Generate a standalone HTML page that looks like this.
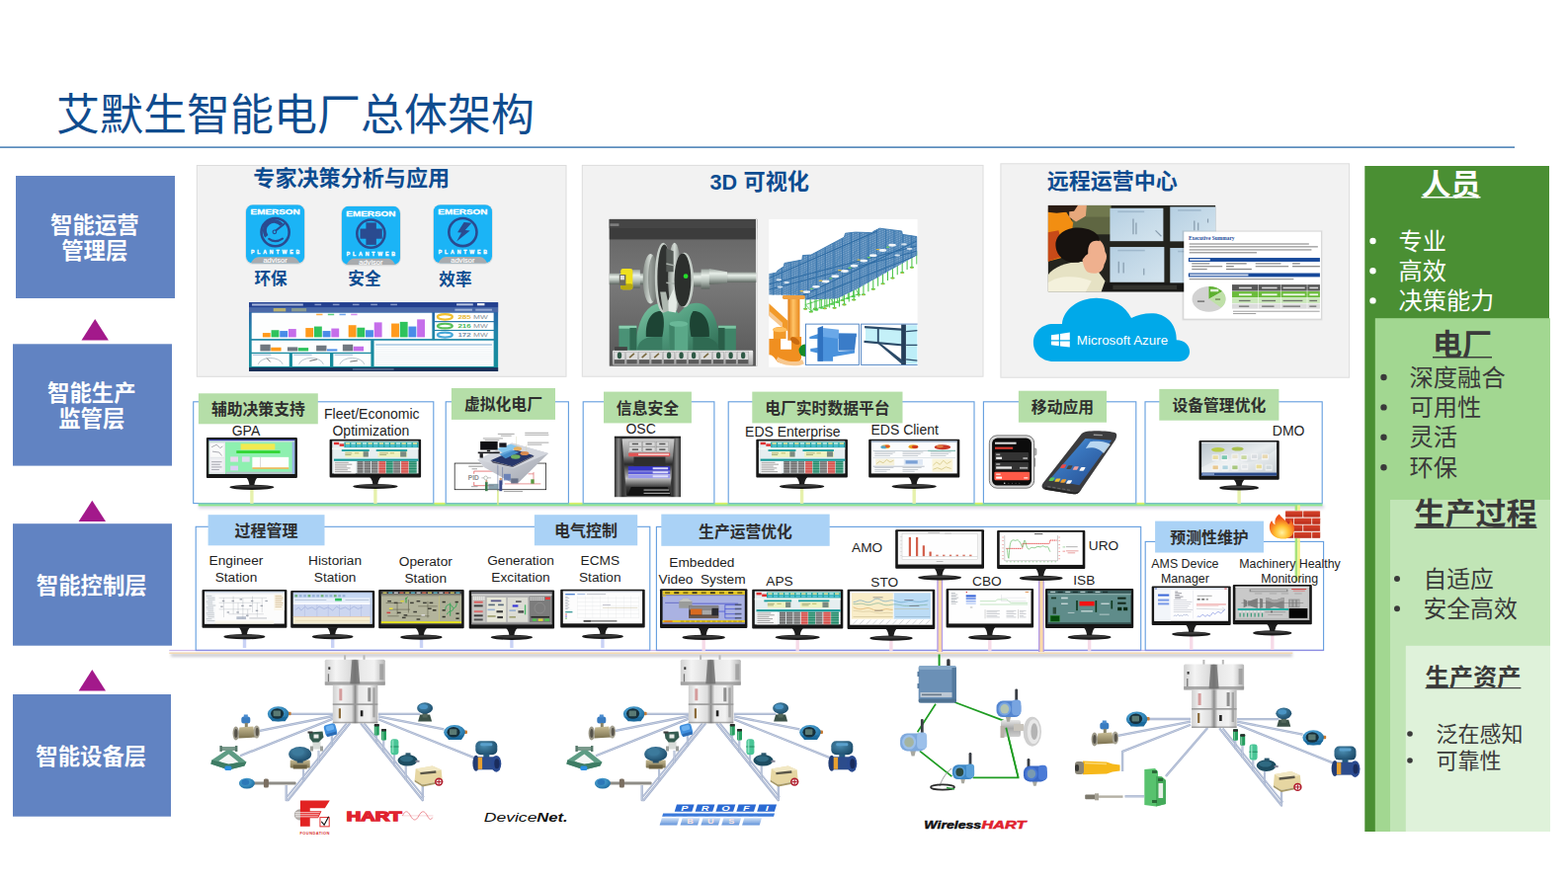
<!DOCTYPE html>
<html lang="zh"><head><meta charset="utf-8"><title>艾默生智能电厂总体架构</title>
<style>
html,body{margin:0;padding:0;background:#fff;}
body{width:1587px;height:892px;overflow:hidden;font-family:"Liberation Sans",sans-serif;}
#s{position:relative;width:1587px;height:892px;overflow:hidden;background:#fff;}
#s>svg{position:absolute;left:0;top:0;}
.t{position:absolute;transform:translate(-50%,-50%);white-space:nowrap;line-height:1;font-family:"Liberation Sans",sans-serif;text-align:center;}
.cj{font-family:"Liberation Sans","Noto Sans CJK SC",sans-serif;}
.cb{font-family:"Liberation Sans","Noto Sans CJK SC",sans-serif;font-weight:bold;}
</style></head><body>
<div id="s">
<svg width="1587" height="892" viewBox="0 0 1587 892" role="img" aria-label="艾默生智能电厂总体架构">
<filter id="blur2" x="-5%" y="-300%" width="110%" height="700%"><feGaussianBlur stdDeviation="1.6"/></filter>
<filter id="blur1" x="-20%" y="-20%" width="140%" height="140%"><feGaussianBlur stdDeviation="0.6"/></filter>
<linearGradient id="hubg" x1="0" y1="0" x2="1" y2="0"><stop offset="0" stop-color="#d0d0d0"/><stop offset=".18" stop-color="#f4f4f4"/><stop offset=".42" stop-color="#dcdcdc"/><stop offset=".5" stop-color="#8c8c8c"/><stop offset=".58" stop-color="#e8e8e8"/><stop offset=".82" stop-color="#f2f2f2"/><stop offset="1" stop-color="#b4b4b4"/></linearGradient>
<radialGradient id="bluR" cx=".4" cy=".35" r=".7"><stop offset="0" stop-color="#5ab4e6"/><stop offset="1" stop-color="#1c6a9c"/></radialGradient>
<radialGradient id="tealR" cx=".4" cy=".35" r=".7"><stop offset="0" stop-color="#4a8cb0"/><stop offset="1" stop-color="#1c4a68"/></radialGradient>
<linearGradient id="brs" x1="0" y1="0" x2="0" y2="1"><stop offset="0" stop-color="#c8bc94"/><stop offset="1" stop-color="#7c7250"/></linearGradient>
<linearGradient id="slv" x1="0" y1="0" x2="0" y2="1"><stop offset="0" stop-color="#e8e8e8"/><stop offset=".5" stop-color="#a8a8a8"/><stop offset="1" stop-color="#d0d0d0"/></linearGradient>
<text class="cj" x="57" y="132.2" font-size="44" fill="#0f4c8e">艾默生智能电厂总体架构</text>
<rect x="0.00" y="148.30" width="1533.00" height="1.70" fill="#5a8cbc" />
<rect x="16.00" y="178.00" width="161.00" height="124.00" fill="#6183c2" />
<text class="cb" x="51" y="235.86" font-size="22.4" fill="#fff">智能运营</text>
<text class="cb" x="62.2" y="262.26" font-size="22.4" fill="#fff">管理层</text>
<rect x="13.00" y="348.30" width="161.00" height="123.30" fill="#6183c2" />
<text class="cb" x="48" y="405.81" font-size="22.4" fill="#fff">智能生产</text>
<text class="cb" x="59.2" y="432.21" font-size="22.4" fill="#fff">监管层</text>
<rect x="13.00" y="530.20" width="161.00" height="123.50" fill="#6183c2" />
<text class="cb" x="36.8" y="601.01" font-size="22.4" fill="#fff">智能控制层</text>
<rect x="13.00" y="703.00" width="160.00" height="123.70" fill="#6183c2" />
<text class="cb" x="36.3" y="773.91" font-size="22.4" fill="#fff">智能设备层</text>
<path d="M96.2 323.0L109.9 344.5L82.5 344.5z" fill="#a3198b"/>
<path d="M93.3 506.8L107.0 528.0L79.6 528.0z" fill="#a3198b"/>
<path d="M93.3 677.9L107.0 699.6L79.6 699.6z" fill="#a3198b"/>
<rect x="1381.30" y="168.00" width="186.70" height="674.00" fill="#4a8f33" />
<rect x="1391.80" y="322.20" width="177.20" height="519.80" fill="#a2d791" />
<rect x="1407.00" y="506.00" width="162.00" height="336.00" fill="#c1e5b6" />
<rect x="1422.80" y="653.80" width="146.20" height="188.20" fill="#dff2da" />
<text class="cb" x="1438.5" y="196.8" font-size="30" fill="#fff">人员</text><rect x="1438.50" y="199.05" width="60.00" height="1.44" fill="#fff"/>
<circle cx="1389.5" cy="244.0" r="3.2" fill="#fff"/>
<text class="cj" x="1415.5" y="252.6" font-size="24.2" fill="#fff">专业</text>
<circle cx="1389.5" cy="274.2" r="3.2" fill="#fff"/>
<text class="cj" x="1415.5" y="282.8" font-size="24.2" fill="#fff">高效</text>
<circle cx="1389.5" cy="304.4" r="3.2" fill="#fff"/>
<text class="cj" x="1415.5" y="313" font-size="24.2" fill="#fff">决策能力</text>
<text class="cb" x="1450" y="358.8" font-size="30" fill="#3a3a3a">电厂</text><rect x="1450.00" y="361.05" width="60.00" height="1.44" fill="#3a3a3a"/>
<circle cx="1400.5" cy="382.0" r="3.2" fill="#3a3a3a"/>
<text class="cj" x="1426.5" y="390.6" font-size="24.3" fill="#3a3a3a">深度融合</text>
<circle cx="1400.5" cy="412.4" r="3.2" fill="#3a3a3a"/>
<text class="cj" x="1426.5" y="421" font-size="24.3" fill="#3a3a3a">可用性</text>
<circle cx="1400.5" cy="442.8" r="3.2" fill="#3a3a3a"/>
<text class="cj" x="1426.5" y="451.4" font-size="24.3" fill="#3a3a3a">灵活</text>
<circle cx="1400.5" cy="473.2" r="3.2" fill="#3a3a3a"/>
<text class="cj" x="1426.5" y="481.8" font-size="24.3" fill="#3a3a3a">环保</text>
<text class="cb" x="1431.5" y="531.16" font-size="31" fill="#3a3a3a">生产过程</text><rect x="1431.50" y="533.49" width="124.00" height="1.49" fill="#3a3a3a"/>
<circle cx="1414" cy="586.0" r="3.0" fill="#3a3a3a"/>
<text class="cj" x="1440.5" y="594.6" font-size="23.8" fill="#3a3a3a">自适应</text>
<circle cx="1414" cy="616.3" r="3.0" fill="#3a3a3a"/>
<text class="cj" x="1440.5" y="624.9" font-size="23.8" fill="#3a3a3a">安全高效</text>
<text class="cb" x="1442.6" y="694.21" font-size="24.2" fill="#3a3a3a">生产资产</text><rect x="1442.60" y="696.03" width="96.80" height="1.16" fill="#3a3a3a"/>
<circle cx="1427" cy="743.0" r="2.8" fill="#3a3a3a"/>
<text class="cj" x="1453.5" y="751" font-size="22" fill="#3a3a3a">泛在感知</text>
<circle cx="1427" cy="770.0" r="2.8" fill="#3a3a3a"/>
<text class="cj" x="1453.5" y="778" font-size="22" fill="#3a3a3a">可靠性</text>
<rect x="199.30" y="167.50" width="373.70" height="213.80" fill="#f2f2f2" stroke="#dcdcdc" stroke-width="1" />
<rect x="589.30" y="167.40" width="405.70" height="213.80" fill="#f2f2f2" stroke="#dcdcdc" stroke-width="1" />
<rect x="1012.90" y="165.80" width="352.70" height="216.40" fill="#f2f2f2" stroke="#dcdcdc" stroke-width="1" />
<text class="cb" x="256.3" y="188.2" font-size="22.1" fill="#0c4c90">专家决策分析与应用</text>
<text x="718.6" y="192.4" font-family="Liberation Sans, sans-serif" font-weight="bold" font-size="21.6" fill="#0c4c90">3D</text>
<text class="cb" x="752.5" y="192.3" font-size="22.2" fill="#0c4c90">可视化</text>
<text class="cb" x="1059.8" y="190.8" font-size="22" fill="#0c4c90">远程运营中心</text>
<g transform="translate(249.00 207.30) scale(0.11840)"><rect x="-6" y="-2" width="512" height="512" rx="64" fill="#000" opacity="0.10"/><clipPath id="pwca"><rect x="0" y="0" width="500" height="500" rx="60"/></clipPath><g clip-path="url(#pwca)"><rect x="0" y="0" width="500" height="500" fill="#1bb4f6"/><path d="M35 505 C60 470 75 447 105 447 L395 447 C425 447 440 470 465 505z" fill="#a9abae"/></g><text x="250" y="82" font-family="Liberation Sans, sans-serif" font-weight="bold" font-size="66" fill="#fff" stroke="#fff" stroke-width="2.5" text-anchor="middle" transform="translate(250 0) scale(1.27 1) translate(-250 0)">EMERSON</text><text x="262" y="424" font-family="Liberation Sans, sans-serif" font-weight="bold" font-size="44" fill="#fff" stroke="#fff" stroke-width="2.5" text-anchor="middle" letter-spacing="24">PLANTWEB</text><text x="250" y="497" font-family="Liberation Sans, sans-serif" font-size="64" fill="#fff" stroke="#fff" stroke-width="1" text-anchor="middle">advisor</text><circle cx="250" cy="235" r="119" fill="none" stroke="#2a4b90" stroke-width="22"/><path d="M176 270 A80 80 0 0 1 304 172" fill="none" stroke="#2a4b90" stroke-width="32"/><path d="M196 292 Q250 332 312 290" fill="none" stroke="#2a4b90" stroke-width="18" stroke-linecap="round"/><path d="M246 228 L324 166" stroke="#2a4b90" stroke-width="17" stroke-linecap="round"/><circle cx="244" cy="232" r="15" fill="#1bb4f6" stroke="#2a4b90" stroke-width="10"/></g>
<g transform="translate(345.80 208.80) scale(0.11840)"><rect x="-6" y="-2" width="512" height="512" rx="64" fill="#000" opacity="0.10"/><clipPath id="pwcb"><rect x="0" y="0" width="500" height="500" rx="60"/></clipPath><g clip-path="url(#pwcb)"><rect x="0" y="0" width="500" height="500" fill="#1bb4f6"/><path d="M35 505 C60 470 75 447 105 447 L395 447 C425 447 440 470 465 505z" fill="#a9abae"/></g><text x="250" y="82" font-family="Liberation Sans, sans-serif" font-weight="bold" font-size="66" fill="#fff" stroke="#fff" stroke-width="2.5" text-anchor="middle" transform="translate(250 0) scale(1.27 1) translate(-250 0)">EMERSON</text><text x="262" y="424" font-family="Liberation Sans, sans-serif" font-weight="bold" font-size="44" fill="#fff" stroke="#fff" stroke-width="2.5" text-anchor="middle" letter-spacing="24">PLANTWEB</text><text x="250" y="497" font-family="Liberation Sans, sans-serif" font-size="64" fill="#fff" stroke="#fff" stroke-width="1" text-anchor="middle">advisor</text><circle cx="250" cy="235" r="119" fill="none" stroke="#2a4b90" stroke-width="22"/><rect x="208" y="140" width="88" height="190" fill="#2a4b90"/><rect x="158" y="192" width="188" height="86" fill="#2a4b90"/></g>
<g transform="translate(438.80 207.20) scale(0.11840)"><rect x="-6" y="-2" width="512" height="512" rx="64" fill="#000" opacity="0.10"/><clipPath id="pwcc"><rect x="0" y="0" width="500" height="500" rx="60"/></clipPath><g clip-path="url(#pwcc)"><rect x="0" y="0" width="500" height="500" fill="#1bb4f6"/><path d="M35 505 C60 470 75 447 105 447 L395 447 C425 447 440 470 465 505z" fill="#a9abae"/></g><text x="250" y="82" font-family="Liberation Sans, sans-serif" font-weight="bold" font-size="66" fill="#fff" stroke="#fff" stroke-width="2.5" text-anchor="middle" transform="translate(250 0) scale(1.27 1) translate(-250 0)">EMERSON</text><text x="262" y="424" font-family="Liberation Sans, sans-serif" font-weight="bold" font-size="44" fill="#fff" stroke="#fff" stroke-width="2.5" text-anchor="middle" letter-spacing="24">PLANTWEB</text><text x="250" y="497" font-family="Liberation Sans, sans-serif" font-size="64" fill="#fff" stroke="#fff" stroke-width="1" text-anchor="middle">advisor</text><circle cx="250" cy="235" r="119" fill="none" stroke="#2a4b90" stroke-width="22"/><path d="M260 150L325 157L270 217L312 222L197 315L238 240L205 237z" fill="#2a4b90"/></g>
<text class="cb" x="257.4" y="288.3" font-size="16.6" fill="#0c4c90">环保</text>
<text class="cb" x="352.3" y="288.3" font-size="16.6" fill="#0c4c90">安全</text>
<text class="cb" x="444.3" y="289.3" font-size="16.6" fill="#0c4c90">效率</text>
<g transform="translate(245 300) scale(0.16697)"><defs><linearGradient id="dbg" x1="0" y1="0" x2="0" y2="1"><stop offset="0" stop-color="#2c56a8"/><stop offset="0.45" stop-color="#1f86a8"/><stop offset="1" stop-color="#15909a"/></linearGradient></defs><rect x="42" y="37" width="1510" height="418" fill="url(#dbg)"/><rect x="42" y="37" width="1510" height="30" fill="#24408f"/><rect x="42" y="67" width="1510" height="30" fill="#4a68a8"/><rect x="190" y="72" width="75" height="20" fill="#b8b070"/><rect x="300" y="72" width="90" height="20" fill="#8a9a90"/><rect x="60" y="45" width="310" height="12" fill="#c8d4ee" opacity=".8"/><rect x="440" y="46" width="40" height="9" fill="#aebce0" opacity=".7"/><rect x="550" y="46" width="40" height="9" fill="#aebce0" opacity=".7"/><rect x="670" y="46" width="40" height="9" fill="#aebce0" opacity=".7"/><rect x="780" y="46" width="40" height="9" fill="#aebce0" opacity=".7"/><rect x="900" y="46" width="40" height="9" fill="#aebce0" opacity=".7"/><rect x="1300" y="44" width="100" height="12" fill="#dfe6f5" opacity=".8"/><rect x="1425" y="42" width="45" height="14" fill="#fff" opacity=".9"/><rect x="1290" y="76" width="105" height="12" fill="#c8d4ee" opacity=".7"/><rect x="1415" y="76" width="100" height="12" fill="#c8d4ee" opacity=".6"/><rect x="42" y="432" width="1510" height="23" fill="#1c3058"/><rect x="670" y="440" width="250" height="6" fill="#9fb0d0" opacity=".7"/><rect x="58" y="100" width="1094" height="158" fill="#fdfefe"/><rect x="125" y="222" width="47" height="26" fill="#ff9a1c"/><rect x="177" y="205" width="47" height="43" fill="#2fc35c"/><rect x="229" y="210" width="47" height="38" fill="#4a8ce8"/><rect x="281" y="198" width="47" height="50" fill="#c56eea"/><rect x="385" y="192" width="47" height="56" fill="#ff9a1c"/><rect x="437" y="183" width="47" height="65" fill="#2fc35c"/><rect x="489" y="210" width="47" height="38" fill="#4a8ce8"/><rect x="541" y="195" width="47" height="53" fill="#c56eea"/><rect x="645" y="175" width="47" height="73" fill="#ff9a1c"/><rect x="697" y="190" width="47" height="58" fill="#2fc35c"/><rect x="749" y="205" width="47" height="43" fill="#4a8ce8"/><rect x="801" y="158" width="47" height="90" fill="#c56eea"/><rect x="905" y="165" width="47" height="83" fill="#ff9a1c"/><rect x="957" y="155" width="47" height="93" fill="#2fc35c"/><rect x="1009" y="183" width="47" height="65" fill="#4a8ce8"/><rect x="1061" y="140" width="47" height="108" fill="#c56eea"/><rect x="450" y="106" width="38" height="9" fill="#ff9a1c" opacity=".8"/><rect x="520" y="106" width="38" height="9" fill="#2fc35c" opacity=".8"/><rect x="590" y="106" width="38" height="9" fill="#4a8ce8" opacity=".8"/><rect x="660" y="106" width="38" height="9" fill="#c56eea" opacity=".8"/><rect x="1168" y="100" width="357" height="50" fill="#fff"/><ellipse cx="1230" cy="125" rx="45" ry="16" fill="none" stroke="#f0c030" stroke-width="13"/><text x="1308" y="139" font-family="Liberation Sans, sans-serif" font-weight="bold" font-size="36" fill="#e8b830" textLength="80" lengthAdjust="spacingAndGlyphs">285</text><text x="1402" y="139" font-family="Liberation Sans, sans-serif" font-size="27" fill="#8a949e" textLength="88" lengthAdjust="spacingAndGlyphs">MW</text><rect x="1168" y="157" width="357" height="46" fill="#fff"/><ellipse cx="1230" cy="180" rx="45" ry="14" fill="none" stroke="#58c058" stroke-width="13"/><text x="1308" y="194" font-family="Liberation Sans, sans-serif" font-weight="bold" font-size="36" fill="#48b858" textLength="80" lengthAdjust="spacingAndGlyphs">216</text><text x="1402" y="194" font-family="Liberation Sans, sans-serif" font-size="27" fill="#8a949e" textLength="88" lengthAdjust="spacingAndGlyphs">MW</text><rect x="1168" y="210" width="357" height="48" fill="#fff"/><ellipse cx="1230" cy="234" rx="45" ry="15" fill="none" stroke="#48a8d8" stroke-width="13"/><text x="1308" y="248" font-family="Liberation Sans, sans-serif" font-weight="bold" font-size="36" fill="#7890a8" textLength="80" lengthAdjust="spacingAndGlyphs">172</text><text x="1402" y="248" font-family="Liberation Sans, sans-serif" font-size="27" fill="#8a949e" textLength="88" lengthAdjust="spacingAndGlyphs">MW</text><rect x="58" y="268" width="722" height="72" fill="#fdfefe"/><rect x="110" y="292" width="62" height="40" fill="#707880"/><rect x="175" y="310" width="62" height="22" fill="#ff9a1c"/><rect x="275" y="308" width="62" height="24" fill="#707880"/><rect x="340" y="312" width="62" height="20" fill="#2fc35c"/><rect x="450" y="298" width="62" height="34" fill="#707880"/><rect x="515" y="320" width="62" height="12" fill="#4a8ce8"/><rect x="610" y="292" width="62" height="40" fill="#707880"/><rect x="675" y="304" width="62" height="28" fill="#c56eea"/><rect x="800" y="268" width="725" height="157" fill="#fdfefe"/><rect x="810" y="290" width="705" height="7" fill="#8ab4d8"/><rect x="810" y="308" width="705" height="3" fill="#dfe8ee"/><rect x="810" y="321" width="705" height="3" fill="#dfe8ee"/><rect x="810" y="334" width="705" height="3" fill="#dfe8ee"/><rect x="810" y="347" width="705" height="3" fill="#dfe8ee"/><rect x="810" y="360" width="705" height="3" fill="#dfe8ee"/><rect x="810" y="373" width="705" height="3" fill="#dfe8ee"/><rect x="810" y="386" width="705" height="3" fill="#dfe8ee"/><rect x="810" y="399" width="705" height="3" fill="#dfe8ee"/><rect x="810" y="412" width="705" height="3" fill="#dfe8ee"/><rect x="58" y="348" width="228" height="77" fill="#fdfefe"/><path d="M98 412 A75 45 0 0 1 246 412" fill="none" stroke="#a8b8c0" stroke-width="5"/><rect x="66" y="352" width="110" height="6" fill="#7aa0c8" opacity=".7"/><rect x="305" y="348" width="228" height="77" fill="#fdfefe"/><path d="M345 412 A75 45 0 0 1 493 412" fill="none" stroke="#a8b8c0" stroke-width="5"/><rect x="313" y="352" width="110" height="6" fill="#7aa0c8" opacity=".7"/><rect x="553" y="348" width="228" height="77" fill="#fdfefe"/><path d="M593 412 A75 45 0 0 1 741 412" fill="none" stroke="#a8b8c0" stroke-width="5"/><rect x="561" y="352" width="110" height="6" fill="#7aa0c8" opacity=".7"/><path d="M150 375L172 398" stroke="#555" stroke-width="5"/><path d="M410 392L455 382" stroke="#555" stroke-width="5"/><path d="M655 396L700 390" stroke="#555" stroke-width="5"/></g>
<g transform="translate(610 215) scale(0.18273)"><defs><linearGradient id="tbg" x1="0" y1="0" x2="0" y2="1"><stop offset="0" stop-color="#626262"/><stop offset="0.45" stop-color="#787878"/><stop offset="1" stop-color="#585858"/></linearGradient><linearGradient id="shf" x1="0" y1="0" x2="0" y2="1"><stop offset="0" stop-color="#9aa39d"/><stop offset="0.3" stop-color="#e8efe9"/><stop offset="0.6" stop-color="#b8c2bb"/><stop offset="1" stop-color="#5c645f"/></linearGradient><linearGradient id="dsk" x1="0" y1="0" x2="1" y2="0"><stop offset="0" stop-color="#8a928c"/><stop offset="0.5" stop-color="#d5dcd7"/><stop offset="1" stop-color="#6a726c"/></linearGradient><linearGradient id="grn" x1="0" y1="0" x2="1" y2="1"><stop offset="0" stop-color="#7cc4a2"/><stop offset="0.5" stop-color="#4f9a7c"/><stop offset="1" stop-color="#2f6a52"/></linearGradient><linearGradient id="tlb" x1="0" y1="0" x2="0" y2="1"><stop offset="0" stop-color="#f0f0f0"/><stop offset="1" stop-color="#a8a8a8"/></linearGradient></defs><rect x="37" y="38" width="818" height="814" fill="url(#tbg)"/><rect x="37" y="38" width="818" height="112" fill="#3c3c3c"/><rect x="37" y="38" width="818" height="50" fill="#454545"/><rect x="40" y="62" width="50" height="14" fill="#999" opacity=".7"/><rect x="848" y="38" width="9" height="814" fill="#e6e6e6"/><rect x="37" y="338" width="200" height="62" fill="url(#shf)"/><rect x="165" y="318" width="42" height="102" fill="url(#shf)"/><rect x="100" y="312" width="66" height="116" rx="12" fill="#efe01e"/><rect x="100" y="395" width="66" height="33" rx="10" fill="#b8aa10"/><rect x="92" y="345" width="36" height="60" fill="#6a6a60"/><rect x="98" y="350" width="22" height="24" fill="#ddd"/><rect x="490" y="332" width="60" height="80" fill="url(#shf)"/><rect x="545" y="315" width="48" height="110" fill="url(#shf)"/><path d="M590 312L690 330L690 392L590 400z" fill="url(#shf)"/><rect x="690" y="332" width="160" height="56" fill="url(#shf)"/><path d="M180 765C185 640 215 560 270 520C300 500 340 498 380 520L420 560L460 520C500 495 545 498 575 520C625 560 645 640 652 765z" fill="url(#grn)"/><rect x="90" y="628" width="98" height="137" fill="#4a9276"/><rect x="90" y="628" width="98" height="16" fill="#8ad0b0"/><rect x="150" y="640" width="38" height="125" fill="#2f6a52"/><rect x="640" y="628" width="98" height="137" fill="#3f8468"/><rect x="640" y="628" width="98" height="16" fill="#7cc4a2"/><rect x="640" y="640" width="36" height="125" fill="#2a5e48"/><path d="M240 690C235 600 270 545 325 548C345 580 340 640 330 690z" fill="#1d4434"/><path d="M590 690C595 600 560 545 500 548C475 580 480 640 490 690z" fill="#1d4434"/><path d="M190 765C195 715 230 690 290 690L330 690L330 765z" fill="#3a7c62"/><path d="M645 765C640 715 600 690 545 690L500 690L500 765z" fill="#2f6a52"/><rect x="368" y="615" width="104" height="150" fill="#5aa888"/><rect x="368" y="615" width="30" height="150" fill="#3f8468"/><ellipse cx="420" cy="618" rx="52" ry="16" fill="#6ab898"/><ellipse cx="265" cy="368" rx="42" ry="138" fill="url(#dsk)"/><ellipse cx="282" cy="368" rx="30" ry="128" fill="#6a726c" opacity=".6"/><ellipse cx="335" cy="362" rx="46" ry="194" fill="#c8d0ca"/><ellipse cx="341" cy="362" rx="38" ry="184" fill="#303331"/><ellipse cx="398" cy="360" rx="36" ry="192" fill="url(#dsk)"/><path d="M352 200L392 215L392 330L352 330z" fill="#555b57"/><path d="M352 285L398 295" stroke="#aab2ac" stroke-width="8"/><path d="M352 390L398 395" stroke="#aab2ac" stroke-width="8"/><ellipse cx="452" cy="375" rx="52" ry="152" fill="#c5cdc7"/><ellipse cx="443" cy="375" rx="46" ry="148" fill="#2c2f2d"/><path d="M318 440L350 440L372 545L335 555z" fill="#aeb8b0"/><path d="M362 490L392 425L410 500L405 555L365 548z" fill="#e4eae5"/><circle cx="460" cy="354" r="13" fill="#25dd2a"/><rect x="55" y="765" width="778" height="82" rx="6" fill="url(#tlb)"/><rect x="66" y="745" width="70" height="20" fill="#444"/><rect x="62.0" y="772" width="62" height="70" fill="#dcdcdc" stroke="#888" stroke-width="2"/><rect x="64.0" y="816" width="58" height="24" fill="#5a5a5a"/><ellipse cx="93.0" cy="793" rx="12" ry="18" fill="#2f5a46"/><rect x="130.5" y="772" width="62" height="70" fill="#dcdcdc" stroke="#888" stroke-width="2"/><rect x="132.5" y="816" width="58" height="24" fill="#5a5a5a"/><path d="M148.5 805L174.5 782" stroke="#7a6a40" stroke-width="9"/><rect x="199.0" y="772" width="62" height="70" fill="#dcdcdc" stroke="#888" stroke-width="2"/><rect x="201.0" y="816" width="58" height="24" fill="#5a5a5a"/><path d="M217.0 805L243.0 782" stroke="#7a6a40" stroke-width="9"/><rect x="267.5" y="772" width="62" height="70" fill="#dcdcdc" stroke="#888" stroke-width="2"/><rect x="269.5" y="816" width="58" height="24" fill="#5a5a5a"/><path d="M285.5 805L311.5 782" stroke="#7a6a40" stroke-width="9"/><rect x="336.0" y="772" width="62" height="70" fill="#dcdcdc" stroke="#888" stroke-width="2"/><rect x="338.0" y="816" width="58" height="24" fill="#5a5a5a"/><ellipse cx="367.0" cy="793" rx="12" ry="18" fill="#2f5a46"/><rect x="404.5" y="772" width="62" height="70" fill="#dcdcdc" stroke="#888" stroke-width="2"/><rect x="406.5" y="816" width="58" height="24" fill="#5a5a5a"/><ellipse cx="435.5" cy="793" rx="12" ry="18" fill="#2f5a46"/><rect x="473.0" y="772" width="62" height="70" fill="#dcdcdc" stroke="#888" stroke-width="2"/><rect x="475.0" y="816" width="58" height="24" fill="#5a5a5a"/><ellipse cx="504.0" cy="793" rx="12" ry="18" fill="#2f5a46"/><rect x="541.5" y="772" width="62" height="70" fill="#dcdcdc" stroke="#888" stroke-width="2"/><rect x="543.5" y="816" width="58" height="24" fill="#5a5a5a"/><path d="M559.5 805L585.5 782" stroke="#7a6a40" stroke-width="9"/><rect x="610.0" y="772" width="62" height="70" fill="#dcdcdc" stroke="#888" stroke-width="2"/><rect x="612.0" y="816" width="58" height="24" fill="#5a5a5a"/><ellipse cx="641.0" cy="793" rx="12" ry="18" fill="#2f5a46"/><rect x="678.5" y="772" width="62" height="70" fill="#dcdcdc" stroke="#888" stroke-width="2"/><rect x="680.5" y="816" width="58" height="24" fill="#5a5a5a"/><ellipse cx="709.5" cy="793" rx="12" ry="18" fill="#2f5a46"/><rect x="747.0" y="772" width="62" height="70" fill="#dcdcdc" stroke="#888" stroke-width="2"/><rect x="749.0" y="816" width="58" height="24" fill="#5a5a5a"/><ellipse cx="778.0" cy="793" rx="12" ry="18" fill="#2f5a46"/></g>
<g transform="translate(770 215) scale(0.18273)"><rect x="45" y="38" width="823" height="820" fill="#fff"/><clipPath id="stc"><rect x="45" y="38" width="823" height="820"/></clipPath><g clip-path="url(#stc)"><g transform="translate(32.84 54.73) scale(0.6133)"><defs><pattern id="lat" width="22" height="20" patternUnits="userSpaceOnUse" patternTransform="skewY(-24)"><rect width="22" height="20" fill="#4b82b4"/><rect x="5" y="5" width="13" height="10" fill="#8fb3d6"/></pattern></defs><path d="M350 660V780" stroke="#42c242" stroke-width="9"/><ellipse cx="350" cy="784" rx="20" ry="9" fill="#4fd04a"/><ellipse cx="350" cy="786" rx="9" ry="5" fill="#e8a030"/><path d="M394 658V778" stroke="#42c242" stroke-width="9"/><path d="M437 657V777" stroke="#42c242" stroke-width="9"/><ellipse cx="437" cy="781" rx="20" ry="9" fill="#4fd04a"/><ellipse cx="437" cy="783" rx="9" ry="5" fill="#e8a030"/><path d="M481 655V775" stroke="#42c242" stroke-width="9"/><path d="M525 654V774" stroke="#42c242" stroke-width="9"/><ellipse cx="525" cy="778" rx="20" ry="9" fill="#4fd04a"/><ellipse cx="525" cy="780" rx="9" ry="5" fill="#e8a030"/><path d="M568 652V772" stroke="#42c242" stroke-width="9"/><path d="M612 651V771" stroke="#42c242" stroke-width="9"/><ellipse cx="612" cy="775" rx="20" ry="9" fill="#4fd04a"/><ellipse cx="612" cy="777" rx="9" ry="5" fill="#e8a030"/><path d="M656 642V762" stroke="#42c242" stroke-width="9"/><path d="M700 620V740" stroke="#42c242" stroke-width="9"/><ellipse cx="700" cy="744" rx="20" ry="9" fill="#4fd04a"/><ellipse cx="700" cy="746" rx="9" ry="5" fill="#e8a030"/><path d="M743 598V718" stroke="#42c242" stroke-width="9"/><path d="M787 577V697" stroke="#42c242" stroke-width="9"/><ellipse cx="787" cy="701" rx="20" ry="9" fill="#4fd04a"/><ellipse cx="787" cy="703" rx="9" ry="5" fill="#e8a030"/><path d="M831 554V674" stroke="#42c242" stroke-width="9"/><path d="M874 530V650" stroke="#42c242" stroke-width="9"/><ellipse cx="874" cy="654" rx="20" ry="9" fill="#4fd04a"/><ellipse cx="874" cy="656" rx="9" ry="5" fill="#e8a030"/><path d="M918 506V626" stroke="#42c242" stroke-width="9"/><path d="M962 481V601" stroke="#42c242" stroke-width="9"/><ellipse cx="962" cy="605" rx="20" ry="9" fill="#4fd04a"/><ellipse cx="962" cy="607" rx="9" ry="5" fill="#e8a030"/><path d="M1005 457V577" stroke="#42c242" stroke-width="9"/><path d="M1049 432V552" stroke="#42c242" stroke-width="9"/><ellipse cx="1049" cy="556" rx="20" ry="9" fill="#4fd04a"/><ellipse cx="1049" cy="558" rx="9" ry="5" fill="#e8a030"/><path d="M1093 407V527" stroke="#42c242" stroke-width="9"/><path d="M1137 381V501" stroke="#42c242" stroke-width="9"/><ellipse cx="1137" cy="505" rx="20" ry="9" fill="#4fd04a"/><ellipse cx="1137" cy="507" rx="9" ry="5" fill="#e8a030"/><path d="M1180 356V476" stroke="#42c242" stroke-width="9"/><path d="M1224 332V452" stroke="#42c242" stroke-width="9"/><ellipse cx="1224" cy="456" rx="20" ry="9" fill="#4fd04a"/><ellipse cx="1224" cy="458" rx="9" ry="5" fill="#e8a030"/><path d="M1268 308V428" stroke="#42c242" stroke-width="9"/><path d="M1311 284V404" stroke="#42c242" stroke-width="9"/><ellipse cx="1311" cy="408" rx="20" ry="9" fill="#4fd04a"/><ellipse cx="1311" cy="410" rx="9" ry="5" fill="#e8a030"/><path d="M1355 260V380" stroke="#42c242" stroke-width="9"/><path d="M400 715V805" stroke="#42c242" stroke-width="8"/><ellipse cx="400" cy="809" rx="20" ry="8" fill="#4fd04a"/><ellipse cx="400" cy="811" rx="8" ry="4" fill="#e8a030"/><path d="M448 698V788" stroke="#42c242" stroke-width="8"/><ellipse cx="448" cy="792" rx="20" ry="8" fill="#4fd04a"/><path d="M496 681V771" stroke="#42c242" stroke-width="8"/><ellipse cx="496" cy="775" rx="20" ry="8" fill="#4fd04a"/><path d="M543 663V753" stroke="#42c242" stroke-width="8"/><ellipse cx="543" cy="757" rx="20" ry="8" fill="#4fd04a"/><ellipse cx="543" cy="759" rx="8" ry="4" fill="#e8a030"/><path d="M591 646V736" stroke="#42c242" stroke-width="8"/><ellipse cx="591" cy="740" rx="20" ry="8" fill="#4fd04a"/><path d="M639 629V719" stroke="#42c242" stroke-width="8"/><ellipse cx="639" cy="723" rx="20" ry="8" fill="#4fd04a"/><path d="M687 612V702" stroke="#42c242" stroke-width="8"/><ellipse cx="687" cy="706" rx="20" ry="8" fill="#4fd04a"/><ellipse cx="687" cy="708" rx="8" ry="4" fill="#e8a030"/><path d="M734 594V684" stroke="#42c242" stroke-width="8"/><ellipse cx="734" cy="688" rx="20" ry="8" fill="#4fd04a"/><path d="M782 577V667" stroke="#42c242" stroke-width="8"/><ellipse cx="782" cy="671" rx="20" ry="8" fill="#4fd04a"/><path d="M830 560V650" stroke="#42c242" stroke-width="8"/><ellipse cx="830" cy="654" rx="20" ry="8" fill="#4fd04a"/><ellipse cx="830" cy="656" rx="8" ry="4" fill="#e8a030"/><path d="M350 745L800 600M400 800L830 648M350 745L400 800M560 675L610 730M800 600L830 648" stroke="#42c242" stroke-width="7" fill="none"/><path d="M20 470L90 455L95 440L155 400L160 370L320 340L325 300L400 295L410 290L700 135L710 100L800 90L950 95L960 85L1020 55L1220 80L1225 110L1355 130L1355 300L1200 385L1000 500L820 600L640 690L350 700L330 660L20 655z" fill="url(#lat)"/><clipPath id="stb"><path d="M20 470L90 455L95 440L155 400L160 370L320 340L325 300L400 295L410 290L700 135L710 100L800 90L950 95L960 85L1020 55L1220 80L1225 110L1355 130L1355 300L1200 385L1000 500L820 600L640 690L350 700L330 660L20 655z"/></clipPath><g clip-path="url(#stb)"><path d="M20 560L1355 215" stroke="#2c6aa2" stroke-width="9"/><path d="M20 610L1355 262" stroke="#2c6aa2" stroke-width="9"/><path d="M330 660L1355 170" stroke="#2c6aa2" stroke-width="9"/><path d="M20 505L1000 80" stroke="#2c6aa2" stroke-width="9"/><path d="M350 700L1355 300" stroke="#2c6aa2" stroke-width="9"/><path d="M60 40V720" stroke="#3573ac" stroke-width="9" opacity=".9"/><path d="M138 40V720" stroke="#3573ac" stroke-width="9" opacity=".9"/><path d="M216 40V720" stroke="#3573ac" stroke-width="9" opacity=".9"/><path d="M294 40V720" stroke="#3573ac" stroke-width="9" opacity=".9"/><path d="M372 40V720" stroke="#3573ac" stroke-width="9" opacity=".9"/><path d="M450 40V720" stroke="#3573ac" stroke-width="9" opacity=".9"/><path d="M528 40V720" stroke="#3573ac" stroke-width="9" opacity=".9"/><path d="M606 40V720" stroke="#3573ac" stroke-width="9" opacity=".9"/><path d="M684 40V720" stroke="#3573ac" stroke-width="9" opacity=".9"/><path d="M762 40V720" stroke="#3573ac" stroke-width="9" opacity=".9"/><path d="M840 40V720" stroke="#3573ac" stroke-width="9" opacity=".9"/><path d="M918 40V720" stroke="#3573ac" stroke-width="9" opacity=".9"/><path d="M996 40V720" stroke="#3573ac" stroke-width="9" opacity=".9"/><path d="M1074 40V720" stroke="#3573ac" stroke-width="9" opacity=".9"/><path d="M1152 40V720" stroke="#3573ac" stroke-width="9" opacity=".9"/><path d="M1230 40V720" stroke="#3573ac" stroke-width="9" opacity=".9"/><path d="M1308 40V720" stroke="#3573ac" stroke-width="9" opacity=".9"/><path d="M1386 40V720" stroke="#3573ac" stroke-width="9" opacity=".9"/><path d="M250 640L360 430" stroke="#3f7fb8" stroke-width="6" opacity=".8"/><path d="M400 580L510 370" stroke="#3f7fb8" stroke-width="6" opacity=".8"/><path d="M550 520L660 310" stroke="#3f7fb8" stroke-width="6" opacity=".8"/><path d="M700 460L810 250" stroke="#3f7fb8" stroke-width="6" opacity=".8"/><path d="M850 400L960 190" stroke="#3f7fb8" stroke-width="6" opacity=".8"/><path d="M1000 340L1110 130" stroke="#3f7fb8" stroke-width="6" opacity=".8"/><path d="M1150 280L1260 70" stroke="#3f7fb8" stroke-width="6" opacity=".8"/><path d="M1300 220L1410 10" stroke="#3f7fb8" stroke-width="6" opacity=".8"/><ellipse cx="360" cy="630" rx="34" ry="13" fill="#fff" opacity=".92"/><ellipse cx="315" cy="622" rx="18" ry="6" fill="#e8c040"/><ellipse cx="446" cy="583" rx="34" ry="13" fill="#fff" opacity=".92"/><ellipse cx="406" cy="601" rx="16" ry="6" fill="#6cd060"/><ellipse cx="532" cy="536" rx="34" ry="13" fill="#fff" opacity=".92"/><ellipse cx="487" cy="528" rx="18" ry="6" fill="#e8c040"/><ellipse cx="618" cy="489" rx="34" ry="13" fill="#fff" opacity=".92"/><ellipse cx="578" cy="507" rx="16" ry="6" fill="#6cd060"/><ellipse cx="704" cy="442" rx="34" ry="13" fill="#fff" opacity=".92"/><ellipse cx="659" cy="434" rx="18" ry="6" fill="#e8c040"/><ellipse cx="790" cy="395" rx="34" ry="13" fill="#fff" opacity=".92"/><ellipse cx="750" cy="413" rx="16" ry="6" fill="#6cd060"/><ellipse cx="876" cy="348" rx="34" ry="13" fill="#fff" opacity=".92"/><ellipse cx="831" cy="340" rx="18" ry="6" fill="#e8c040"/><ellipse cx="962" cy="301" rx="34" ry="13" fill="#fff" opacity=".92"/><ellipse cx="922" cy="319" rx="16" ry="6" fill="#6cd060"/><ellipse cx="1048" cy="254" rx="34" ry="13" fill="#fff" opacity=".92"/><ellipse cx="1003" cy="246" rx="18" ry="6" fill="#e8c040"/><ellipse cx="1134" cy="207" rx="34" ry="13" fill="#fff" opacity=".92"/><ellipse cx="1094" cy="225" rx="16" ry="6" fill="#6cd060"/><ellipse cx="110" cy="520" rx="26" ry="10" fill="#fff" opacity=".75"/><ellipse cx="180" cy="545" rx="26" ry="10" fill="#fff" opacity=".75"/><ellipse cx="120" cy="585" rx="26" ry="10" fill="#fff" opacity=".75"/><ellipse cx="1240" cy="200" rx="26" ry="10" fill="#fff" opacity=".75"/><ellipse cx="1290" cy="240" rx="26" ry="10" fill="#fff" opacity=".75"/><ellipse cx="1180" cy="300" rx="26" ry="10" fill="#fff" opacity=".75"/></g><path d="M20 470L90 455L95 440L155 400L160 370L320 340L325 300L400 295L410 290L700 135L710 100L800 90L950 95L960 85L1020 55L1220 80L1225 110L1355 130L1355 300" fill="none" stroke="#3a78b0" stroke-width="8"/></g><defs><linearGradient id="org" x1="0" y1="0" x2="1" y2="0"><stop offset="0" stop-color="#e07a10"/><stop offset="0.45" stop-color="#ffc468"/><stop offset="1" stop-color="#e8861a"/></linearGradient></defs><path d="M45 505L150 600L150 660L45 570z" fill="#f29a2a"/><path d="M45 545L120 612L120 640L45 575z" fill="#f7c890"/><rect x="150" y="460" width="66" height="250" fill="url(#org)"/><rect x="120" y="460" width="125" height="22" rx="8" fill="#f0a040"/><path d="M70 650C70 630 140 630 140 650L140 700L70 700z" fill="#f29a2a"/><ellipse cx="105" cy="650" rx="40" ry="14" fill="#ffc060"/><path d="M45 700L110 700L110 760L170 760L170 690L225 690L225 800C225 830 200 835 170 835L110 835C80 835 80 790 45 790z" fill="#f08f20"/><path d="M95 800C120 820 190 840 230 815L240 838C200 860 110 850 85 820z" fill="#f7c890"/><ellipse cx="190" cy="712" rx="30" ry="16" fill="#c86a10" transform="rotate(35 190 712)"/><circle cx="245" cy="765" r="34" fill="#158a28"/><rect x="249" y="619" width="295" height="226" fill="#fff" stroke="#4a80c2" stroke-width="5"/><path d="M270 690L335 668L530 672L530 690L430 700L430 770L520 765L520 780L400 800L400 825L315 825L315 780L275 770L275 755L315 750L315 700L270 700z" fill="#4a92dc"/><path d="M315 640L345 630L345 825L315 825z" fill="#2f72c0"/><path d="M345 640L432 650L432 700L345 690z" fill="#6aa8e8"/><path d="M432 672L530 672L520 765L432 765z" fill="#3a7cc8"/><rect x="556" y="619" width="320" height="226" fill="#fff" stroke="#4a80c2" stroke-width="5"/><path d="M580 640L780 652L780 735L580 715z" fill="#c4f0f8"/><path d="M805 625L868 625L868 840L805 840z" fill="#bdeef8"/><path d="M575 630L800 645L800 657L575 642z" fill="#2b4a68"/><path d="M572 710L790 730L790 742L572 722z" fill="#2b4a68"/><rect x="778" y="622" width="26" height="222" fill="#243e5a"/><path d="M640 720L655 720L800 830L780 840z" fill="#2b4a68"/><path d="M645 642L655 642L655 722L645 722z" fill="#2b4a68"/><path d="M805 660L868 655M805 735L868 735M805 815L868 822" stroke="#2b4a68" stroke-width="7"/></g></g>
<g transform="translate(1040 200) scale(0.19627)"><clipPath id="phc"><rect x="105" y="40" width="865" height="447"/></clipPath><g clip-path="url(#phc)"><rect x="105" y="40" width="865" height="447" fill="#24241e"/><rect x="230" y="40" width="200" height="150" fill="#5f6642"/><rect x="300" y="40" width="130" height="60" fill="#70784e"/><defs><linearGradient id="scr" x1="0" y1="0" x2="1" y2="1"><stop offset="0" stop-color="#b5cfe2"/><stop offset="1" stop-color="#d4e4ee"/></linearGradient></defs><rect x="425" y="55" width="275" height="170" fill="url(#scr)"/><rect x="465" y="69" width="137" height="8" fill="#9fb8cc"/><rect x="735" y="48" width="240" height="178" fill="url(#scr)"/><rect x="775" y="62" width="120" height="8" fill="#9fb8cc"/><rect x="425" y="255" width="280" height="182" fill="url(#scr)"/><rect x="465" y="269" width="140" height="8" fill="#9fb8cc"/><rect x="735" y="260" width="240" height="186" fill="url(#scr)"/><rect x="775" y="274" width="120" height="8" fill="#9fb8cc"/><path d="M545 110V190M560 130V190M660 170L690 200M470 330V390M495 335V390M600 365V400M860 120V170M880 130V170M930 110V130" stroke="#6a7f92" stroke-width="6" opacity=".7"/><rect x="380" y="440" width="590" height="47" fill="#1a1a18"/><rect x="440" y="452" width="330" height="22" fill="#33332e"/><path d="M105 60L200 75L235 130L215 300L105 330z" fill="#f28e12"/><path d="M105 180L160 170L190 300L105 330z" fill="#c84a18"/><path d="M215 40L305 40L300 95L250 125L215 100z" fill="#e8a87c"/><path d="M105 40L260 40L240 70L150 80L105 75z" fill="#2a1c14"/><path d="M105 400C140 350 230 320 330 335L400 430L380 487L105 487z" fill="#e6e2c4"/><path d="M105 440C160 400 250 400 330 430L300 487L105 487z" fill="#f4f1dc"/><path d="M290 215C340 190 395 215 400 280C415 300 405 330 395 345C390 390 350 400 310 385C280 360 270 270 290 215z" fill="#efb08e"/><path d="M145 250C140 180 220 140 300 160C350 170 375 200 370 225C330 215 310 240 312 290C290 300 285 330 262 335C200 340 150 310 145 250z" fill="#17120f"/></g></g>
<g transform="translate(1040 200) scale(0.19627)"><path d="M135 846C70 846 30 800 30 748C30 690 80 648 140 652L178 652C185 575 265 518 355 518C440 518 505 560 535 622C570 603 610 596 650 598C730 604 770 670 768 735C810 735 836 762 836 795C836 825 812 846 778 846z" fill="#00a9e9"/><path d="M122 710L162 704L162 735L122 735zM168 703L218 696L218 735L168 735zM122 741L162 741L162 766L122 760zM168 741L218 741L218 772L168 767z" fill="#fff"/></g>
<g transform="translate(1000 160) scale(0.25780)"><rect x="762" y="284" width="551" height="354" fill="#000" opacity=".07"/><rect x="766" y="287" width="543" height="347" fill="#000" opacity=".07"/><rect x="769" y="289" width="538" height="342" fill="#fff"/><text x="787" y="323" font-family="Liberation Serif, serif" font-weight="bold" font-size="21" fill="#1f4e9c">Executive Summary</text><rect x="790" y="335" width="470" height="5" fill="#777" opacity=".75"/><rect x="790" y="346" width="505" height="5" fill="#777" opacity=".75"/><rect x="790" y="358" width="480" height="5" fill="#777" opacity=".75"/><rect x="790" y="369" width="265" height="5" fill="#777" opacity=".75"/><rect x="787" y="392" width="516" height="15" fill="#16489a"/><rect x="792" y="396" width="80" height="7" fill="#fff" opacity=".85"/><rect x="800" y="412" width="70" height="5" fill="#666" opacity=".7"/><rect x="935" y="412" width="80" height="5" fill="#555" opacity=".7"/><rect x="800" y="423" width="120" height="5" fill="#666" opacity=".7"/><rect x="935" y="423" width="30" height="5" fill="#555" opacity=".7"/><rect x="800" y="434" width="60" height="5" fill="#666" opacity=".7"/><rect x="935" y="434" width="100" height="5" fill="#555" opacity=".7"/><rect x="1050" y="412" width="100" height="5" fill="#666" opacity=".7"/><rect x="1195" y="412" width="30" height="5" fill="#555" opacity=".7"/><rect x="1050" y="423" width="130" height="5" fill="#666" opacity=".7"/><rect x="1195" y="423" width="108" height="5" fill="#555" opacity=".7"/><rect x="787" y="452" width="516" height="15" fill="#16489a"/><rect x="792" y="456" width="230" height="7" fill="#fff" opacity=".85"/><rect x="790" y="473" width="410" height="5" fill="#777" opacity=".75"/><ellipse cx="867" cy="554" rx="66" ry="50" fill="#d2d2d2"/><path d="M867 554L867 504A66 50 0 0 1 920 524z" fill="#5db12f"/><path d="M867 554L920 524A66 50 0 0 1 915 588z" fill="#bfe0a8"/><rect x="873" y="515" width="32" height="10" fill="#fff" opacity=".8"/><rect x="822" y="560" width="28" height="6" fill="#777"/><rect x="892" y="552" width="20" height="6" fill="#789060"/><rect x="958" y="497" width="345" height="25" fill="#585858"/><rect x="958" y="524" width="345" height="24" fill="#6bbb3b"/><rect x="958" y="550" width="345" height="20" fill="#cbe8bb"/><rect x="958" y="572" width="345" height="20" fill="#dcdcdc"/><rect x="1060" y="497" width="2" height="95" fill="#fff"/><rect x="1148" y="497" width="2" height="95" fill="#fff"/><rect x="1252" y="497" width="2" height="95" fill="#fff"/><rect x="985" y="507" width="50" height="6" fill="#eee" opacity=".9"/><rect x="985" y="533" width="50" height="7" fill="#fff" opacity=".9"/><rect x="985" y="558" width="45" height="5" fill="#555" opacity=".8"/><rect x="985" y="580" width="40" height="5" fill="#555" opacity=".8"/><rect x="1075" y="507" width="60" height="6" fill="#eee" opacity=".9"/><rect x="1075" y="533" width="60" height="7" fill="#fff" opacity=".9"/><rect x="1075" y="558" width="54" height="5" fill="#555" opacity=".8"/><rect x="1075" y="580" width="48" height="5" fill="#555" opacity=".8"/><rect x="1158" y="507" width="86" height="6" fill="#eee" opacity=".9"/><rect x="1158" y="533" width="86" height="7" fill="#fff" opacity=".9"/><rect x="1158" y="558" width="77" height="5" fill="#555" opacity=".8"/><rect x="1158" y="580" width="68" height="5" fill="#555" opacity=".8"/><rect x="1262" y="507" width="34" height="6" fill="#eee" opacity=".9"/><rect x="1262" y="533" width="34" height="7" fill="#fff" opacity=".9"/><rect x="1262" y="558" width="30" height="5" fill="#555" opacity=".8"/><rect x="1262" y="580" width="27" height="5" fill="#555" opacity=".8"/><rect x="962" y="600" width="340" height="4" fill="#777" opacity=".7"/><rect x="962" y="609" width="90" height="4" fill="#777" opacity=".7"/></g>
<rect x="201" y="511.2" width="1139" height="3.6" fill="#8a7ab0" opacity=".32" filter="url(#blur2)"/>
<rect x="195.70" y="406.80" width="243.10" height="102.80" fill="#fff" stroke="#629ddf" stroke-width="1.1" />
<rect x="451.20" y="406.80" width="124.20" height="102.80" fill="#fff" stroke="#629ddf" stroke-width="1.1" />
<rect x="590.20" y="406.80" width="132.70" height="102.80" fill="#fff" stroke="#629ddf" stroke-width="1.1" />
<rect x="737.20" y="406.80" width="248.80" height="102.80" fill="#fff" stroke="#629ddf" stroke-width="1.1" />
<rect x="995.40" y="406.80" width="154.40" height="102.80" fill="#fff" stroke="#629ddf" stroke-width="1.1" />
<rect x="1159.00" y="406.80" width="179.20" height="102.80" fill="#fff" stroke="#629ddf" stroke-width="1.1" />
<rect x="200.70" y="509.30" width="1137.80" height="1.60" fill="#7fd0b6" />
<rect x="200.70" y="510.80" width="1137.80" height="1.60" fill="#8fe68c" />
<rect x="439.60" y="508.90" width="10.80" height="1.80" fill="#d8f066" />
<rect x="576.20" y="508.90" width="13.20" height="1.80" fill="#d8f066" />
<rect x="723.70" y="508.90" width="12.70" height="1.80" fill="#d8f066" />
<rect x="986.80" y="508.90" width="7.80" height="1.80" fill="#d8f066" />
<rect x="1150.60" y="508.90" width="7.60" height="1.80" fill="#d8f066" />
<rect x="200.90" y="398.30" width="120.90" height="31.00" fill="#b5dea8" />
<text class="cb" x="213.95" y="420.09" font-size="15.8" fill="#2e2e2e">辅助决策支持</text>
<rect x="456.90" y="393.00" width="105.10" height="31.90" fill="#b5dea8" />
<text class="cb" x="469.95" y="415.24" font-size="15.8" fill="#2e2e2e">虚拟化电厂</text>
<rect x="611.00" y="396.60" width="88.90" height="31.80" fill="#b5dea8" />
<text class="cb" x="623.85" y="418.79" font-size="15.8" fill="#2e2e2e">信息安全</text>
<rect x="761.30" y="396.60" width="152.20" height="31.80" fill="#b5dea8" />
<text class="cb" x="774.2" y="418.79" font-size="15.8" fill="#2e2e2e">电厂实时数据平台</text>
<rect x="1030.90" y="395.70" width="89.10" height="32.00" fill="#b5dea8" />
<text class="cb" x="1043.85" y="417.99" font-size="15.8" fill="#2e2e2e">移动应用</text>
<rect x="1173.30" y="393.90" width="121.10" height="31.80" fill="#b5dea8" />
<text class="cb" x="1186.45" y="416.09" font-size="15.8" fill="#2e2e2e">设备管理优化</text>
<rect x="253.2" y="493.9" width="3.4" height="16.1" fill="#e4f0a4" opacity=".9" filter="url(#blur1)"/><path d="M249.3 483.6L260.5 483.6Q257.5 486.6 257.3 492.9L252.5 492.9Q252.3 486.6 249.3 483.6z" fill="#1c1c1c"/><ellipse cx="254.9" cy="493.3" rx="22.5" ry="2.6" fill="#1a1a1a"/><ellipse cx="254.9" cy="492.5" rx="18.0" ry="1.2" fill="#555" opacity=".6"/><rect x="208.9" y="443.1" width="92.0" height="41.0" rx="1" fill="#161616"/><g transform="translate(211.50 444.90) scale(0.8680 0.8750)"><rect x="0.0" y="0.0" width="100.0" height="40.0" fill="#8ef0b0"/><rect x="0.0" y="0.0" width="100.0" height="1.6" fill="#3434a8"/><rect x="0.0" y="1.6" width="100.0" height="1.4" fill="#d8d8e8"/><rect x="0.0" y="3.0" width="19.0" height="37.0" fill="#e4e6ea"/><rect x="1.5" y="4.5" width="16.0" height="16.0" fill="#fafafa"/><rect x="1.5" y="22.0" width="16.0" height="16.0" fill="#f0f0f4"/><path d="M3 9l6-3 4 4 3-2M4 14l8 1 3 4M3 26h12M3 29h10M3 32h12M3 35h9" stroke="#8a8a94" stroke-width=".8" fill="none"/><rect x="37.0" y="5.0" width="40.0" height="7.0" fill="#f2ea50"/><rect x="32.0" y="13.0" width="51.0" height="3.0" fill="#2fd42f"/><rect x="25.0" y="20.0" width="9.0" height="6.0" fill="#e8d8ee"/><rect x="38.5" y="20.0" width="9.0" height="6.0" fill="#e2dcf0"/><rect x="25.0" y="30.5" width="9.0" height="5.5" fill="#dcd0f4"/><rect x="50.5" y="20.5" width="42.5" height="13.5" fill="#fefefe"/><rect x="50.5" y="32.6" width="42.5" height="1.4" fill="#e8a020"/><rect x="59.5" y="20.5" width="0.6" height="12.0" fill="#bbb"/><rect x="97.0" y="3.0" width="3.0" height="37.0" fill="#9ab4e8"/><rect x="20.0" y="37.5" width="77.0" height="2.5" fill="#b8c4cc"/></g>
<rect x="378.2" y="493.1" width="3.4" height="16.9" fill="#e4f0a4" opacity=".9" filter="url(#blur1)"/><path d="M374.2 483.1L385.5 483.1Q382.5 486.1 382.2 492.1L377.5 492.1Q377.2 486.1 374.2 483.1z" fill="#1c1c1c"/><ellipse cx="379.9" cy="492.5" rx="22.7" ry="2.6" fill="#1a1a1a"/><ellipse cx="379.9" cy="491.7" rx="18.1" ry="1.2" fill="#555" opacity=".6"/><rect x="333.6" y="444.7" width="92.5" height="38.9" rx="1" fill="#161616"/><g transform="translate(336.20 446.50) scale(0.8730 0.8225)"><rect x="0.0" y="0.0" width="100.0" height="40.0" fill="#e6eef0"/><rect x="2.0" y="1.5" width="6.0" height="3.0" fill="#e03030"/><rect x="8.5" y="3.5" width="5.5" height="3.0" fill="#e03030"/><rect x="14.0" y="1.2" width="86.0" height="7.0" fill="#22a6a6"/><rect x="15.5" y="2.0" width="5.0" height="2.2" fill="#f0e8a0" opacity="0.9"/><rect x="15.5" y="5.0" width="5.0" height="2.2" fill="#60c8e0" opacity="0.9"/><rect x="22.0" y="2.0" width="5.0" height="2.2" fill="#c8f0e8" opacity="0.9"/><rect x="22.0" y="5.0" width="5.0" height="2.2" fill="#60c8e0" opacity="0.9"/><rect x="28.5" y="2.0" width="5.0" height="2.2" fill="#f0e8a0" opacity="0.9"/><rect x="28.5" y="5.0" width="5.0" height="2.2" fill="#60c8e0" opacity="0.9"/><rect x="35.0" y="2.0" width="5.0" height="2.2" fill="#c8f0e8" opacity="0.9"/><rect x="35.0" y="5.0" width="5.0" height="2.2" fill="#60c8e0" opacity="0.9"/><rect x="41.5" y="2.0" width="5.0" height="2.2" fill="#f0e8a0" opacity="0.9"/><rect x="41.5" y="5.0" width="5.0" height="2.2" fill="#60c8e0" opacity="0.9"/><rect x="48.0" y="2.0" width="5.0" height="2.2" fill="#c8f0e8" opacity="0.9"/><rect x="48.0" y="5.0" width="5.0" height="2.2" fill="#60c8e0" opacity="0.9"/><rect x="54.5" y="2.0" width="5.0" height="2.2" fill="#f0e8a0" opacity="0.9"/><rect x="54.5" y="5.0" width="5.0" height="2.2" fill="#60c8e0" opacity="0.9"/><rect x="61.0" y="2.0" width="5.0" height="2.2" fill="#c8f0e8" opacity="0.9"/><rect x="61.0" y="5.0" width="5.0" height="2.2" fill="#60c8e0" opacity="0.9"/><rect x="67.5" y="2.0" width="5.0" height="2.2" fill="#f0e8a0" opacity="0.9"/><rect x="67.5" y="5.0" width="5.0" height="2.2" fill="#60c8e0" opacity="0.9"/><rect x="74.0" y="2.0" width="5.0" height="2.2" fill="#c8f0e8" opacity="0.9"/><rect x="74.0" y="5.0" width="5.0" height="2.2" fill="#60c8e0" opacity="0.9"/><rect x="80.5" y="2.0" width="5.0" height="2.2" fill="#f0e8a0" opacity="0.9"/><rect x="80.5" y="5.0" width="5.0" height="2.2" fill="#60c8e0" opacity="0.9"/><rect x="87.0" y="2.0" width="5.0" height="2.2" fill="#c8f0e8" opacity="0.9"/><rect x="87.0" y="5.0" width="5.0" height="2.2" fill="#60c8e0" opacity="0.9"/><rect x="93.5" y="2.0" width="5.0" height="2.2" fill="#f0e8a0" opacity="0.9"/><rect x="93.5" y="5.0" width="5.0" height="2.2" fill="#60c8e0" opacity="0.9"/><rect x="0.0" y="8.5" width="100.0" height="2.0" fill="#f4f8f4"/><rect x="11.0" y="10.5" width="32.0" height="2.2" fill="#169a9a"/><rect x="51.0" y="10.5" width="36.0" height="2.2" fill="#169a9a"/><rect x="15.0" y="13.0" width="26.0" height="7.0" fill="#eef2c0"/><rect x="36.0" y="13.0" width="6.0" height="6.5" fill="#7a8a80"/><rect x="53.0" y="13.0" width="34.0" height="7.0" fill="#eef2c0"/><rect x="79.0" y="13.0" width="7.0" height="6.5" fill="#7a8a80"/><rect x="15.0" y="14.5" width="8.0" height="1.0" fill="#9aa070"/><rect x="15.0" y="16.5" width="7.0" height="1.0" fill="#9aa070"/><rect x="55.0" y="14.5" width="10.0" height="1.0" fill="#9aa070"/><rect x="55.0" y="16.5" width="8.0" height="1.0" fill="#9aa070"/><rect x="26.0" y="14.5" width="5.0" height="1.0" fill="#b0b060"/><rect x="67.0" y="14.5" width="5.0" height="1.0" fill="#b0b060"/><rect x="2.0" y="22.0" width="98.0" height="2.6" fill="#149898"/><rect x="2.0" y="25.0" width="25.0" height="15.0" fill="#fafafa"/><rect x="3.0" y="26.0" width="16.0" height="0.9" fill="#888"/><rect x="3.0" y="28.3" width="20.0" height="0.9" fill="#888"/><rect x="3.0" y="30.6" width="14.0" height="0.9" fill="#888"/><rect x="3.0" y="32.9" width="18.0" height="0.9" fill="#888"/><rect x="3.0" y="35.2" width="15.0" height="0.9" fill="#888"/><rect x="3.0" y="37.5" width="19.0" height="0.9" fill="#888"/><rect x="29.0" y="25.0" width="7.0" height="15.0" fill="#686868"/><rect x="37.0" y="25.0" width="7.5" height="15.0" fill="#6c6c6c"/><rect x="45.5" y="25.0" width="7.5" height="15.0" fill="#707070"/><rect x="54.0" y="25.0" width="8.0" height="15.0" fill="#d84a44"/><rect x="62.5" y="25.0" width="8.0" height="15.0" fill="#1f8a68"/><rect x="71.0" y="25.0" width="8.0" height="15.0" fill="#707070"/><rect x="80.0" y="25.0" width="8.5" height="15.0" fill="#d84a44"/><rect x="89.0" y="25.0" width="9.0" height="15.0" fill="#1f8a68"/><rect x="28.0" y="26.8" width="72.0" height="0.5" fill="#e8eef0" opacity="0.7"/><rect x="28.0" y="28.8" width="72.0" height="0.5" fill="#e8eef0" opacity="0.7"/><rect x="28.0" y="30.8" width="72.0" height="0.5" fill="#e8eef0" opacity="0.7"/><rect x="28.0" y="32.8" width="72.0" height="0.5" fill="#e8eef0" opacity="0.7"/><rect x="28.0" y="34.8" width="72.0" height="0.5" fill="#e8eef0" opacity="0.7"/><rect x="28.0" y="36.8" width="72.0" height="0.5" fill="#e8eef0" opacity="0.7"/><rect x="28.0" y="38.8" width="72.0" height="0.5" fill="#e8eef0" opacity="0.7"/></g>
<rect x="809.9" y="493.1" width="3.4" height="16.9" fill="#e4f0a4" opacity=".9" filter="url(#blur1)"/><path d="M806.0 483.1L817.2 483.1Q814.2 486.1 814.0 492.1L809.2 492.1Q809.0 486.1 806.0 483.1z" fill="#1c1c1c"/><ellipse cx="811.6" cy="492.5" rx="22.7" ry="2.6" fill="#1a1a1a"/><ellipse cx="811.6" cy="491.7" rx="18.1" ry="1.2" fill="#555" opacity=".6"/><rect x="765.3" y="444.7" width="92.6" height="38.9" rx="1" fill="#161616"/><g transform="translate(767.90 446.50) scale(0.8740 0.8225)"><rect x="0.0" y="0.0" width="100.0" height="40.0" fill="#e6eef0"/><rect x="2.0" y="1.5" width="6.0" height="3.0" fill="#e03030"/><rect x="8.5" y="3.5" width="5.5" height="3.0" fill="#e03030"/><rect x="14.0" y="1.2" width="86.0" height="7.0" fill="#22a6a6"/><rect x="15.5" y="2.0" width="5.0" height="2.2" fill="#f0e8a0" opacity="0.9"/><rect x="15.5" y="5.0" width="5.0" height="2.2" fill="#60c8e0" opacity="0.9"/><rect x="22.0" y="2.0" width="5.0" height="2.2" fill="#c8f0e8" opacity="0.9"/><rect x="22.0" y="5.0" width="5.0" height="2.2" fill="#60c8e0" opacity="0.9"/><rect x="28.5" y="2.0" width="5.0" height="2.2" fill="#f0e8a0" opacity="0.9"/><rect x="28.5" y="5.0" width="5.0" height="2.2" fill="#60c8e0" opacity="0.9"/><rect x="35.0" y="2.0" width="5.0" height="2.2" fill="#c8f0e8" opacity="0.9"/><rect x="35.0" y="5.0" width="5.0" height="2.2" fill="#60c8e0" opacity="0.9"/><rect x="41.5" y="2.0" width="5.0" height="2.2" fill="#f0e8a0" opacity="0.9"/><rect x="41.5" y="5.0" width="5.0" height="2.2" fill="#60c8e0" opacity="0.9"/><rect x="48.0" y="2.0" width="5.0" height="2.2" fill="#c8f0e8" opacity="0.9"/><rect x="48.0" y="5.0" width="5.0" height="2.2" fill="#60c8e0" opacity="0.9"/><rect x="54.5" y="2.0" width="5.0" height="2.2" fill="#f0e8a0" opacity="0.9"/><rect x="54.5" y="5.0" width="5.0" height="2.2" fill="#60c8e0" opacity="0.9"/><rect x="61.0" y="2.0" width="5.0" height="2.2" fill="#c8f0e8" opacity="0.9"/><rect x="61.0" y="5.0" width="5.0" height="2.2" fill="#60c8e0" opacity="0.9"/><rect x="67.5" y="2.0" width="5.0" height="2.2" fill="#f0e8a0" opacity="0.9"/><rect x="67.5" y="5.0" width="5.0" height="2.2" fill="#60c8e0" opacity="0.9"/><rect x="74.0" y="2.0" width="5.0" height="2.2" fill="#c8f0e8" opacity="0.9"/><rect x="74.0" y="5.0" width="5.0" height="2.2" fill="#60c8e0" opacity="0.9"/><rect x="80.5" y="2.0" width="5.0" height="2.2" fill="#f0e8a0" opacity="0.9"/><rect x="80.5" y="5.0" width="5.0" height="2.2" fill="#60c8e0" opacity="0.9"/><rect x="87.0" y="2.0" width="5.0" height="2.2" fill="#c8f0e8" opacity="0.9"/><rect x="87.0" y="5.0" width="5.0" height="2.2" fill="#60c8e0" opacity="0.9"/><rect x="93.5" y="2.0" width="5.0" height="2.2" fill="#f0e8a0" opacity="0.9"/><rect x="93.5" y="5.0" width="5.0" height="2.2" fill="#60c8e0" opacity="0.9"/><rect x="0.0" y="8.5" width="100.0" height="2.0" fill="#f4f8f4"/><rect x="11.0" y="10.5" width="32.0" height="2.2" fill="#169a9a"/><rect x="51.0" y="10.5" width="36.0" height="2.2" fill="#169a9a"/><rect x="15.0" y="13.0" width="26.0" height="7.0" fill="#eef2c0"/><rect x="36.0" y="13.0" width="6.0" height="6.5" fill="#7a8a80"/><rect x="53.0" y="13.0" width="34.0" height="7.0" fill="#eef2c0"/><rect x="79.0" y="13.0" width="7.0" height="6.5" fill="#7a8a80"/><rect x="15.0" y="14.5" width="8.0" height="1.0" fill="#9aa070"/><rect x="15.0" y="16.5" width="7.0" height="1.0" fill="#9aa070"/><rect x="55.0" y="14.5" width="10.0" height="1.0" fill="#9aa070"/><rect x="55.0" y="16.5" width="8.0" height="1.0" fill="#9aa070"/><rect x="26.0" y="14.5" width="5.0" height="1.0" fill="#b0b060"/><rect x="67.0" y="14.5" width="5.0" height="1.0" fill="#b0b060"/><rect x="2.0" y="22.0" width="98.0" height="2.6" fill="#149898"/><rect x="2.0" y="25.0" width="25.0" height="15.0" fill="#fafafa"/><rect x="3.0" y="26.0" width="16.0" height="0.9" fill="#888"/><rect x="3.0" y="28.3" width="20.0" height="0.9" fill="#888"/><rect x="3.0" y="30.6" width="14.0" height="0.9" fill="#888"/><rect x="3.0" y="32.9" width="18.0" height="0.9" fill="#888"/><rect x="3.0" y="35.2" width="15.0" height="0.9" fill="#888"/><rect x="3.0" y="37.5" width="19.0" height="0.9" fill="#888"/><rect x="29.0" y="25.0" width="7.0" height="15.0" fill="#686868"/><rect x="37.0" y="25.0" width="7.5" height="15.0" fill="#6c6c6c"/><rect x="45.5" y="25.0" width="7.5" height="15.0" fill="#707070"/><rect x="54.0" y="25.0" width="8.0" height="15.0" fill="#d84a44"/><rect x="62.5" y="25.0" width="8.0" height="15.0" fill="#1f8a68"/><rect x="71.0" y="25.0" width="8.0" height="15.0" fill="#707070"/><rect x="80.0" y="25.0" width="8.5" height="15.0" fill="#d84a44"/><rect x="89.0" y="25.0" width="9.0" height="15.0" fill="#1f8a68"/><rect x="28.0" y="26.8" width="72.0" height="0.5" fill="#e8eef0" opacity="0.7"/><rect x="28.0" y="28.8" width="72.0" height="0.5" fill="#e8eef0" opacity="0.7"/><rect x="28.0" y="30.8" width="72.0" height="0.5" fill="#e8eef0" opacity="0.7"/><rect x="28.0" y="32.8" width="72.0" height="0.5" fill="#e8eef0" opacity="0.7"/><rect x="28.0" y="34.8" width="72.0" height="0.5" fill="#e8eef0" opacity="0.7"/><rect x="28.0" y="36.8" width="72.0" height="0.5" fill="#e8eef0" opacity="0.7"/><rect x="28.0" y="38.8" width="72.0" height="0.5" fill="#e8eef0" opacity="0.7"/></g>
<rect x="923.5" y="493.1" width="3.4" height="16.9" fill="#e4f0a4" opacity=".9" filter="url(#blur1)"/><path d="M919.6 483.1L930.9 483.1Q927.9 486.1 927.6 492.1L922.9 492.1Q922.6 486.1 919.6 483.1z" fill="#1c1c1c"/><ellipse cx="925.2" cy="492.5" rx="22.6" ry="2.6" fill="#1a1a1a"/><ellipse cx="925.2" cy="491.7" rx="18.1" ry="1.2" fill="#555" opacity=".6"/><rect x="879.2" y="444.7" width="92.1" height="38.9" rx="1" fill="#161616"/><g transform="translate(881.80 446.50) scale(0.8690 0.8225)"><rect x="0.0" y="0.0" width="100.0" height="40.0" fill="#fbfcfd"/><rect x="0.0" y="0.0" width="100.0" height="1.5" fill="#9ab0c8"/><ellipse cx="17" cy="7" rx="5" ry="2.3" fill="#e8b030"/><ellipse cx="14.5" cy="7.5" rx="3.5" ry="1.8" fill="#58a8c8"/><ellipse cx="19" cy="6.5" rx="2.8" ry="1.6" fill="#e05828"/><ellipse cx="49" cy="7" rx="5.5" ry="2.5" fill="#e8a020"/><ellipse cx="51" cy="7.4" rx="3.6" ry="1.8" fill="#d03a20"/><ellipse cx="83" cy="7.5" rx="9.5" ry="3" fill="#c83828"/><ellipse cx="80" cy="6.5" rx="4" ry="2" fill="#e07a40"/><rect x="2.0" y="11.5" width="96.0" height="1.0" fill="#b8c4cc"/><rect x="66.0" y="11.3" width="32.0" height="1.6" fill="#8ac0b8"/><rect x="4.0" y="13.5" width="24.0" height="0.8" fill="#9aa4ac" opacity="0.8"/><rect x="4.0" y="15.7" width="21.0" height="0.8" fill="#9aa4ac" opacity="0.8"/><rect x="4.0" y="17.9" width="18.0" height="0.8" fill="#9aa4ac" opacity="0.8"/><rect x="36.5" y="13.5" width="24.0" height="0.8" fill="#9aa4ac" opacity="0.8"/><rect x="36.5" y="15.7" width="21.0" height="0.8" fill="#9aa4ac" opacity="0.8"/><rect x="36.5" y="17.9" width="18.0" height="0.8" fill="#9aa4ac" opacity="0.8"/><rect x="69.0" y="13.5" width="24.0" height="0.8" fill="#9aa4ac" opacity="0.8"/><rect x="69.0" y="15.7" width="21.0" height="0.8" fill="#9aa4ac" opacity="0.8"/><rect x="69.0" y="17.9" width="18.0" height="0.8" fill="#9aa4ac" opacity="0.8"/><rect x="2.0" y="20.5" width="96.0" height="0.7" fill="#c8d0d8"/><rect x="5.0" y="22.0" width="22.0" height="8.0" fill="#f6f2dc"/><rect x="38.0" y="22.5" width="22.0" height="7.0" fill="#dfe8f4"/><rect x="40.0" y="24.0" width="14.0" height="4.0" fill="#6a94d0" opacity="0.85"/><rect x="71.0" y="22.0" width="24.0" height="16.0" fill="#faf4d8"/><path d="M6 28l4-3 4 2 4-4 4 3 4-2M72 30l4-4 4 3 4-5 4 4 5-3M72 35l5-2 5 2 5-3 6 2" stroke="#c8b868" stroke-width=".7" fill="none"/><rect x="2.0" y="30.8" width="60.0" height="0.7" fill="#8a98a8"/><rect x="4.0" y="32.5" width="22.0" height="0.8" fill="#9aa4ac" opacity="0.8"/><rect x="36.5" y="32.5" width="22.0" height="0.8" fill="#9aa4ac" opacity="0.8"/><rect x="4.0" y="34.7" width="18.0" height="0.8" fill="#9aa4ac" opacity="0.8"/><rect x="36.5" y="34.7" width="18.0" height="0.8" fill="#9aa4ac" opacity="0.8"/><rect x="4.0" y="36.9" width="14.0" height="0.8" fill="#9aa4ac" opacity="0.8"/><rect x="36.5" y="36.9" width="14.0" height="0.8" fill="#9aa4ac" opacity="0.8"/></g>
<rect x="1252.4" y="494.5" width="3.4" height="15.5" fill="#e4f0a4" opacity=".9" filter="url(#blur1)"/><path d="M1248.5 485.3L1259.7 485.3Q1256.7 488.3 1256.5 493.5L1251.7 493.5Q1251.5 488.3 1248.5 485.3z" fill="#1c1c1c"/><ellipse cx="1254.1" cy="493.9" rx="19.9" ry="2.6" fill="#1a1a1a"/><ellipse cx="1254.1" cy="493.1" rx="15.9" ry="1.2" fill="#555" opacity=".6"/><rect x="1213.5" y="445.9" width="81.2" height="39.9" rx="1" fill="#161616"/><g transform="translate(1216.10 447.70) scale(0.7600 0.8475)"><defs><linearGradient id="dmog" x1="0" y1="0" x2="1" y2="1"><stop offset="0" stop-color="#b8c4cc"/><stop offset=".5" stop-color="#e8ecee"/><stop offset="1" stop-color="#a8b4bc"/></linearGradient></defs><rect x="0.0" y="0.0" width="100.0" height="40.0" fill="url(#dmog)"/><rect x="0.0" y="0.0" width="100.0" height="1.5" fill="#e4e8ec"/><path d="M0 30Q30 15 50 22T100 8V40H0z" fill="#fff" opacity=".35"/><ellipse cx="22" cy="9" rx="9" ry="2.6" fill="#b8cc48"/><ellipse cx="48" cy="8" rx="8" ry="2.4" fill="#a8c050"/><rect x="14.0" y="15.0" width="9.0" height="7.0" fill="#f8f8f8" opacity="0.9"/><rect x="15.0" y="16.0" width="7.0" height="4.4" fill="#e8dca0"/><rect x="26.0" y="15.0" width="9.0" height="7.0" fill="#f8f8f8" opacity="0.9"/><rect x="27.0" y="16.0" width="7.0" height="4.4" fill="#7ac8b0"/><rect x="40.0" y="14.0" width="9.0" height="7.0" fill="#f8f8f8" opacity="0.9"/><rect x="41.0" y="15.0" width="7.0" height="4.4" fill="#e8e4d0"/><rect x="52.0" y="15.0" width="9.0" height="7.0" fill="#f8f8f8" opacity="0.9"/><rect x="53.0" y="16.0" width="7.0" height="4.4" fill="#c8d8a0"/><rect x="66.0" y="14.0" width="9.0" height="7.0" fill="#f8f8f8" opacity="0.9"/><rect x="67.0" y="15.0" width="7.0" height="4.4" fill="#d8dce0"/><rect x="80.0" y="14.0" width="9.0" height="7.0" fill="#f8f8f8" opacity="0.9"/><rect x="81.0" y="15.0" width="7.0" height="4.4" fill="#e8d8b0"/><rect x="14.0" y="27.0" width="9.0" height="7.0" fill="#f8f8f8" opacity="0.9"/><rect x="15.0" y="28.0" width="7.0" height="4.4" fill="#e8c890"/><rect x="27.0" y="27.0" width="9.0" height="7.0" fill="#f8f8f8" opacity="0.9"/><rect x="28.0" y="28.0" width="7.0" height="4.4" fill="#b0d4e0"/><rect x="40.0" y="27.0" width="9.0" height="7.0" fill="#f8f8f8" opacity="0.9"/><rect x="41.0" y="28.0" width="7.0" height="4.4" fill="#a8c880"/><rect x="53.0" y="26.0" width="9.0" height="7.0" fill="#f8f8f8" opacity="0.9"/><rect x="54.0" y="27.0" width="7.0" height="4.4" fill="#e0e4e8"/><rect x="72.0" y="26.0" width="9.0" height="7.0" fill="#f8f8f8" opacity="0.9"/><rect x="73.0" y="27.0" width="7.0" height="4.4" fill="#e8dc98"/><rect x="85.0" y="27.0" width="9.0" height="7.0" fill="#f8f8f8" opacity="0.9"/><rect x="86.0" y="28.0" width="7.0" height="4.4" fill="#d0d8dc"/><rect x="0.0" y="36.4" width="100.0" height="3.6" fill="#2a4a8a"/><rect x="1.0" y="37.2" width="16.0" height="2.0" fill="#9ab4e0" opacity="0.8"/></g>
<g transform="translate(445 425) scale(0.18275)"><rect x="318" y="250" width="9" height="222" fill="#d8ea8a" opacity=".9"/><rect x="83" y="241" width="506" height="146" fill="#fff" stroke="#151515" stroke-width="4"/><text x="158" y="336" font-family="Liberation Sans, sans-serif" font-size="36" font-weight="bold" fill="#8c8c8c">PID</text><path d="M190 285H300M190 365H300M190 285V300M190 345V365" stroke="#e05050" stroke-width="4" fill="none"/><circle cx="255" cy="322" r="10" fill="none" stroke="#8a9a8a" stroke-width="3"/><path d="M232 322H245M265 322H285" stroke="#888" stroke-width="3"/><path d="M360 355H560M520 290V355M490 300H520" stroke="#e07070" stroke-width="4" fill="none"/><rect x="505" y="330" width="18" height="24" fill="#5a9a40"/><rect x="160" y="255" width="80" height="6" fill="#999"/><rect x="178" y="270" width="30" height="5" fill="#999"/><rect x="175" y="368" width="36" height="5" fill="#999"/><rect x="355" y="394" width="105" height="6" fill="#aaa"/><defs><linearGradient id="slb" x1="0" y1="0" x2="1" y2="1"><stop offset="0" stop-color="#e2e4ea"/><stop offset="1" stop-color="#9ea2ac"/></linearGradient></defs><path d="M210 222L400 128L602 186L440 345L405 352L245 262z" fill="url(#slb)"/><path d="M210 222L400 128L602 186L410 268z" fill="#d4d7de"/><path d="M282 226L420 165L522 198L402 258z" fill="#27366a"/><path d="M295 240L405 262L520 205L522 198L402 258L282 226z" fill="#556"/><path d="M318 160L395 135L440 150L350 185z" fill="#7cc4f0" opacity=".9"/><path d="M330 190L400 165L440 180L365 215z" fill="#4a9ad8" opacity=".85"/><ellipse cx="432" cy="160" rx="22" ry="11" fill="#e8b060"/><ellipse cx="470" cy="186" rx="24" ry="11" fill="#d88a50"/><ellipse cx="420" cy="205" rx="26" ry="12" fill="#70b060"/><rect x="225" y="120" width="96" height="47" fill="#101014"/><rect x="262" y="167" width="18" height="10" fill="#222"/><rect x="212" y="178" width="120" height="9" fill="#1a1a1e"/><rect x="222" y="187" width="18" height="24" fill="#1a1a1e"/><rect x="330" y="128" width="40" height="24" fill="#181820"/><rect x="322" y="76" width="92" height="5" fill="#8a8a8a" opacity=".8"/><rect x="338" y="86" width="60" height="5" fill="#8a8a8a" opacity=".8"/><rect x="240" y="101" width="110" height="5" fill="#8a8a8a" opacity=".8"/><rect x="250" y="111" width="80" height="5" fill="#8a8a8a" opacity=".8"/><rect x="472" y="70" width="130" height="5" fill="#8a8a8a" opacity=".8"/><rect x="472" y="81" width="132" height="5" fill="#8a8a8a" opacity=".8"/><rect x="486" y="124" width="118" height="5" fill="#8a8a8a" opacity=".8"/><rect x="486" y="135" width="80" height="5" fill="#8a8a8a" opacity=".8"/><path d="M425 92V150M480 140V175" stroke="#c8c8a0" stroke-width="2"/><path d="M322 250V395M348 262V360" stroke="#5a6a9a" stroke-width="3"/><rect x="252" y="345" width="14" height="50" fill="#3a7a4a"/><circle cx="259" cy="340" r="6" fill="#c89a7a"/><rect x="330" y="335" width="16" height="60" fill="#3a4a8a"/><circle cx="338" cy="328" r="7" fill="#d8a070"/><rect x="270" y="355" width="55" height="30" fill="#6a8a9a" opacity=".8"/><rect x="355" y="300" width="38" height="36" fill="#4a6ab0" opacity=".7"/><rect x="395" y="325" width="40" height="28" fill="#55607a" opacity=".8"/></g>
<g transform="translate(445 425) scale(0.18275)"><defs><linearGradient id="rkf" x1="0" y1="0" x2="1" y2="0"><stop offset="0" stop-color="#2a2a2a"/><stop offset=".06" stop-color="#8a8a8a"/><stop offset=".12" stop-color="#303030"/><stop offset=".2" stop-color="#5a5a5a"/><stop offset=".8" stop-color="#5a5a5a"/><stop offset=".88" stop-color="#303030"/><stop offset=".94" stop-color="#8a8a8a"/><stop offset="1" stop-color="#2a2a2a"/></linearGradient><linearGradient id="rki" x1="0" y1="0" x2="0" y2="1"><stop offset="0" stop-color="#d0d0d0"/><stop offset=".3" stop-color="#8a8a8a"/><stop offset=".45" stop-color="#2a2a2a"/><stop offset=".7" stop-color="#c0c0c0"/><stop offset=".85" stop-color="#3a3a3a"/><stop offset="1" stop-color="#1a1a1a"/></linearGradient></defs><rect x="968" y="92" width="367" height="336" fill="url(#rkf)"/><rect x="968" y="92" width="367" height="10" fill="#222"/><path d="M1010 105H1300L1275 420H1035z" fill="url(#rki)"/><rect x="1046" y="118" width="226" height="64" fill="#c4c4c4"/><rect x="1050" y="121" width="68" height="27" fill="#d8d8d8" stroke="#888" stroke-width="2"/><rect x="1066" y="130" width="34" height="8" fill="#555"/><rect x="1050" y="152" width="68" height="27" fill="#d8d8d8" stroke="#888" stroke-width="2"/><rect x="1066" y="161" width="34" height="8" fill="#555"/><rect x="1125" y="121" width="68" height="27" fill="#d8d8d8" stroke="#888" stroke-width="2"/><rect x="1141" y="130" width="34" height="8" fill="#555"/><rect x="1125" y="152" width="68" height="27" fill="#d8d8d8" stroke="#888" stroke-width="2"/><rect x="1141" y="161" width="34" height="8" fill="#555"/><rect x="1200" y="121" width="68" height="27" fill="#d8d8d8" stroke="#888" stroke-width="2"/><rect x="1216" y="130" width="34" height="8" fill="#555"/><rect x="1200" y="152" width="68" height="27" fill="#d8d8d8" stroke="#888" stroke-width="2"/><rect x="1216" y="161" width="34" height="8" fill="#555"/><rect x="1046" y="183" width="230" height="21" rx="4" fill="#e25454"/><rect x="1100" y="188" width="170" height="9" fill="#f8d0d0"/><rect x="1075" y="206" width="175" height="50" fill="#2e2e2e"/><rect x="1044" y="258" width="232" height="26" fill="#3434c4"/><rect x="1044" y="284" width="232" height="20" fill="#5a5ad8"/><rect x="1044" y="304" width="232" height="20" fill="#9a9aec"/><rect x="1180" y="264" width="85" height="11" fill="#e8e8ff" opacity=".9"/><rect x="1180" y="286" width="85" height="11" fill="#e8e8ff" opacity=".9"/><rect x="1180" y="308" width="85" height="11" fill="#e8e8ff" opacity=".9"/><rect x="1044" y="283" width="232" height="3" fill="#dde"/><rect x="1044" y="303" width="232" height="3" fill="#dde"/><path d="M1060 372H1262L1282 420H1040z" fill="#141414"/><rect x="1130" y="386" width="140" height="6" fill="#bbb"/><rect x="1130" y="404" width="145" height="6" fill="#aaa"/></g>
<g transform="translate(990 425) scale(0.22686)"><rect x="246" y="128" width="14" height="30" rx="5" fill="#b8b8b8" stroke="#666" stroke-width="2"/><rect x="248" y="170" width="8" height="40" rx="4" fill="#999"/><rect x="50" y="70" width="200" height="235" rx="34" fill="#d8d8d8" stroke="#6a6a6a" stroke-width="4"/><rect x="62" y="82" width="176" height="211" rx="24" fill="#0c0c0c"/><rect x="75" y="100" width="95" height="9" fill="#ddd"/><rect x="75" y="122" width="80" height="9" fill="#e03a30"/><rect x="74" y="146" width="152" height="36" rx="4" fill="#333"/><rect x="80" y="152" width="18" height="7" fill="#aaa"/><rect x="80" y="166" width="26" height="10" fill="#eee"/><rect x="200" y="168" width="20" height="8" fill="#aaa"/><rect x="74" y="190" width="152" height="36" rx="4" fill="#333"/><rect x="80" y="195" width="18" height="7" fill="#aaa"/><rect x="80" y="209" width="70" height="10" fill="#eee"/><rect x="185" y="211" width="36" height="8" fill="#aaa"/><rect x="72" y="232" width="158" height="38" rx="5" fill="#ff5a48"/><rect x="80" y="240" width="20" height="7" fill="#ffd0c8"/><rect x="80" y="254" width="26" height="9" fill="#fff"/><rect x="204" y="256" width="18" height="7" fill="#ffd0c8"/><circle cx="118" cy="283" r="3" fill="#fff"/><circle cx="136" cy="283" r="2.4" fill="#666"/><circle cx="152" cy="283" r="2.4" fill="#666"/><circle cx="168" cy="283" r="2.4" fill="#666"/><circle cx="184" cy="283" r="2.4" fill="#666"/><defs><linearGradient id="phs" x1="0" y1="0" x2="1" y2="1"><stop offset="0" stop-color="#7ab8e8"/><stop offset=".35" stop-color="#3a78c0"/><stop offset="1" stop-color="#24488a"/></linearGradient></defs><path d="M486 52C520 46 590 50 612 58C622 64 618 78 612 90L455 318C445 332 430 334 410 330L300 312C284 308 280 296 290 282L455 70C465 58 472 54 486 52z" fill="#3c3c3e"/><path d="M300 312L410 330C430 334 445 332 455 318L462 308L452 320C442 326 428 326 412 322L296 300z" fill="#222"/><path d="M478 84L596 92L452 292L318 268z" fill="url(#phs)"/><path d="M500 98C540 92 575 100 590 110L560 150C540 125 505 120 480 128z" fill="#d8f0ff" opacity=".8"/><rect x="372" y="200" width="20" height="16" rx="3" fill="#e84848" transform="skewX(-30) translate(118 0)"/><rect x="402" y="204" width="20" height="16" rx="3" fill="#444" transform="skewX(-30) translate(118 0)"/><rect x="432" y="208" width="20" height="16" rx="3" fill="#f0a0a0" transform="skewX(-30) translate(118 0)"/><rect x="464" y="212" width="20" height="16" rx="3" fill="#f8f8f8" transform="skewX(-30) translate(118 0)"/><rect x="322" y="258" width="20" height="15" rx="3" fill="#58c858" transform="skewX(-30) translate(150 0)"/><rect x="350" y="262" width="20" height="15" rx="3" fill="#f0c030" transform="skewX(-30) translate(150 0)"/><rect x="378" y="266" width="20" height="15" rx="3" fill="#f0a030" transform="skewX(-30) translate(150 0)"/><rect x="406" y="270" width="20" height="15" rx="3" fill="#f8f8f8" transform="skewX(-30) translate(150 0)"/><rect x="515" y="64" width="40" height="6" fill="#999" transform="rotate(3 515 64)"/><path d="M310 298L420 316" stroke="#666" stroke-width="5" stroke-dasharray="14 8"/></g>
<rect x="173" y="661.5" width="1135" height="3.4" fill="#7a7a8a" opacity=".42" filter="url(#blur2)"/>
<rect x="171.30" y="657.90" width="1137.00" height="1.30" fill="#cbb6ec" />
<rect x="171.30" y="659.20" width="1137.00" height="1.30" fill="#fbf7ff" />
<rect x="171.30" y="660.50" width="1137.00" height="1.50" fill="#f3dab2" />
<rect x="198.20" y="533.30" width="459.60" height="125.10" fill="#fff" stroke="#629ddf" stroke-width="1.1" />
<rect x="664.40" y="533.40" width="490.30" height="125.00" fill="#fff" stroke="#629ddf" stroke-width="1.1" />
<rect x="1159.20" y="548.40" width="180.40" height="110.00" fill="#fff" stroke="#629ddf" stroke-width="1.1" />
<rect x="198.20" y="657.80" width="459.60" height="1.30" fill="#8c8ce2" />
<rect x="664.40" y="657.80" width="490.30" height="1.30" fill="#8c8ce2" />
<rect x="1159.20" y="657.80" width="180.40" height="1.30" fill="#8c8ce2" />
<rect x="948.30" y="585.00" width="5.80" height="75.00" fill="#b49ae6" />
<rect x="949.70" y="585.00" width="3.20" height="75.00" fill="#fbd9a6" />
<rect x="1051.00" y="585.00" width="5.80" height="75.00" fill="#b49ae6" />
<rect x="1052.40" y="585.00" width="3.20" height="75.00" fill="#fbd9a6" />
<rect x="1310.60" y="511.50" width="2.60" height="77.00" fill="#a6e27a" />
<rect x="1313.20" y="511.50" width="2.60" height="77.00" fill="#f2f28a" />
<rect x="210.60" y="521.20" width="117.90" height="31.10" fill="#aad2f6" />
<text class="cb" x="237.55" y="543.11" font-size="16" fill="#2e2e2e">过程管理</text>
<rect x="540.90" y="521.20" width="104.30" height="31.10" fill="#aad2f6" />
<text class="cb" x="561.05" y="543.11" font-size="16" fill="#2e2e2e">电气控制</text>
<rect x="669.30" y="520.60" width="170.40" height="32.20" fill="#aad2f6" />
<text class="cb" x="707.1" y="544.39" font-size="15.8" fill="#2e2e2e">生产运营优化</text>
<rect x="1169.10" y="527.60" width="109.90" height="31.90" fill="#aad2f6" />
<text class="cb" x="1184.3" y="549.87" font-size="15.9" fill="#2e2e2e">预测性维护</text>
<rect x="245.8" y="645.3" width="3.4" height="10.7" fill="#c4cef4" opacity=".9" filter="url(#blur1)"/><path d="M241.8 635.3L253.0 635.3Q250.0 638.3 249.8 644.3L245.0 644.3Q244.8 638.3 241.8 635.3z" fill="#1c1c1c"/><ellipse cx="247.4" cy="644.7" rx="21.0" ry="2.6" fill="#1a1a1a"/><ellipse cx="247.4" cy="643.9" rx="16.8" ry="1.2" fill="#555" opacity=".6"/><rect x="204.5" y="597.0" width="85.9" height="38.8" rx="1" fill="#161616"/><g transform="translate(207.10 598.80) scale(0.8070 0.8200)"><rect x="0.0" y="0.0" width="100.0" height="40.0" fill="#fcfcfc"/><rect x="0.0" y="0.0" width="100.0" height="1.8" fill="#c4d0e0"/><rect x="0.0" y="1.8" width="100.0" height="1.6" fill="#eef0f4"/><rect x="0.0" y="3.4" width="13.0" height="36.6" fill="#f4f6f8"/><rect x="2.0" y="5.0" width="7.0" height="0.7" fill="#a0a8b0"/><rect x="3.0" y="7.4" width="10.0" height="0.7" fill="#a0a8b0"/><rect x="4.0" y="9.8" width="9.0" height="0.7" fill="#a0a8b0"/><rect x="2.0" y="12.2" width="8.0" height="0.7" fill="#a0a8b0"/><rect x="3.0" y="14.6" width="7.0" height="0.7" fill="#a0a8b0"/><rect x="4.0" y="17.0" width="10.0" height="0.7" fill="#a0a8b0"/><rect x="2.0" y="19.4" width="9.0" height="0.7" fill="#a0a8b0"/><rect x="3.0" y="21.8" width="8.0" height="0.7" fill="#a0a8b0"/><rect x="4.0" y="24.2" width="7.0" height="0.7" fill="#a0a8b0"/><rect x="2.0" y="26.6" width="10.0" height="0.7" fill="#a0a8b0"/><rect x="3.0" y="29.0" width="9.0" height="0.7" fill="#a0a8b0"/><rect x="4.0" y="31.4" width="8.0" height="0.7" fill="#a0a8b0"/><rect x="2.0" y="33.8" width="7.0" height="0.7" fill="#a0a8b0"/><rect x="3.0" y="36.2" width="10.0" height="0.7" fill="#a0a8b0"/><rect x="87.0" y="3.4" width="13.0" height="20.0" fill="#fbf6ea"/><rect x="88.5" y="5.0" width="8.0" height="0.7" fill="#c8a878"/><rect x="88.5" y="7.3" width="10.0" height="0.7" fill="#c8a878"/><rect x="88.5" y="9.6" width="9.0" height="0.7" fill="#c8a878"/><rect x="88.5" y="11.9" width="8.0" height="0.7" fill="#c8a878"/><rect x="88.5" y="14.2" width="10.0" height="0.7" fill="#c8a878"/><rect x="88.5" y="16.5" width="9.0" height="0.7" fill="#c8a878"/><rect x="88.5" y="18.8" width="8.0" height="0.7" fill="#c8a878"/><path d="M18 8h60M18 14h52M24 8v24M36 6v22M48 8v26M60 6v20M72 8v18M18 22h40M30 28h44M42 14v14M66 14v18M54 22v10" stroke="#b0b4bc" stroke-width=".5" fill="none"/><rect x="22.0" y="11.0" width="3.0" height="1.6" fill="#8a909c" opacity="0.8"/><rect x="34.0" y="11.0" width="3.0" height="1.6" fill="#8a909c" opacity="0.8"/><rect x="46.0" y="17.0" width="3.0" height="1.6" fill="#8a909c" opacity="0.8"/><rect x="58.0" y="11.0" width="3.0" height="1.6" fill="#8a909c" opacity="0.8"/><rect x="70.0" y="17.0" width="3.0" height="1.6" fill="#8a909c" opacity="0.8"/><rect x="28.0" y="25.0" width="3.0" height="1.6" fill="#8a909c" opacity="0.8"/><rect x="40.0" y="25.0" width="3.0" height="1.6" fill="#8a909c" opacity="0.8"/><rect x="52.0" y="29.0" width="3.0" height="1.6" fill="#8a909c" opacity="0.8"/><rect x="64.0" y="23.0" width="3.0" height="1.6" fill="#8a909c" opacity="0.8"/><rect x="76.0" y="11.0" width="3.0" height="1.6" fill="#8a909c" opacity="0.8"/><rect x="20.0" y="18.0" width="3.0" height="1.6" fill="#8a909c" opacity="0.8"/><rect x="44.0" y="9.0" width="3.0" height="1.6" fill="#8a909c" opacity="0.8"/><rect x="56.0" y="17.0" width="3.0" height="1.6" fill="#8a909c" opacity="0.8"/><rect x="40.0" y="31.0" width="12.0" height="3.5" fill="#9aa4b8" opacity="0.7"/><rect x="56.0" y="32.5" width="22.0" height="1.2" fill="#b0b4bc" opacity="0.8"/><rect x="13.0" y="36.0" width="74.0" height="4.0" fill="#fbf8ee"/></g>
<rect x="335.0" y="645.3" width="3.4" height="10.7" fill="#c4cef4" opacity=".9" filter="url(#blur1)"/><path d="M331.1 635.3L342.3 635.3Q339.3 638.3 339.1 644.3L334.3 644.3Q334.1 638.3 331.1 635.3z" fill="#1c1c1c"/><ellipse cx="336.7" cy="644.7" rx="20.8" ry="2.6" fill="#1a1a1a"/><ellipse cx="336.7" cy="643.9" rx="16.7" ry="1.2" fill="#555" opacity=".6"/><rect x="294.2" y="598.0" width="85.0" height="37.8" rx="1" fill="#161616"/><g transform="translate(296.80 599.80) scale(0.7980 0.7950)"><rect x="0.0" y="0.0" width="100.0" height="40.0" fill="#d3e0f6"/><rect x="0.0" y="0.0" width="100.0" height="2.0" fill="#b6c8e8"/><rect x="0.0" y="2.0" width="100.0" height="5.0" fill="#c6d8f4"/><rect x="2.0" y="3.0" width="3.4" height="2.8" fill="#58a858" opacity="0.8"/><rect x="7.5" y="3.0" width="3.4" height="2.8" fill="#8aa8d0" opacity="0.8"/><rect x="13.0" y="3.0" width="3.4" height="2.8" fill="#8aa8d0" opacity="0.8"/><rect x="18.5" y="3.0" width="3.4" height="2.8" fill="#58a858" opacity="0.8"/><rect x="24.0" y="3.0" width="3.4" height="2.8" fill="#8aa8d0" opacity="0.8"/><rect x="29.5" y="3.0" width="3.4" height="2.8" fill="#8aa8d0" opacity="0.8"/><rect x="35.0" y="3.0" width="3.4" height="2.8" fill="#58a858" opacity="0.8"/><rect x="40.5" y="3.0" width="3.4" height="2.8" fill="#8aa8d0" opacity="0.8"/><rect x="46.0" y="3.0" width="3.4" height="2.8" fill="#8aa8d0" opacity="0.8"/><rect x="51.5" y="3.0" width="3.4" height="2.8" fill="#58a858" opacity="0.8"/><rect x="57.0" y="3.0" width="3.4" height="2.8" fill="#8aa8d0" opacity="0.8"/><rect x="62.5" y="3.0" width="3.4" height="2.8" fill="#8aa8d0" opacity="0.8"/><rect x="0.0" y="7.0" width="100.0" height="6.0" fill="#e6eefa"/><rect x="53.0" y="7.5" width="8.5" height="3.4" fill="#30c060"/><rect x="2.0" y="9.0" width="40.0" height="1.0" fill="#a8b8d0"/><rect x="66.0" y="9.0" width="30.0" height="1.0" fill="#a8b8d0"/><rect x="0.0" y="13.0" width="100.0" height="2.4" fill="#f8fafe"/><rect x="0.0" y="15.4" width="100.0" height="16.0" fill="#ccd6f0"/><path d="M3 22l4-3 3 4 5-5 3 3 6-2 4 3 5-4 6 3 5-2 6 4 5-5 5 3 6-2 5 3 6-4 5 3 6-2" stroke="#8a9cd0" stroke-width=".6" fill="none"/><rect x="14.0" y="15.4" width="0.5" height="16.0" fill="#a8b4dc"/><rect x="30.0" y="15.4" width="0.5" height="16.0" fill="#a8b4dc"/><rect x="44.0" y="15.4" width="0.5" height="16.0" fill="#a8b4dc"/><rect x="58.0" y="15.4" width="0.5" height="16.0" fill="#a8b4dc"/><rect x="72.0" y="15.4" width="0.5" height="16.0" fill="#a8b4dc"/><rect x="86.0" y="15.4" width="0.5" height="16.0" fill="#a8b4dc"/><rect x="0.0" y="31.4" width="100.0" height="8.6" fill="#f6eed2"/><rect x="0.0" y="30.6" width="100.0" height="1.0" fill="#e8c8a8"/><path d="M3 36h94" stroke="#d8c898" stroke-width=".5"/><rect x="97.5" y="7.0" width="2.5" height="33.0" fill="#b8c8e4"/></g>
<rect x="424.8" y="645.8" width="3.4" height="10.2" fill="#c4cef4" opacity=".9" filter="url(#blur1)"/><path d="M420.8 635.8L432.1 635.8Q429.1 638.8 428.8 644.8L424.1 644.8Q423.8 638.8 420.8 635.8z" fill="#1c1c1c"/><ellipse cx="426.4" cy="645.2" rx="21.2" ry="2.6" fill="#1a1a1a"/><ellipse cx="426.4" cy="644.4" rx="17.0" ry="1.2" fill="#555" opacity=".6"/><rect x="383.2" y="597.0" width="86.5" height="39.3" rx="1" fill="#161616"/><g transform="translate(385.80 598.80) scale(0.8130 0.8325)"><rect x="0.0" y="0.0" width="100.0" height="40.0" fill="#b3b49c"/><rect x="0.0" y="0.0" width="100.0" height="3.4" fill="#3c3c44"/><rect x="2.0" y="0.8" width="5.0" height="1.8" fill="#d8d060" opacity="0.9"/><rect x="9.0" y="0.8" width="5.0" height="1.8" fill="#60c0d0" opacity="0.9"/><rect x="16.0" y="0.8" width="5.0" height="1.8" fill="#d8d8d8" opacity="0.9"/><rect x="23.0" y="0.8" width="5.0" height="1.8" fill="#e07050" opacity="0.9"/><rect x="30.0" y="0.8" width="5.0" height="1.8" fill="#d8d060" opacity="0.9"/><rect x="37.0" y="0.8" width="5.0" height="1.8" fill="#60c0d0" opacity="0.9"/><rect x="44.0" y="0.8" width="5.0" height="1.8" fill="#d8d8d8" opacity="0.9"/><rect x="51.0" y="0.8" width="5.0" height="1.8" fill="#e07050" opacity="0.9"/><rect x="58.0" y="0.8" width="5.0" height="1.8" fill="#d8d060" opacity="0.9"/><rect x="65.0" y="0.8" width="5.0" height="1.8" fill="#60c0d0" opacity="0.9"/><rect x="72.0" y="0.8" width="5.0" height="1.8" fill="#d8d8d8" opacity="0.9"/><rect x="79.0" y="0.8" width="5.0" height="1.8" fill="#e07050" opacity="0.9"/><rect x="86.0" y="0.8" width="5.0" height="1.8" fill="#d8d060" opacity="0.9"/><rect x="93.0" y="0.8" width="5.0" height="1.8" fill="#60c0d0" opacity="0.9"/><rect x="0.0" y="3.4" width="100.0" height="2.2" fill="#8c8c7c"/><path d="M6 14h20M10 22h26M20 14v14M34 10v16M30 30h30M46 18h24M58 12v20M8 30h14" stroke="#5a5a48" stroke-width=".7" fill="none"/><rect x="8.0" y="11.0" width="4.5" height="1.8" fill="#404038"/><rect x="16.0" y="13.0" width="4.5" height="1.8" fill="#404038"/><rect x="24.0" y="11.0" width="4.5" height="1.8" fill="#d8d040"/><rect x="36.0" y="13.0" width="4.5" height="1.8" fill="#404038"/><rect x="44.0" y="11.0" width="4.5" height="1.8" fill="#404038"/><rect x="52.0" y="13.0" width="4.5" height="1.8" fill="#404038"/><rect x="60.0" y="13.0" width="4.5" height="1.8" fill="#404038"/><rect x="10.0" y="20.0" width="4.5" height="1.8" fill="#e8e040"/><rect x="7.0" y="25.0" width="4.5" height="1.8" fill="#d04040"/><rect x="20.0" y="25.0" width="4.5" height="1.8" fill="#404038"/><rect x="28.0" y="28.0" width="4.5" height="1.8" fill="#404038"/><rect x="40.0" y="24.0" width="4.5" height="1.8" fill="#404038"/><rect x="50.0" y="28.0" width="4.5" height="1.8" fill="#e0e0e0"/><rect x="58.0" y="20.0" width="4.5" height="1.8" fill="#404038"/><rect x="64.0" y="22.0" width="4.5" height="1.8" fill="#282820"/><rect x="26.0" y="31.0" width="4.5" height="1.8" fill="#404038"/><rect x="44.0" y="33.0" width="4.5" height="1.8" fill="#404038"/><path d="M30 9l3-2M31 14v-6" stroke="#30a040" stroke-width="1.2"/><rect x="72.0" y="5.6" width="0.6" height="31.0" fill="#d8d060"/><rect x="72.6" y="5.6" width="27.4" height="31.0" fill="#aeb098"/><path d="M80 22c0-6 6-8 8-4s6 2 6-4M82 28c2-6 8-2 8-8M86 14v16" stroke="#38a858" stroke-width="1.2" fill="none"/><rect x="76.0" y="12.0" width="4.0" height="1.8" fill="#303028"/><rect x="92.0" y="12.0" width="4.0" height="1.8" fill="#303028"/><rect x="76.0" y="22.0" width="4.0" height="1.8" fill="#303028"/><rect x="76.0" y="30.0" width="4.0" height="1.8" fill="#303028"/><rect x="93.0" y="26.0" width="4.0" height="1.8" fill="#303028"/><rect x="93.0" y="32.0" width="4.0" height="1.8" fill="#303028"/><rect x="0.0" y="36.4" width="100.0" height="2.6" fill="#e6e222"/><rect x="0.0" y="39.0" width="100.0" height="1.0" fill="#444"/></g>
<rect x="516.2" y="645.9" width="3.4" height="10.1" fill="#c4cef4" opacity=".9" filter="url(#blur1)"/><path d="M512.3 635.9L523.5 635.9Q520.5 638.9 520.3 644.9L515.5 644.9Q515.3 638.9 512.3 635.9z" fill="#1c1c1c"/><ellipse cx="517.9" cy="645.3" rx="21.2" ry="2.6" fill="#1a1a1a"/><ellipse cx="517.9" cy="644.5" rx="16.9" ry="1.2" fill="#555" opacity=".6"/><rect x="474.7" y="597.4" width="86.4" height="39.0" rx="1" fill="#161616"/><g transform="translate(477.30 599.20) scale(0.8120 0.8250)"><rect x="0.0" y="0.0" width="100.0" height="40.0" fill="#b4b4b4"/><rect x="0.0" y="0.0" width="100.0" height="2.6" fill="#6a6a72"/><rect x="0.0" y="2.6" width="100.0" height="2.0" fill="#d0d0d0"/><rect x="1.0" y="5.5" width="16.0" height="32.0" fill="#c4c4c0"/><rect x="2.0" y="6.0" width="1.8" height="1.5" fill="#f0f0f0"/><rect x="4.5" y="6.0" width="1.8" height="1.5" fill="#f0f0f0"/><rect x="7.0" y="6.0" width="1.8" height="1.5" fill="#f0f0f0"/><rect x="9.5" y="6.0" width="1.8" height="1.5" fill="#f0f0f0"/><rect x="12.0" y="6.0" width="1.8" height="1.5" fill="#f0f0f0"/><rect x="14.5" y="6.0" width="1.8" height="1.5" fill="#f0f0f0"/><rect x="2.0" y="8.2" width="1.8" height="1.5" fill="#f0f0f0"/><rect x="4.5" y="8.2" width="1.8" height="1.5" fill="#f0f0f0"/><rect x="7.0" y="8.2" width="1.8" height="1.5" fill="#f0f0f0"/><rect x="9.5" y="8.2" width="1.8" height="1.5" fill="#f0f0f0"/><rect x="12.0" y="8.2" width="1.8" height="1.5" fill="#f0f0f0"/><rect x="14.5" y="8.2" width="1.8" height="1.5" fill="#f0f0f0"/><rect x="3.0" y="11.5" width="11.0" height="2.4" fill="#d86060"/><rect x="3.0" y="16.0" width="11.0" height="2.4" fill="#404040"/><rect x="3.0" y="23.0" width="11.0" height="2.4" fill="#d87070"/><rect x="3.0" y="28.0" width="11.0" height="2.4" fill="#404040"/><rect x="3.0" y="33.0" width="11.0" height="2.4" fill="#505050"/><rect x="19.0" y="7.0" width="24.0" height="30.0" fill="#e6e6d8"/><rect x="24.0" y="10.0" width="13.0" height="2.2" fill="#5a5a8a"/><rect x="21.0" y="15.0" width="8.0" height="2.0" fill="#5a6a7a"/><rect x="33.0" y="15.0" width="7.0" height="2.0" fill="#5a6a7a"/><rect x="20.0" y="21.0" width="9.0" height="2.0" fill="#9ab0d0"/><rect x="31.0" y="23.0" width="8.0" height="2.6" fill="#3c3c3c"/><rect x="20.0" y="29.0" width="10.0" height="2.0" fill="#a0a070"/><rect x="32.0" y="30.0" width="7.0" height="2.6" fill="#3c3c3c"/><rect x="45.0" y="7.0" width="25.0" height="30.0" fill="#dcdcd4"/><rect x="55.0" y="11.0" width="7.0" height="2.0" fill="#5a5a5a"/><rect x="51.0" y="16.0" width="7.0" height="2.6" fill="#3838d8"/><rect x="47.0" y="22.0" width="8.0" height="2.0" fill="#9ab0d0"/><rect x="58.0" y="23.0" width="7.0" height="3.0" fill="#4a4a4a"/><rect x="66.0" y="16.0" width="1.6" height="12.0" fill="#48b868"/><rect x="47.0" y="30.0" width="8.0" height="2.0" fill="#a0a070"/><rect x="72.0" y="5.5" width="27.0" height="32.0" fill="#7c7c7c"/><rect x="73.0" y="6.5" width="1.9" height="1.6" fill="#e8e8e8"/><rect x="75.6" y="6.5" width="1.9" height="1.6" fill="#e8e8e8"/><rect x="78.2" y="6.5" width="1.9" height="1.6" fill="#e8e8e8"/><rect x="80.8" y="6.5" width="1.9" height="1.6" fill="#e8e8e8"/><rect x="83.4" y="6.5" width="1.9" height="1.6" fill="#e8e8e8"/><rect x="86.0" y="6.5" width="1.9" height="1.6" fill="#e8e8e8"/><rect x="88.6" y="6.5" width="1.9" height="1.6" fill="#e8e8e8"/><rect x="73.0" y="8.9" width="1.9" height="1.6" fill="#e8e8e8"/><rect x="75.6" y="8.9" width="1.9" height="1.6" fill="#e8e8e8"/><rect x="78.2" y="8.9" width="1.9" height="1.6" fill="#e8e8e8"/><rect x="80.8" y="8.9" width="1.9" height="1.6" fill="#e8e8e8"/><rect x="83.4" y="8.9" width="1.9" height="1.6" fill="#e8e8e8"/><rect x="86.0" y="8.9" width="1.9" height="1.6" fill="#e8e8e8"/><rect x="88.6" y="8.9" width="1.9" height="1.6" fill="#e8e8e8"/><rect x="92.0" y="6.5" width="6.0" height="3.0" fill="#e83838"/><circle cx="85" cy="20" r="6.5" fill="none" stroke="#9a9a9a" stroke-width=".6"/><rect x="74.0" y="30.0" width="23.0" height="2.0" fill="#2a2a2a"/><rect x="76.0" y="33.0" width="5.0" height="3.0" fill="#50c050"/><rect x="83.0" y="33.0" width="6.0" height="3.0" fill="#d8d040"/><rect x="91.0" y="33.0" width="6.0" height="3.0" fill="#50c050"/><rect x="0.0" y="38.0" width="100.0" height="2.0" fill="#8a8a8a"/></g>
<rect x="608.2" y="645.0" width="3.4" height="11.0" fill="#c4cef4" opacity=".9" filter="url(#blur1)"/><path d="M604.4 635.0L615.6 635.0Q612.6 638.0 612.4 644.0L607.6 644.0Q607.4 638.0 604.4 635.0z" fill="#1c1c1c"/><ellipse cx="610.0" cy="644.4" rx="20.9" ry="2.6" fill="#1a1a1a"/><ellipse cx="610.0" cy="643.6" rx="16.8" ry="1.2" fill="#555" opacity=".6"/><rect x="567.2" y="596.8" width="85.5" height="38.7" rx="1" fill="#161616"/><g transform="translate(569.80 598.60) scale(0.8030 0.8175)"><rect x="0.0" y="0.0" width="100.0" height="40.0" fill="#fdfdfd"/><rect x="0.0" y="0.0" width="100.0" height="1.6" fill="#e4e8f0"/><rect x="3.0" y="3.0" width="12.0" height="1.6" fill="#4a80d0"/><rect x="18.0" y="3.0" width="10.0" height="1.2" fill="#a0b8e0"/><rect x="30.0" y="3.0" width="24.0" height="1.2" fill="#c0c4cc"/><rect x="3.0" y="6.5" width="3.0" height="0.8" fill="#a0a8b4"/><rect x="3.0" y="8.4" width="5.0" height="0.8" fill="#a0a8b4"/><rect x="3.0" y="10.3" width="3.0" height="0.8" fill="#a0a8b4"/><rect x="3.0" y="12.2" width="5.0" height="0.8" fill="#a0a8b4"/><rect x="3.0" y="14.1" width="3.0" height="0.8" fill="#a0a8b4"/><rect x="3.0" y="16.0" width="5.0" height="0.8" fill="#a0a8b4"/><rect x="3.0" y="17.9" width="3.0" height="0.8" fill="#a0a8b4"/><rect x="3.0" y="19.8" width="5.0" height="0.8" fill="#a0a8b4"/><rect x="3.0" y="21.7" width="3.0" height="0.8" fill="#a0a8b4"/><rect x="3.0" y="25.0" width="9.0" height="1.6" fill="#3a9a9a"/><rect x="3.0" y="28.0" width="2.0" height="1.2" fill="#d05050"/><rect x="3.0" y="30.5" width="2.0" height="1.2" fill="#5050d0"/><rect x="3.0" y="33.0" width="2.0" height="1.2" fill="#50a050"/><rect x="18.0" y="8.0" width="78.0" height="0.3" fill="#d4d8dc"/><rect x="18.0" y="13.0" width="78.0" height="0.3" fill="#d4d8dc"/><rect x="18.0" y="18.0" width="78.0" height="0.3" fill="#d4d8dc"/><rect x="18.0" y="23.0" width="78.0" height="0.3" fill="#d4d8dc"/><rect x="18.0" y="28.0" width="78.0" height="0.3" fill="#d4d8dc"/><rect x="18.0" y="33.0" width="78.0" height="0.3" fill="#d4d8dc"/><rect x="18.0" y="6.0" width="0.3" height="27.0" fill="#dcdfe3"/><rect x="27.7" y="6.0" width="0.3" height="27.0" fill="#dcdfe3"/><rect x="37.4" y="6.0" width="0.3" height="27.0" fill="#dcdfe3"/><rect x="47.1" y="6.0" width="0.3" height="27.0" fill="#dcdfe3"/><rect x="56.8" y="6.0" width="0.3" height="27.0" fill="#dcdfe3"/><rect x="66.5" y="6.0" width="0.3" height="27.0" fill="#dcdfe3"/><rect x="76.2" y="6.0" width="0.3" height="27.0" fill="#dcdfe3"/><rect x="85.9" y="6.0" width="0.3" height="27.0" fill="#dcdfe3"/><rect x="95.6" y="6.0" width="0.3" height="27.0" fill="#dcdfe3"/><rect x="50.0" y="20.0" width="44.0" height="0.6" fill="#c8c0a0"/><rect x="50.0" y="16.5" width="10.0" height="0.8" fill="#aab"/><rect x="26.0" y="36.2" width="42.0" height="1.6" fill="#6a6a6a"/><rect x="26.0" y="36.2" width="9.0" height="1.6" fill="#333"/></g>
<rect x="710.5" y="646.0" width="3.4" height="13.0" fill="#f6d8e6" opacity=".9" filter="url(#blur1)"/><path d="M706.6 635.4L717.8 635.4Q714.8 638.4 714.6 645.0L709.8 645.0Q709.6 638.4 706.6 635.4z" fill="#1c1c1c"/><ellipse cx="712.2" cy="645.4" rx="21.7" ry="2.6" fill="#1a1a1a"/><ellipse cx="712.2" cy="644.6" rx="17.3" ry="1.2" fill="#555" opacity=".6"/><rect x="668.0" y="596.3" width="88.4" height="39.6" rx="1" fill="#161616"/><g transform="translate(670.60 598.10) scale(0.8320 0.8400)"><rect x="0.0" y="0.0" width="100.0" height="40.0" fill="#aab2e2"/><rect x="0.0" y="0.0" width="100.0" height="5.0" fill="#e6c824"/><rect x="0.0" y="5.0" width="100.0" height="1.0" fill="#6a70b0"/><rect x="3.0" y="1.4" width="6.0" height="2.2" fill="#7a6a18"/><rect x="14.0" y="1.4" width="6.0" height="2.2" fill="#3a3420"/><rect x="25.0" y="1.4" width="6.0" height="2.2" fill="#7a6a18"/><rect x="36.0" y="1.4" width="6.0" height="2.2" fill="#3a3420"/><rect x="47.0" y="1.4" width="6.0" height="2.2" fill="#7a6a18"/><rect x="58.0" y="1.4" width="6.0" height="2.2" fill="#3a3420"/><rect x="69.0" y="1.4" width="6.0" height="2.2" fill="#7a6a18"/><rect x="80.0" y="1.4" width="6.0" height="2.2" fill="#3a3420"/><rect x="91.0" y="1.4" width="6.0" height="2.2" fill="#7a6a18"/><rect x="0.0" y="5.5" width="4.0" height="1.4" fill="#e6c824"/><path d="M20 13l5-4h6l5 4v8h-16z" fill="#9a9c9a"/><path d="M20 13l5-4h6l5 4z" fill="#c4c6c4"/><rect x="3.0" y="14.0" width="17.0" height="1.0" fill="#5a62c0"/><rect x="36.0" y="15.0" width="56.0" height="1.0" fill="#4a52c8"/><rect x="32.0" y="18.0" width="36.0" height="15.0" fill="#4a3a30"/><rect x="32.0" y="18.0" width="36.0" height="5.0" fill="#8a8a90"/><rect x="34.0" y="22.0" width="14.0" height="7.0" fill="#d86a20"/><rect x="48.0" y="23.0" width="12.0" height="6.0" fill="#a8a8a8"/><rect x="60.0" y="21.0" width="8.0" height="10.0" fill="#2a2a30"/><rect x="32.0" y="30.0" width="36.0" height="3.0" fill="#6a5a50"/><path d="M68 25h8M76 17v16M76 17h14M76 22h14M76 28h14M76 33h14" stroke="#3a46d0" stroke-width=".8" fill="none"/><rect x="88.0" y="16.0" width="8.0" height="1.8" fill="#505878"/><rect x="88.0" y="21.0" width="8.0" height="1.8" fill="#505878"/><rect x="88.0" y="27.0" width="8.0" height="1.8" fill="#505878"/><rect x="88.0" y="32.0" width="8.0" height="1.8" fill="#505878"/><rect x="0.0" y="35.5" width="100.0" height="3.0" fill="#e6c824"/><rect x="0.0" y="38.5" width="100.0" height="1.5" fill="#6a70b0"/><rect x="22.0" y="36.2" width="4.2" height="1.5" fill="#a89018" opacity="0.8"/><rect x="28.4" y="36.2" width="4.2" height="1.5" fill="#a89018" opacity="0.8"/><rect x="34.8" y="36.2" width="4.2" height="1.5" fill="#a89018" opacity="0.8"/><rect x="41.2" y="36.2" width="4.2" height="1.5" fill="#a89018" opacity="0.8"/><rect x="47.6" y="36.2" width="4.2" height="1.5" fill="#a89018" opacity="0.8"/><rect x="54.0" y="36.2" width="4.2" height="1.5" fill="#a89018" opacity="0.8"/><rect x="60.4" y="36.2" width="4.2" height="1.5" fill="#a89018" opacity="0.8"/><rect x="66.8" y="36.2" width="4.2" height="1.5" fill="#a89018" opacity="0.8"/><rect x="73.2" y="36.2" width="4.2" height="1.5" fill="#a89018" opacity="0.8"/><rect x="79.6" y="36.2" width="4.2" height="1.5" fill="#a89018" opacity="0.8"/><rect x="86.0" y="36.2" width="4.2" height="1.5" fill="#a89018" opacity="0.8"/><rect x="92.4" y="36.2" width="4.2" height="1.5" fill="#a89018" opacity="0.8"/><rect x="2.0" y="36.2" width="10.0" height="1.5" fill="#d04020" opacity="0.7"/></g>
<rect x="805.5" y="645.9" width="3.4" height="13.1" fill="#f6d8e6" opacity=".9" filter="url(#blur1)"/><path d="M801.6 636.0L812.9 636.0Q809.9 639.0 809.6 644.9L804.9 644.9Q804.6 639.0 801.6 636.0z" fill="#1c1c1c"/><ellipse cx="807.2" cy="645.3" rx="22.6" ry="2.6" fill="#1a1a1a"/><ellipse cx="807.2" cy="644.5" rx="18.1" ry="1.2" fill="#555" opacity=".6"/><rect x="761.2" y="596.8" width="92.1" height="39.7" rx="1" fill="#161616"/><g transform="translate(763.80 598.60) scale(0.8690 0.8425)"><rect x="0.0" y="0.0" width="100.0" height="40.0" fill="#e6eef0"/><rect x="2.0" y="1.5" width="6.0" height="3.0" fill="#e03030"/><rect x="8.5" y="3.5" width="5.5" height="3.0" fill="#e03030"/><rect x="14.0" y="1.2" width="86.0" height="7.0" fill="#22a6a6"/><rect x="15.5" y="2.0" width="5.0" height="2.2" fill="#f0e8a0" opacity="0.9"/><rect x="15.5" y="5.0" width="5.0" height="2.2" fill="#60c8e0" opacity="0.9"/><rect x="22.0" y="2.0" width="5.0" height="2.2" fill="#c8f0e8" opacity="0.9"/><rect x="22.0" y="5.0" width="5.0" height="2.2" fill="#60c8e0" opacity="0.9"/><rect x="28.5" y="2.0" width="5.0" height="2.2" fill="#f0e8a0" opacity="0.9"/><rect x="28.5" y="5.0" width="5.0" height="2.2" fill="#60c8e0" opacity="0.9"/><rect x="35.0" y="2.0" width="5.0" height="2.2" fill="#c8f0e8" opacity="0.9"/><rect x="35.0" y="5.0" width="5.0" height="2.2" fill="#60c8e0" opacity="0.9"/><rect x="41.5" y="2.0" width="5.0" height="2.2" fill="#f0e8a0" opacity="0.9"/><rect x="41.5" y="5.0" width="5.0" height="2.2" fill="#60c8e0" opacity="0.9"/><rect x="48.0" y="2.0" width="5.0" height="2.2" fill="#c8f0e8" opacity="0.9"/><rect x="48.0" y="5.0" width="5.0" height="2.2" fill="#60c8e0" opacity="0.9"/><rect x="54.5" y="2.0" width="5.0" height="2.2" fill="#f0e8a0" opacity="0.9"/><rect x="54.5" y="5.0" width="5.0" height="2.2" fill="#60c8e0" opacity="0.9"/><rect x="61.0" y="2.0" width="5.0" height="2.2" fill="#c8f0e8" opacity="0.9"/><rect x="61.0" y="5.0" width="5.0" height="2.2" fill="#60c8e0" opacity="0.9"/><rect x="67.5" y="2.0" width="5.0" height="2.2" fill="#f0e8a0" opacity="0.9"/><rect x="67.5" y="5.0" width="5.0" height="2.2" fill="#60c8e0" opacity="0.9"/><rect x="74.0" y="2.0" width="5.0" height="2.2" fill="#c8f0e8" opacity="0.9"/><rect x="74.0" y="5.0" width="5.0" height="2.2" fill="#60c8e0" opacity="0.9"/><rect x="80.5" y="2.0" width="5.0" height="2.2" fill="#f0e8a0" opacity="0.9"/><rect x="80.5" y="5.0" width="5.0" height="2.2" fill="#60c8e0" opacity="0.9"/><rect x="87.0" y="2.0" width="5.0" height="2.2" fill="#c8f0e8" opacity="0.9"/><rect x="87.0" y="5.0" width="5.0" height="2.2" fill="#60c8e0" opacity="0.9"/><rect x="93.5" y="2.0" width="5.0" height="2.2" fill="#f0e8a0" opacity="0.9"/><rect x="93.5" y="5.0" width="5.0" height="2.2" fill="#60c8e0" opacity="0.9"/><rect x="0.0" y="8.5" width="100.0" height="2.0" fill="#f4f8f4"/><rect x="11.0" y="10.5" width="32.0" height="2.2" fill="#169a9a"/><rect x="51.0" y="10.5" width="36.0" height="2.2" fill="#169a9a"/><rect x="15.0" y="13.0" width="26.0" height="7.0" fill="#eef2c0"/><rect x="36.0" y="13.0" width="6.0" height="6.5" fill="#7a8a80"/><rect x="53.0" y="13.0" width="34.0" height="7.0" fill="#eef2c0"/><rect x="79.0" y="13.0" width="7.0" height="6.5" fill="#7a8a80"/><rect x="15.0" y="14.5" width="8.0" height="1.0" fill="#9aa070"/><rect x="15.0" y="16.5" width="7.0" height="1.0" fill="#9aa070"/><rect x="55.0" y="14.5" width="10.0" height="1.0" fill="#9aa070"/><rect x="55.0" y="16.5" width="8.0" height="1.0" fill="#9aa070"/><rect x="26.0" y="14.5" width="5.0" height="1.0" fill="#b0b060"/><rect x="67.0" y="14.5" width="5.0" height="1.0" fill="#b0b060"/><rect x="2.0" y="22.0" width="98.0" height="2.6" fill="#149898"/><rect x="2.0" y="25.0" width="25.0" height="15.0" fill="#fafafa"/><rect x="3.0" y="26.0" width="16.0" height="0.9" fill="#888"/><rect x="3.0" y="28.3" width="20.0" height="0.9" fill="#888"/><rect x="3.0" y="30.6" width="14.0" height="0.9" fill="#888"/><rect x="3.0" y="32.9" width="18.0" height="0.9" fill="#888"/><rect x="3.0" y="35.2" width="15.0" height="0.9" fill="#888"/><rect x="3.0" y="37.5" width="19.0" height="0.9" fill="#888"/><rect x="29.0" y="25.0" width="7.0" height="15.0" fill="#686868"/><rect x="37.0" y="25.0" width="7.5" height="15.0" fill="#6c6c6c"/><rect x="45.5" y="25.0" width="7.5" height="15.0" fill="#707070"/><rect x="54.0" y="25.0" width="8.0" height="15.0" fill="#d84a44"/><rect x="62.5" y="25.0" width="8.0" height="15.0" fill="#1f8a68"/><rect x="71.0" y="25.0" width="8.0" height="15.0" fill="#707070"/><rect x="80.0" y="25.0" width="8.5" height="15.0" fill="#d84a44"/><rect x="89.0" y="25.0" width="9.0" height="15.0" fill="#1f8a68"/><rect x="28.0" y="26.8" width="72.0" height="0.5" fill="#e8eef0" opacity="0.7"/><rect x="28.0" y="28.8" width="72.0" height="0.5" fill="#e8eef0" opacity="0.7"/><rect x="28.0" y="30.8" width="72.0" height="0.5" fill="#e8eef0" opacity="0.7"/><rect x="28.0" y="32.8" width="72.0" height="0.5" fill="#e8eef0" opacity="0.7"/><rect x="28.0" y="34.8" width="72.0" height="0.5" fill="#e8eef0" opacity="0.7"/><rect x="28.0" y="36.8" width="72.0" height="0.5" fill="#e8eef0" opacity="0.7"/><rect x="28.0" y="38.8" width="72.0" height="0.5" fill="#e8eef0" opacity="0.7"/></g>
<rect x="900.2" y="646.8" width="3.4" height="12.2" fill="#f6d8e6" opacity=".9" filter="url(#blur1)"/><path d="M896.4 636.4L907.6 636.4Q904.6 639.4 904.4 645.8L899.6 645.8Q899.4 639.4 896.4 636.4z" fill="#1c1c1c"/><ellipse cx="902.0" cy="646.2" rx="21.7" ry="2.6" fill="#1a1a1a"/><ellipse cx="902.0" cy="645.4" rx="17.4" ry="1.2" fill="#555" opacity=".6"/><rect x="857.6" y="596.8" width="88.7" height="40.1" rx="1" fill="#161616"/><g transform="translate(860.20 598.60) scale(0.8350 0.8525)"><rect x="0.0" y="0.0" width="100.0" height="40.0" fill="#fff"/><rect x="2.0" y="2.0" width="51.0" height="31.0" fill="#f9edc8"/><rect x="53.0" y="2.0" width="45.0" height="31.0" fill="#bcdcf5"/><rect x="52.2" y="2.0" width="1.2" height="31.0" fill="#f4f8fa"/><path d="M4 13c5 0 6-3 10-2s6 3 10 2 6-5 10-4 5 3 9 3 6-2 10-1 8 3 12 2 8-2 12-1 10 1 18-1" stroke="#5a9ac0" stroke-width=".7" fill="none"/><path d="M4 15c6 1 8-1 12 0s6 2 10 1 8-3 12-1 8 2 12 1 10 0 14 1 16 0 30-1" stroke="#70a890" stroke-width=".7" fill="none"/><path d="M4 19c4 2 8 3 12 2s6-2 10 0 8 3 14 1 6 0 12 0" stroke="#d8a050" stroke-width=".7" fill="none"/><path d="M4 23c6 0 10 2 16 1s10 2 16 2 8-1 16 0M54 21h42" stroke="#c0b080" stroke-width=".5" fill="none"/><rect x="28.0" y="7.0" width="12.0" height="0.8" fill="#777"/><rect x="66.0" y="10.0" width="11.0" height="0.8" fill="#667"/><rect x="72.0" y="17.0" width="12.0" height="0.8" fill="#667"/><rect x="30.0" y="22.5" width="10.0" height="0.8" fill="#777"/><rect x="4.0" y="30.0" width="48.0" height="0.5" fill="#b8a878"/><rect x="55.0" y="30.0" width="42.0" height="0.5" fill="#7898b0"/><path d="M4 39l5-5M12 39l5-5M20 39l5-5M28 39l5-5M36 39l5-5M44 39l5-5M52 39l5-5M60 39l5-5M68 39l5-5M76 39l5-5M84 39l5-5M92 39l5-5" stroke="#b8bcc0" stroke-width=".8"/></g>
<rect x="1000.1" y="646.0" width="3.4" height="13.0" fill="#f6d8e6" opacity=".9" filter="url(#blur1)"/><path d="M996.2 635.1L1007.4 635.1Q1004.4 638.1 1004.2 645.0L999.4 645.0Q999.2 638.1 996.2 635.1z" fill="#1c1c1c"/><ellipse cx="1001.8" cy="645.4" rx="21.7" ry="2.6" fill="#1a1a1a"/><ellipse cx="1001.8" cy="644.6" rx="17.3" ry="1.2" fill="#555" opacity=".6"/><rect x="957.6" y="595.9" width="88.5" height="39.7" rx="1" fill="#161616"/><g transform="translate(960.20 597.70) scale(0.8330 0.8425)"><rect x="0.0" y="0.0" width="100.0" height="40.0" fill="#fefefe"/><rect x="0.0" y="0.0" width="100.0" height="1.2" fill="#eef0f4"/><rect x="3.0" y="3.0" width="5.0" height="0.7" fill="#9aa0a8"/><rect x="3.0" y="4.8" width="8.0" height="0.7" fill="#9aa0a8"/><rect x="3.0" y="6.6" width="6.0" height="0.7" fill="#9aa0a8"/><rect x="3.0" y="8.4" width="9.0" height="0.7" fill="#9aa0a8"/><rect x="3.0" y="10.2" width="7.0" height="0.7" fill="#9aa0a8"/><rect x="3.0" y="12.0" width="5.0" height="0.7" fill="#9aa0a8"/><rect x="3.0" y="13.8" width="8.0" height="0.7" fill="#9aa0a8"/><rect x="3.0" y="15.6" width="6.0" height="0.7" fill="#9aa0a8"/><rect x="21.0" y="1.5" width="1.5" height="1.5" fill="#e04040"/><rect x="93.0" y="1.5" width="4.0" height="1.2" fill="#e8a060"/><rect x="21.0" y="5.5" width="12.0" height="2.6" fill="#3a66d8"/><rect x="21.0" y="9.0" width="12.0" height="2.0" fill="#6a8ee8"/><rect x="21.0" y="12.0" width="12.0" height="2.0" fill="#9ab4f0"/><rect x="21.0" y="15.0" width="12.0" height="2.0" fill="#c8d8f8"/><rect x="26.0" y="20.0" width="3.0" height="1.0" fill="#aaa"/><path d="M38 13h18c2 0 2-2 4-2h10c3 0 3 4 6 4h20M38 17h58" stroke="#8ccf8c" stroke-width=".6" fill="none"/><path d="M64 5v8h30M64 9h30" stroke="#c8ccd0" stroke-width=".4" fill="none"/><rect x="46.0" y="24.0" width="16.0" height="0.7" fill="#a0a4ac" opacity="0.85"/><rect x="46.0" y="26.0" width="13.0" height="0.7" fill="#a0a4ac" opacity="0.85"/><rect x="46.0" y="28.0" width="16.0" height="0.7" fill="#a0a4ac" opacity="0.85"/><rect x="46.0" y="30.0" width="13.0" height="0.7" fill="#a0a4ac" opacity="0.85"/><rect x="46.0" y="32.0" width="16.0" height="0.7" fill="#a0a4ac" opacity="0.85"/><rect x="70.0" y="24.0" width="12.0" height="0.7" fill="#a0a4ac" opacity="0.85"/><rect x="70.0" y="26.0" width="9.0" height="0.7" fill="#a0a4ac" opacity="0.85"/><rect x="70.0" y="28.0" width="12.0" height="0.7" fill="#a0a4ac" opacity="0.85"/><rect x="70.0" y="30.0" width="9.0" height="0.7" fill="#a0a4ac" opacity="0.85"/><rect x="70.0" y="32.0" width="12.0" height="0.7" fill="#a0a4ac" opacity="0.85"/><rect x="86.0" y="24.0" width="8.0" height="0.7" fill="#a0a4ac" opacity="0.85"/><rect x="86.0" y="26.0" width="5.0" height="0.7" fill="#a0a4ac" opacity="0.85"/><rect x="86.0" y="28.0" width="8.0" height="0.7" fill="#a0a4ac" opacity="0.85"/><rect x="86.0" y="30.0" width="5.0" height="0.7" fill="#a0a4ac" opacity="0.85"/><rect x="86.0" y="32.0" width="8.0" height="0.7" fill="#a0a4ac" opacity="0.85"/><rect x="44.0" y="23.0" width="0.4" height="11.0" fill="#888"/><rect x="84.0" y="23.0" width="0.4" height="11.0" fill="#888"/></g>
<rect x="1100.9" y="645.8" width="3.4" height="13.2" fill="#f6d8e6" opacity=".9" filter="url(#blur1)"/><path d="M1097.0 635.4L1108.2 635.4Q1105.2 638.4 1105.0 644.8L1100.2 644.8Q1100.0 638.4 1097.0 635.4z" fill="#1c1c1c"/><ellipse cx="1102.6" cy="645.2" rx="21.9" ry="2.6" fill="#1a1a1a"/><ellipse cx="1102.6" cy="644.4" rx="17.5" ry="1.2" fill="#555" opacity=".6"/><rect x="1058.0" y="596.1" width="89.2" height="39.8" rx="1" fill="#161616"/><g transform="translate(1060.60 597.90) scale(0.8400 0.8450)"><rect x="0.0" y="0.0" width="100.0" height="40.0" fill="#5f8c8a"/><rect x="0.0" y="0.0" width="100.0" height="3.6" fill="#3a5c5c"/><rect x="0.0" y="3.6" width="100.0" height="1.6" fill="#88aaa8"/><rect x="3.0" y="1.0" width="6.0" height="1.6" fill="#cfe0e0" opacity="0.85"/><rect x="12.0" y="1.0" width="6.0" height="1.6" fill="#1a2a2a" opacity="0.85"/><rect x="21.0" y="1.0" width="6.0" height="1.6" fill="#cfe0e0" opacity="0.85"/><rect x="30.0" y="1.0" width="6.0" height="1.6" fill="#1a2a2a" opacity="0.85"/><rect x="39.0" y="1.0" width="6.0" height="1.6" fill="#cfe0e0" opacity="0.85"/><rect x="48.0" y="1.0" width="6.0" height="1.6" fill="#1a2a2a" opacity="0.85"/><rect x="57.0" y="1.0" width="6.0" height="1.6" fill="#cfe0e0" opacity="0.85"/><rect x="66.0" y="1.0" width="6.0" height="1.6" fill="#1a2a2a" opacity="0.85"/><rect x="38.0" y="13.0" width="18.0" height="5.4" fill="#f21414"/><rect x="4.0" y="8.0" width="6.0" height="2.0" fill="#1c3a2a"/><rect x="16.0" y="8.0" width="8.0" height="2.0" fill="#c8d8d8"/><rect x="16.0" y="15.0" width="8.0" height="1.6" fill="#c8d8d8"/><rect x="6.0" y="20.0" width="4.0" height="8.0" fill="#2a4a3a"/><rect x="34.0" y="12.0" width="2.0" height="12.0" fill="#103a20"/><rect x="57.0" y="12.0" width="2.0" height="14.0" fill="#103a20"/><rect x="40.0" y="24.0" width="14.0" height="1.6" fill="#c8d8d8"/><rect x="64.0" y="15.0" width="10.0" height="1.6" fill="#c8d8d8"/><rect x="76.0" y="12.0" width="2.0" height="10.0" fill="#103a20"/><rect x="84.0" y="8.0" width="10.0" height="2.4" fill="#142a1c"/><rect x="84.0" y="14.0" width="10.0" height="2.4" fill="#142a1c"/><rect x="84.0" y="20.0" width="5.0" height="4.0" fill="#0c2a14"/><rect x="91.0" y="20.0" width="5.0" height="4.0" fill="#0c2a14"/><rect x="24.0" y="26.0" width="8.0" height="1.4" fill="#a8c0c0"/><rect x="62.0" y="28.0" width="12.0" height="1.4" fill="#a8c0c0"/><rect x="3.0" y="30.0" width="11.0" height="7.0" fill="#064c0c"/><rect x="3" y="30" width="11" height="7" fill="none" stroke="#2a8a2a" stroke-width=".6"/><rect x="0.0" y="38.4" width="100.0" height="1.6" fill="#2c4646"/></g>
<path d="M945.5 575.2L956.7 575.2Q953.7 578.2 953.5 584.4L948.7 584.4Q948.5 578.2 945.5 575.2z" fill="#1c1c1c"/><ellipse cx="951.1" cy="584.8" rx="22.0" ry="2.6" fill="#1a1a1a"/><ellipse cx="951.1" cy="584.0" rx="17.6" ry="1.2" fill="#555" opacity=".6"/><rect x="906.2" y="536.3" width="89.8" height="39.4" rx="1" fill="#161616"/><g transform="translate(908.80 538.10) scale(0.8460 0.8350)"><rect x="0.0" y="0.0" width="100.0" height="40.0" fill="#f4f4f4"/><rect x="5.0" y="3.0" width="90.0" height="31.0" fill="#fefefe"/><rect x="5" y="3" width="90" height="31" fill="none" stroke="#c4c4c4" stroke-width=".5"/><rect x="36.0" y="1.0" width="14.0" height="0.8" fill="#aaa"/><rect x="56.0" y="2.0" width="8.0" height="0.8" fill="#bbb"/><rect x="13.0" y="7.0" width="2.6" height="23.0" fill="#d2604c"/><rect x="21.5" y="7.0" width="2.6" height="23.0" fill="#d2604c"/><rect x="29.5" y="17.0" width="2.6" height="13.0" fill="#d2604c"/><rect x="37.5" y="24.5" width="2.6" height="5.5" fill="#d2604c"/><rect x="45.5" y="28.2" width="2.8" height="1.8" fill="#d87868"/><rect x="53.5" y="28.2" width="2.8" height="1.8" fill="#d87868"/><rect x="61.5" y="28.2" width="2.8" height="1.8" fill="#d87868"/><rect x="69.5" y="28.2" width="2.8" height="1.8" fill="#d87868"/><rect x="77.5" y="28.2" width="2.8" height="1.8" fill="#d87868"/><rect x="85.5" y="28.2" width="2.8" height="1.8" fill="#d87868"/><rect x="5.0" y="30.2" width="90.0" height="0.4" fill="#aaa"/><rect x="3.0" y="6.0" width="1.6" height="0.6" fill="#bbb"/><rect x="3.0" y="10.6" width="1.6" height="0.6" fill="#bbb"/><rect x="3.0" y="15.2" width="1.6" height="0.6" fill="#bbb"/><rect x="3.0" y="19.8" width="1.6" height="0.6" fill="#bbb"/><rect x="3.0" y="24.4" width="1.6" height="0.6" fill="#bbb"/><rect x="3.0" y="29.0" width="1.6" height="0.6" fill="#bbb"/><rect x="46.0" y="36.0" width="8.0" height="0.9" fill="#aaa"/></g>
<path d="M1048.1 575.6L1059.3 575.6Q1056.3 578.6 1056.1 585.0L1051.3 585.0Q1051.1 578.6 1048.1 575.6z" fill="#1c1c1c"/><ellipse cx="1053.7" cy="585.4" rx="21.9" ry="2.6" fill="#1a1a1a"/><ellipse cx="1053.7" cy="584.6" rx="17.5" ry="1.2" fill="#555" opacity=".6"/><rect x="1009.1" y="537.0" width="89.2" height="39.1" rx="1" fill="#161616"/><g transform="translate(1011.70 538.80) scale(0.8400 0.8275)"><rect x="0.0" y="0.0" width="100.0" height="40.0" fill="#fefefe"/><rect x="42.0" y="1.6" width="10.0" height="1.2" fill="#555"/><path d="M6 4v31h64V4" fill="none" stroke="#8a8a8a" stroke-width=".5"/><rect x="3.0" y="6.0" width="2.0" height="0.6" fill="#e06060"/><rect x="3.0" y="10.4" width="2.0" height="0.6" fill="#e06060"/><rect x="3.0" y="14.8" width="2.0" height="0.6" fill="#e06060"/><rect x="3.0" y="19.2" width="2.0" height="0.6" fill="#e06060"/><rect x="3.0" y="23.6" width="2.0" height="0.6" fill="#e06060"/><rect x="3.0" y="28.0" width="2.0" height="0.6" fill="#e06060"/><rect x="3.0" y="32.4" width="2.0" height="0.6" fill="#e06060"/><rect x="71.0" y="6.0" width="2.0" height="0.6" fill="#e06060"/><rect x="71.0" y="10.4" width="2.0" height="0.6" fill="#e06060"/><rect x="71.0" y="14.8" width="2.0" height="0.6" fill="#e06060"/><rect x="71.0" y="19.2" width="2.0" height="0.6" fill="#e06060"/><rect x="71.0" y="23.6" width="2.0" height="0.6" fill="#e06060"/><rect x="71.0" y="28.0" width="2.0" height="0.6" fill="#e06060"/><rect x="71.0" y="32.4" width="2.0" height="0.6" fill="#e06060"/><rect x="8.0" y="36.0" width="1.6" height="0.7" fill="#58b058"/><rect x="12.5" y="36.0" width="1.6" height="0.7" fill="#58b058"/><rect x="17.0" y="36.0" width="1.6" height="0.7" fill="#58b058"/><rect x="21.5" y="36.0" width="1.6" height="0.7" fill="#58b058"/><rect x="26.0" y="36.0" width="1.6" height="0.7" fill="#58b058"/><rect x="30.5" y="36.0" width="1.6" height="0.7" fill="#58b058"/><rect x="35.0" y="36.0" width="1.6" height="0.7" fill="#58b058"/><rect x="39.5" y="36.0" width="1.6" height="0.7" fill="#58b058"/><rect x="44.0" y="36.0" width="1.6" height="0.7" fill="#58b058"/><rect x="48.5" y="36.0" width="1.6" height="0.7" fill="#58b058"/><rect x="53.0" y="36.0" width="1.6" height="0.7" fill="#58b058"/><rect x="57.5" y="36.0" width="1.6" height="0.7" fill="#58b058"/><rect x="62.0" y="36.0" width="1.6" height="0.7" fill="#58b058"/><rect x="66.5" y="36.0" width="1.6" height="0.7" fill="#58b058"/><path d="M8 20h19M28 14h32M61 10h8" stroke="#e23434" stroke-width="1.1" stroke-dasharray="1.6 .7" fill="none"/><path d="M27.5 14v6M60.5 10v4" stroke="#e23434" stroke-width=".6"/><path d="M9 20c1 8 1 10 2 12 1-10 1-20 4-22 3-1 3 1 5 0s3 0 5 3c2 4 2 6 3 5s1-7 2-8 2 8 4 10 2 0 4-1 3 1 5 0 3-2 5-1 2-1 4-1 3 2 5 1 2 3 4 6" stroke="#4fb04f" stroke-width=".75" fill="none"/><rect x="76.0" y="18.0" width="3.0" height="0.6" fill="#4fb04f"/><rect x="80.0" y="17.6" width="14.0" height="0.9" fill="#999"/><rect x="76.0" y="23.0" width="3.0" height="0.6" fill="#e23434"/><rect x="80.0" y="22.6" width="15.0" height="0.9" fill="#e08080"/><rect x="82.0" y="25.0" width="9.0" height="0.9" fill="#e08080"/></g>
<rect x="1204.0" y="642.6" width="3.4" height="15.4" fill="#f6d8e6" opacity=".9" filter="url(#blur1)"/><path d="M1200.1 632.5L1211.3 632.5Q1208.3 635.5 1208.1 641.6L1203.3 641.6Q1203.1 635.5 1200.1 632.5z" fill="#1c1c1c"/><ellipse cx="1205.7" cy="642.0" rx="19.6" ry="2.6" fill="#1a1a1a"/><ellipse cx="1205.7" cy="641.2" rx="15.7" ry="1.2" fill="#555" opacity=".6"/><rect x="1165.7" y="593.5" width="80.0" height="39.5" rx="1" fill="#161616"/><g transform="translate(1168.30 595.30) scale(0.7480 0.8375)"><rect x="0.0" y="0.0" width="100.0" height="40.0" fill="#fdfdfe"/><rect x="0.0" y="0.0" width="100.0" height="1.8" fill="#dfe6f2"/><rect x="1.0" y="0.3" width="2.5" height="1.2" fill="#3a5ab8"/><rect x="95.0" y="0.3" width="3.0" height="1.2" fill="#d04040"/><rect x="0.0" y="1.8" width="22.0" height="38.2" fill="#f2f5fa"/><rect x="5.0" y="7.5" width="15.0" height="2.4" fill="#3c68d8"/><rect x="5.0" y="13.5" width="15.0" height="2.4" fill="#7a9ae8"/><rect x="5.0" y="18.0" width="15.0" height="2.4" fill="#7a9ae8"/><rect x="28.0" y="4.0" width="4.0" height="1.0" fill="#8a8a94"/><rect x="28.0" y="6.0" width="9.0" height="1.0" fill="#8a8a94"/><rect x="28.0" y="8.0" width="6.0" height="1.0" fill="#8a8a94"/><rect x="28.0" y="10.0" width="11.0" height="1.0" fill="#8a8a94"/><rect x="28.0" y="12.0" width="8.0" height="1.0" fill="#8a8a94"/><rect x="26.0" y="14.0" width="18.0" height="0.6" fill="#b0b4c0"/><rect x="26.0" y="16.4" width="25.0" height="0.6" fill="#b0b4c0"/><rect x="26.0" y="18.8" width="23.0" height="0.6" fill="#b0b4c0"/><rect x="26.0" y="21.2" width="21.0" height="0.6" fill="#b0b4c0"/><rect x="26.0" y="23.6" width="19.0" height="0.6" fill="#b0b4c0"/><rect x="26.0" y="26.0" width="26.0" height="0.6" fill="#b0b4c0"/><rect x="26.0" y="28.4" width="24.0" height="0.6" fill="#b0b4c0"/><path d="M26 34l2-1 2 1 2-2 2 2 2-1 2 1 2-2 2 1 2-1 2 2" stroke="#8090c0" stroke-width=".6" fill="none"/><rect x="52.0" y="3.0" width="0.4" height="34.0" fill="#d0d4dc"/><rect x="58.0" y="9.0" width="20.0" height="1.0" fill="#999"/><rect x="58.0" y="13.0" width="4.0" height="1.6" fill="#555"/><rect x="64.0" y="13.0" width="4.0" height="1.6" fill="#555"/><rect x="70.0" y="13.0" width="3.0" height="1.6" fill="#888"/><rect x="57.0" y="19.5" width="40.0" height="0.8" fill="#e05858"/><rect x="57.0" y="21.5" width="30.0" height="0.5" fill="#e8a0a0"/><path d="M57 25l36 1M92 23l3 3-3 2" stroke="#a0a4b0" stroke-width=".5" fill="none"/><path d="M58 35c2-2 3 1 5-1s3-2 5 0 3-3 5-1 3 1 5-2 3 2 5 0 4-3 6-1 4-3 7-4" stroke="#5a70d8" stroke-width=".7" fill="none"/></g>
<rect x="1286.1" y="641.5" width="3.4" height="16.5" fill="#f6d8e6" opacity=".9" filter="url(#blur1)"/><path d="M1282.2 631.7L1293.4 631.7Q1290.4 634.7 1290.2 640.5L1285.4 640.5Q1285.2 634.7 1282.2 631.7z" fill="#1c1c1c"/><ellipse cx="1287.8" cy="640.9" rx="19.6" ry="2.6" fill="#1a1a1a"/><ellipse cx="1287.8" cy="640.1" rx="15.7" ry="1.2" fill="#555" opacity=".6"/><rect x="1247.8" y="592.0" width="80.0" height="40.2" rx="1" fill="#161616"/><g transform="translate(1250.40 593.80) scale(0.7480 0.8550)"><rect x="0.0" y="0.0" width="100.0" height="40.0" fill="#c9c9c9"/><rect x="0.0" y="0.0" width="100.0" height="1.2" fill="#e8e8e8"/><rect x="19.0" y="3.0" width="52.0" height="3.4" fill="#8c8c8c"/><rect x="21.0" y="3.8" width="48.0" height="1.6" fill="#d8d8d8" opacity="0.8"/><rect x="76.0" y="2.6" width="20.0" height="1.2" fill="#d04848"/><rect x="78.0" y="4.6" width="16.0" height="1.0" fill="#d87878"/><rect x="26.0" y="8.0" width="10.0" height="0.8" fill="#9a9a9a"/><rect x="46.0" y="8.0" width="10.0" height="0.8" fill="#9a9a9a"/><rect x="62.0" y="8.0" width="10.0" height="0.8" fill="#9a9a9a"/><rect x="80.0" y="8.0" width="10.0" height="0.8" fill="#9a9a9a"/><path d="M11 15l5 2v6l-5 2zM17 17l3 0 10-3v12l-10-3-3 0z M33 14l4 1v10l-4 1z" fill="#7e7e7e"/><path d="M41 13c6 0 8 3 12 3s8-3 13-3v14c-5 0-9-3-13-3s-6 3-12 3z" fill="#858585"/><path d="M41 13c6 0 8 3 12 3s8-3 13-3v4c-5 0-9 3-13 3s-6-3-12-3z" fill="#a4a4a4"/><rect x="72.0" y="15.0" width="15.0" height="10.0" fill="#909090"/><rect x="74.0" y="16.0" width="2.0" height="8.0" fill="#b4b4b4"/><rect x="79.0" y="16.0" width="2.0" height="8.0" fill="#b4b4b4"/><rect x="84.0" y="16.0" width="2.0" height="8.0" fill="#b4b4b4"/><rect x="8.0" y="19.4" width="84.0" height="0.6" fill="#777"/><rect x="3.0" y="26.0" width="69.0" height="2.2" fill="#1faaa0"/><rect x="5.0" y="29.0" width="3.0" height="1.4" fill="#e8e8e8"/><rect x="5.5" y="31.5" width="1.6" height="4.5" fill="#3a9a78"/><rect x="10.0" y="29.0" width="3.0" height="1.4" fill="#e8e8e8"/><rect x="10.5" y="31.5" width="1.6" height="4.5" fill="#3a9a78"/><rect x="15.0" y="29.0" width="3.0" height="1.4" fill="#e8e8e8"/><rect x="15.5" y="31.5" width="1.6" height="4.5" fill="#3a9a78"/><rect x="20.0" y="29.0" width="3.0" height="1.4" fill="#e8e8e8"/><rect x="20.5" y="31.5" width="1.6" height="4.5" fill="#3a9a78"/><rect x="25.0" y="29.0" width="3.0" height="1.4" fill="#e8e8e8"/><rect x="25.5" y="31.5" width="1.6" height="4.5" fill="#3a9a78"/><rect x="30.0" y="29.0" width="3.0" height="1.4" fill="#e8e8e8"/><rect x="30.5" y="31.5" width="1.6" height="4.5" fill="#3a9a78"/><rect x="35.0" y="29.0" width="3.0" height="1.4" fill="#e8e8e8"/><rect x="35.5" y="31.5" width="1.6" height="4.5" fill="#3a9a78"/><rect x="40.0" y="30.0" width="28.0" height="0.8" fill="#888"/><rect x="44.0" y="33.0" width="20.0" height="0.8" fill="#999"/><rect x="48.0" y="29.0" width="2.0" height="2.0" fill="#555"/><rect x="72.5" y="26.0" width="25.0" height="11.5" fill="#050505"/><rect x="0.0" y="38.2" width="100.0" height="1.8" fill="#b0b0b0"/></g>
<g transform="translate(1140 500) scale(0.19062)"><defs><linearGradient id="brk" x1="0" y1="0" x2="0" y2="1"><stop offset="0" stop-color="#d8442c"/><stop offset="1" stop-color="#b82c1a"/></linearGradient><radialGradient id="flm" cx=".5" cy=".75" r=".6"><stop offset="0" stop-color="#fff2a0"/><stop offset=".45" stop-color="#ffc030"/><stop offset="1" stop-color="#f0541c"/></radialGradient></defs><rect x="843" y="88" width="188" height="148" rx="6" fill="#f0d8d0"/><rect x="845" y="92" width="90" height="31" rx="3" fill="url(#brk)"/><rect x="940" y="92" width="88" height="31" rx="3" fill="url(#brk)"/><rect x="845" y="130" width="42" height="31" rx="3" fill="url(#brk)"/><rect x="892" y="130" width="90" height="31" rx="3" fill="url(#brk)"/><rect x="987" y="130" width="42" height="31" rx="3" fill="url(#brk)"/><rect x="845" y="167" width="90" height="31" rx="3" fill="url(#brk)"/><rect x="940" y="167" width="88" height="31" rx="3" fill="url(#brk)"/><rect x="845" y="204" width="42" height="31" rx="3" fill="url(#brk)"/><rect x="892" y="204" width="90" height="31" rx="3" fill="url(#brk)"/><rect x="987" y="204" width="42" height="31" rx="3" fill="url(#brk)"/><path d="M812 108C825 130 850 140 862 165C872 150 870 140 866 132C890 150 900 185 885 212C872 236 840 242 815 238C780 232 758 205 760 172C761 158 768 148 772 142C775 152 780 160 790 164C785 140 795 120 812 108z" fill="url(#flm)"/></g>
<path d="M293.3 722.8L337.2 722.8" fill="none" stroke="#a3b0cc" stroke-width="2.3" stroke-linejoin="round"/><path d="M293.3 722.8L337.2 722.8" fill="none" stroke="#d3dbea" stroke-width="0.7" stroke-linejoin="round"/><path d="M261.9 740.2L337.2 725.0" fill="none" stroke="#a3b0cc" stroke-width="2.3" stroke-linejoin="round"/><path d="M261.9 740.2L337.2 725.0" fill="none" stroke="#d3dbea" stroke-width="0.7" stroke-linejoin="round"/><path d="M243.0 765.3L337.2 727.6" fill="none" stroke="#a3b0cc" stroke-width="2.3" stroke-linejoin="round"/><path d="M243.0 765.3L337.2 727.6" fill="none" stroke="#d3dbea" stroke-width="0.7" stroke-linejoin="round"/><path d="M354.3 732.1L291.5 810.2L289.7 810.2L289.7 795.0" fill="none" stroke="#a3b0cc" stroke-width="2.3" stroke-linejoin="round"/><path d="M354.3 732.1L291.5 810.2L289.7 810.2L289.7 795.0" fill="none" stroke="#d3dbea" stroke-width="0.7" stroke-linejoin="round"/><path d="M351.0 732.1L290.4 807.0" fill="none" stroke="#a3b0cc" stroke-width="1.8" stroke-linejoin="round"/><path d="M351.0 732.1L290.4 807.0" fill="none" stroke="#d3dbea" stroke-width="0.5" stroke-linejoin="round"/><path d="M335.8 744.7L335.8 756.1" fill="none" stroke="#a3b0cc" stroke-width="2.0" stroke-linejoin="round"/><path d="M335.8 744.7L335.8 756.1" fill="none" stroke="#d3dbea" stroke-width="0.6" stroke-linejoin="round"/><path d="M322.5 759.9L322.5 772.6" fill="none" stroke="#a3b0cc" stroke-width="2.0" stroke-linejoin="round"/><path d="M322.5 759.9L322.5 772.6" fill="none" stroke="#d3dbea" stroke-width="0.6" stroke-linejoin="round"/><path d="M307.1 778.8L307.1 791.8" fill="none" stroke="#a3b0cc" stroke-width="2.0" stroke-linejoin="round"/><path d="M307.1 778.8L307.1 791.8" fill="none" stroke="#d3dbea" stroke-width="0.6" stroke-linejoin="round"/><g transform="translate(281.6 722.8) scale(1.00)"><rect x="8" y="-2" width="5" height="3.4" rx="1" fill="#c87a30"/><ellipse cx="0" cy="0" rx="10.8" ry="7.6" fill="url(#bluR)"/><path d="M-9 3L-6 7.5L7 7.5L10 3z" fill="#1c6a9c"/><ellipse cx="-1" cy="-.3" rx="6.6" ry="5.2" fill="#16303c"/><rect x="-5" y="-3.2" width="7.4" height="5.6" rx="1" fill="#5a7a74"/></g><g transform="translate(249.3 738.5)"><rect x="-5" y="-13" width="9" height="7" rx="2.5" fill="#3a7cc0"/><rect x="-2.5" y="-15" width="4" height="3" fill="#4a8cd0"/><rect x="-1.5" y="-6.5" width="3" height="5" fill="#8a8468"/><path d="M-7 -2L7 -3L9 8L-8 9z" fill="url(#brs)"/><ellipse cx="-10.5" cy="4" rx="3.2" ry="7" fill="#9c9888"/><ellipse cx="-10.5" cy="4" rx="1.6" ry="4.6" fill="#55524a"/><ellipse cx="10.5" cy="2.5" rx="3.2" ry="6.6" fill="#a8a494"/><ellipse cx="11" cy="2.5" rx="1.6" ry="4.2" fill="#5a564c"/></g><g transform="translate(231.4 768.5)"><rect x="-8" y="-12.5" width="16" height="4" rx="1" fill="#7a9a8c"/><rect x="-9" y="-13.5" width="2.4" height="6" fill="#56786a"/><rect x="6.6" y="-13.5" width="2.4" height="6" fill="#56786a"/><path d="M-2 -9L3 -9L18 3L16 7L0 11L-18 5L-17 1z" fill="#5e9c84"/><path d="M0 -5L10 3L-1 6L-10 2z" fill="#f4f6f4"/><path d="M-17 1L0 5L18 3L16 7L0 11L-18 5z" fill="#3e7c64"/><rect x="-4" y="7" width="7" height="4.4" rx="1.5" fill="#2a8ee0"/></g><g><rect x="255.9" y="791.6" width="43.7" height="3" rx="1" fill="#8e8c86"/><rect x="266.9" y="788.6" width="5" height="9" rx="1.5" fill="#7a6e60"/><ellipse cx="249.9" cy="793.1" rx="8" ry="5.4" fill="url(#bluR)"/><ellipse cx="248.4" cy="792.1" rx="4" ry="3" fill="#2c78b8"/></g><g transform="translate(303.7 766.5)"><rect x="-10" y="3" width="20" height="8" rx="1" fill="url(#brs)"/><rect x="-7" y="8" width="14" height="4" fill="#6a6040"/><ellipse cx="0" cy="-3" rx="11.5" ry="7.6" fill="url(#tealR)"/><ellipse cx="-2" cy="-5" rx="6" ry="3.4" fill="#3c7a9c"/><rect x="-3" y="3" width="6" height="3" fill="#28506a"/></g><g transform="translate(320.5 750.5)"><rect x="-4" y="0" width="8" height="8" fill="#d8dcd8"/><rect x="-6.5" y="5" width="3" height="5" fill="#9a9e9a"/><rect x="3.5" y="5" width="3" height="5" fill="#9a9e9a"/><path d="M-8 -9L6 -10L7 -4L2 1L-4 1L-7 -3z" fill="#355c50"/><rect x="-3" y="-7" width="5" height="4" fill="#e8ece8"/><rect x="-9" y="-10" width="5" height="2" fill="#3a3a3a"/></g><g transform="translate(334.5 739.0) rotate(-15)"><rect x="-6" y="-6" width="12" height="12" rx="3" fill="#3f8edc"/><rect x="-4" y="-4.5" width="8" height="5" rx="1.5" fill="#6ab0f0"/><rect x="-5" y="3" width="10" height="3" fill="#2c6cb4"/></g>
<path d="M382.9 722.8L425.1 722.8" fill="none" stroke="#a3b0cc" stroke-width="2.3" stroke-linejoin="round"/><path d="M382.9 722.8L425.1 722.8" fill="none" stroke="#d3dbea" stroke-width="0.7" stroke-linejoin="round"/><path d="M382.9 725.3L449.3 738.4" fill="none" stroke="#a3b0cc" stroke-width="2.3" stroke-linejoin="round"/><path d="M382.9 725.3L449.3 738.4" fill="none" stroke="#d3dbea" stroke-width="0.7" stroke-linejoin="round"/><path d="M382.9 728.2L479.8 767.1" fill="none" stroke="#a3b0cc" stroke-width="2.3" stroke-linejoin="round"/><path d="M382.9 728.2L479.8 767.1" fill="none" stroke="#d3dbea" stroke-width="0.7" stroke-linejoin="round"/><path d="M365.0 732.1L427.8 810.2L427.8 794.0" fill="none" stroke="#a3b0cc" stroke-width="2.3" stroke-linejoin="round"/><path d="M365.0 732.1L427.8 810.2L427.8 794.0" fill="none" stroke="#d3dbea" stroke-width="0.7" stroke-linejoin="round"/><path d="M368.4 732.1L429.0 807.0" fill="none" stroke="#a3b0cc" stroke-width="1.8" stroke-linejoin="round"/><path d="M368.4 732.1L429.0 807.0" fill="none" stroke="#d3dbea" stroke-width="0.5" stroke-linejoin="round"/><path d="M381.1 744.0L381.1 753.1" fill="none" stroke="#a3b0cc" stroke-width="2.0" stroke-linejoin="round"/><path d="M381.1 744.0L381.1 753.1" fill="none" stroke="#d3dbea" stroke-width="0.6" stroke-linejoin="round"/><path d="M388.3 749.0L388.3 762.1" fill="none" stroke="#a3b0cc" stroke-width="2.0" stroke-linejoin="round"/><path d="M388.3 749.0L388.3 762.1" fill="none" stroke="#d3dbea" stroke-width="0.6" stroke-linejoin="round"/><path d="M399.1 764.0L399.1 775.5" fill="none" stroke="#a3b0cc" stroke-width="2.0" stroke-linejoin="round"/><path d="M399.1 764.0L399.1 775.5" fill="none" stroke="#d3dbea" stroke-width="0.6" stroke-linejoin="round"/><path d="M410.7 775.0L410.7 789.9" fill="none" stroke="#a3b0cc" stroke-width="2.0" stroke-linejoin="round"/><path d="M410.7 775.0L410.7 789.9" fill="none" stroke="#d3dbea" stroke-width="0.6" stroke-linejoin="round"/><g transform="translate(430.1 720.5)"><path d="M-5 3L5 3L7 10L-7 10z" fill="#3c5248"/><rect x="-2.5" y="1" width="5" height="5" fill="#54685c"/><ellipse cx="0" cy="-3.5" rx="8" ry="5.8" fill="url(#tealR)"/><ellipse cx="-1.5" cy="-5" rx="4.4" ry="2.6" fill="#4a94c4"/></g><g transform="translate(460.0 741.5) scale(1.00)"><rect x="8" y="-2" width="5" height="3.4" rx="1" fill="#c87a30"/><ellipse cx="0" cy="0" rx="10.8" ry="7.6" fill="url(#bluR)"/><path d="M-9 3L-6 7.5L7 7.5L10 3z" fill="#1c6a9c"/><ellipse cx="-1" cy="-.3" rx="6.6" ry="5.2" fill="#16303c"/><rect x="-5" y="-3.2" width="7.4" height="5.6" rx="1" fill="#5a7a74"/></g><g transform="translate(492.3 765.3)"><rect x="-11" y="-15" width="22" height="14" rx="5" fill="url(#tealR)"/><rect x="-6" y="-13" width="12" height="3" rx="1" fill="#5aa0cc"/><rect x="-3" y="-2" width="6" height="4" fill="#245a80"/><rect x="-9" y="1" width="20" height="13" fill="#2c4c8c"/><ellipse cx="-10.5" cy="7.5" rx="3.4" ry="8" fill="#223c74"/><rect x="-8.6" y="1.5" width="4.4" height="12" fill="#e8a030"/><ellipse cx="10" cy="8" rx="5" ry="8.4" fill="#2a4a90"/><ellipse cx="10.6" cy="8" rx="2.6" ry="5" fill="#1a2c5c"/></g><g transform="translate(381.3 738.8)"><rect x="-2.5" y="-5.8" width="5.0" height="11.5" rx="1" fill="#25a060"/><rect x="-2.5" y="-5.8" width="5.0" height="2.5" rx=".8" fill="#2a2a2a"/><rect x="-1.7" y="-2.9" width="1.2" height="8.0" fill="#fff" opacity=".35"/></g><g transform="translate(388.5 743.8)"><rect x="-2.5" y="-5.8" width="5.0" height="11.5" rx="1" fill="#25a060"/><rect x="-2.5" y="-5.8" width="5.0" height="2.5" rx=".8" fill="#2a2a2a"/><rect x="-1.7" y="-2.9" width="1.2" height="8.0" fill="#fff" opacity=".35"/></g><g transform="translate(399.4 756.3)"><rect x="-4" y="-8" width="8" height="16" rx="3" fill="#49c596"/><rect x="-4" y="-1" width="8" height="1.4" fill="#2e9a70"/><rect x="-2.6" y="-7" width="1.6" height="13" fill="#a8ecd0" opacity=".7"/></g><g transform="translate(412.5 769.8)"><ellipse cx="0" cy="0" rx="10" ry="5.8" fill="#1d4c60"/><ellipse cx="-1" cy="-1.5" rx="6.5" ry="3" fill="#2f6a82"/><rect x="-2" y="-7.5" width="5" height="3" fill="#28566c"/><rect x="8" y="0" width="4" height="2" fill="#889"/></g><g transform="translate(433.7 785.6)"><path d="M-13 -7L4 -10L13 -6L14 5L-6 9L-14 4z" fill="#e6d6a2"/><path d="M-13 -7L4 -10L13 -6L-5 -2z" fill="#f2e8c4"/><rect x="-8" y="-4.5" width="16" height="2.4" fill="#5a5648" transform="rotate(-6)"/><path d="M-14 4L-6 9L14 5L14 7L-6 11L-14 6z" fill="#a89a68"/><circle cx="10.5" cy="6" r="4.2" fill="#b01c2c"/><circle cx="10.5" cy="6" r="2.6" fill="#f4e8e8"/><path d="M8 6h5M10.5 3.5v5" stroke="#b01c2c" stroke-width="1"/></g>
<g transform="translate(359.3 732.3)"><rect x="-11.2" y="-69" width="2" height="6" fill="#b8b8b8"/><rect x="8.2" y="-69" width="2" height="6" fill="#b8b8b8"/><rect x="-30.5" y="-64.5" width="61" height="26" rx="1.5" fill="url(#hubg)"/><rect x="-30.5" y="-42" width="61" height="3.5" fill="#8a8a8a" opacity=".7"/><rect x="-27" y="-57" width="2" height="2.6" fill="#333"/><rect x="-27.5" y="-50" width="1.3" height="8" fill="#777"/><rect x="25" y="-60" width="4" height="16" fill="#9a9a9a" opacity=".8"/><path d="M-3 -64L3 -64L5 -40L-5 -40z" fill="#6e6e6e" opacity=".8"/><rect x="-22.5" y="-38.5" width="45.5" height="38.5" fill="url(#hubg)"/><rect x="-22.5" y="-20" width="45.5" height="1.6" fill="#9a9a9a"/><rect x="-16" y="-35" width="3" height="12" fill="#c87878" opacity=".7"/><rect x="-16.5" y="-15" width="2.2" height="10" fill="#8a6a3a"/><rect x="5.5" y="-13" width="2.6" height="6" fill="#222"/><rect x="13" y="-36" width="3" height="14" fill="#777" opacity=".8"/><rect x="18" y="-36" width="2.4" height="30" fill="#999" opacity=".8"/><rect x="-22.5" y="-1.5" width="45.5" height="1.5" fill="#777" opacity=".6"/></g>
<path d="M653.3 722.8L697.2 722.8" fill="none" stroke="#a3b0cc" stroke-width="2.3" stroke-linejoin="round"/><path d="M653.3 722.8L697.2 722.8" fill="none" stroke="#d3dbea" stroke-width="0.7" stroke-linejoin="round"/><path d="M621.9 740.2L697.2 725.0" fill="none" stroke="#a3b0cc" stroke-width="2.3" stroke-linejoin="round"/><path d="M621.9 740.2L697.2 725.0" fill="none" stroke="#d3dbea" stroke-width="0.7" stroke-linejoin="round"/><path d="M603.0 765.3L697.2 727.6" fill="none" stroke="#a3b0cc" stroke-width="2.3" stroke-linejoin="round"/><path d="M603.0 765.3L697.2 727.6" fill="none" stroke="#d3dbea" stroke-width="0.7" stroke-linejoin="round"/><path d="M714.3 732.1L651.5 810.2L649.7 810.2L649.7 795.0" fill="none" stroke="#a3b0cc" stroke-width="2.3" stroke-linejoin="round"/><path d="M714.3 732.1L651.5 810.2L649.7 810.2L649.7 795.0" fill="none" stroke="#d3dbea" stroke-width="0.7" stroke-linejoin="round"/><path d="M711.0 732.1L650.4 807.0" fill="none" stroke="#a3b0cc" stroke-width="1.8" stroke-linejoin="round"/><path d="M711.0 732.1L650.4 807.0" fill="none" stroke="#d3dbea" stroke-width="0.5" stroke-linejoin="round"/><path d="M695.8 744.7L695.8 756.1" fill="none" stroke="#a3b0cc" stroke-width="2.0" stroke-linejoin="round"/><path d="M695.8 744.7L695.8 756.1" fill="none" stroke="#d3dbea" stroke-width="0.6" stroke-linejoin="round"/><path d="M682.5 759.9L682.5 772.6" fill="none" stroke="#a3b0cc" stroke-width="2.0" stroke-linejoin="round"/><path d="M682.5 759.9L682.5 772.6" fill="none" stroke="#d3dbea" stroke-width="0.6" stroke-linejoin="round"/><path d="M667.1 778.8L667.1 791.8" fill="none" stroke="#a3b0cc" stroke-width="2.0" stroke-linejoin="round"/><path d="M667.1 778.8L667.1 791.8" fill="none" stroke="#d3dbea" stroke-width="0.6" stroke-linejoin="round"/><g transform="translate(641.6 722.8) scale(1.00)"><rect x="8" y="-2" width="5" height="3.4" rx="1" fill="#c87a30"/><ellipse cx="0" cy="0" rx="10.8" ry="7.6" fill="url(#bluR)"/><path d="M-9 3L-6 7.5L7 7.5L10 3z" fill="#1c6a9c"/><ellipse cx="-1" cy="-.3" rx="6.6" ry="5.2" fill="#16303c"/><rect x="-5" y="-3.2" width="7.4" height="5.6" rx="1" fill="#5a7a74"/></g><g transform="translate(609.3 738.5)"><rect x="-5" y="-13" width="9" height="7" rx="2.5" fill="#3a7cc0"/><rect x="-2.5" y="-15" width="4" height="3" fill="#4a8cd0"/><rect x="-1.5" y="-6.5" width="3" height="5" fill="#8a8468"/><path d="M-7 -2L7 -3L9 8L-8 9z" fill="url(#brs)"/><ellipse cx="-10.5" cy="4" rx="3.2" ry="7" fill="#9c9888"/><ellipse cx="-10.5" cy="4" rx="1.6" ry="4.6" fill="#55524a"/><ellipse cx="10.5" cy="2.5" rx="3.2" ry="6.6" fill="#a8a494"/><ellipse cx="11" cy="2.5" rx="1.6" ry="4.2" fill="#5a564c"/></g><g transform="translate(591.4 768.5)"><rect x="-8" y="-12.5" width="16" height="4" rx="1" fill="#7a9a8c"/><rect x="-9" y="-13.5" width="2.4" height="6" fill="#56786a"/><rect x="6.6" y="-13.5" width="2.4" height="6" fill="#56786a"/><path d="M-2 -9L3 -9L18 3L16 7L0 11L-18 5L-17 1z" fill="#5e9c84"/><path d="M0 -5L10 3L-1 6L-10 2z" fill="#f4f6f4"/><path d="M-17 1L0 5L18 3L16 7L0 11L-18 5z" fill="#3e7c64"/><rect x="-4" y="7" width="7" height="4.4" rx="1.5" fill="#2a8ee0"/></g><g><rect x="615.9" y="791.6" width="43.7" height="3" rx="1" fill="#8e8c86"/><rect x="626.9" y="788.6" width="5" height="9" rx="1.5" fill="#7a6e60"/><ellipse cx="609.9" cy="793.1" rx="8" ry="5.4" fill="url(#bluR)"/><ellipse cx="608.4" cy="792.1" rx="4" ry="3" fill="#2c78b8"/></g><g transform="translate(663.7 766.5)"><rect x="-10" y="3" width="20" height="8" rx="1" fill="url(#brs)"/><rect x="-7" y="8" width="14" height="4" fill="#6a6040"/><ellipse cx="0" cy="-3" rx="11.5" ry="7.6" fill="url(#tealR)"/><ellipse cx="-2" cy="-5" rx="6" ry="3.4" fill="#3c7a9c"/><rect x="-3" y="3" width="6" height="3" fill="#28506a"/></g><g transform="translate(680.5 750.5)"><rect x="-4" y="0" width="8" height="8" fill="#d8dcd8"/><rect x="-6.5" y="5" width="3" height="5" fill="#9a9e9a"/><rect x="3.5" y="5" width="3" height="5" fill="#9a9e9a"/><path d="M-8 -9L6 -10L7 -4L2 1L-4 1L-7 -3z" fill="#355c50"/><rect x="-3" y="-7" width="5" height="4" fill="#e8ece8"/><rect x="-9" y="-10" width="5" height="2" fill="#3a3a3a"/></g><g transform="translate(694.5 739.0) rotate(-15)"><rect x="-6" y="-6" width="12" height="12" rx="3" fill="#3f8edc"/><rect x="-4" y="-4.5" width="8" height="5" rx="1.5" fill="#6ab0f0"/><rect x="-5" y="3" width="10" height="3" fill="#2c6cb4"/></g>
<path d="M742.9 722.8L785.1 722.8" fill="none" stroke="#a3b0cc" stroke-width="2.3" stroke-linejoin="round"/><path d="M742.9 722.8L785.1 722.8" fill="none" stroke="#d3dbea" stroke-width="0.7" stroke-linejoin="round"/><path d="M742.9 725.3L809.3 738.4" fill="none" stroke="#a3b0cc" stroke-width="2.3" stroke-linejoin="round"/><path d="M742.9 725.3L809.3 738.4" fill="none" stroke="#d3dbea" stroke-width="0.7" stroke-linejoin="round"/><path d="M742.9 728.2L839.8 767.1" fill="none" stroke="#a3b0cc" stroke-width="2.3" stroke-linejoin="round"/><path d="M742.9 728.2L839.8 767.1" fill="none" stroke="#d3dbea" stroke-width="0.7" stroke-linejoin="round"/><path d="M725.0 732.1L787.8 810.2L787.8 794.0" fill="none" stroke="#a3b0cc" stroke-width="2.3" stroke-linejoin="round"/><path d="M725.0 732.1L787.8 810.2L787.8 794.0" fill="none" stroke="#d3dbea" stroke-width="0.7" stroke-linejoin="round"/><path d="M728.4 732.1L789.0 807.0" fill="none" stroke="#a3b0cc" stroke-width="1.8" stroke-linejoin="round"/><path d="M728.4 732.1L789.0 807.0" fill="none" stroke="#d3dbea" stroke-width="0.5" stroke-linejoin="round"/><path d="M741.1 744.0L741.1 753.1" fill="none" stroke="#a3b0cc" stroke-width="2.0" stroke-linejoin="round"/><path d="M741.1 744.0L741.1 753.1" fill="none" stroke="#d3dbea" stroke-width="0.6" stroke-linejoin="round"/><path d="M748.3 749.0L748.3 762.1" fill="none" stroke="#a3b0cc" stroke-width="2.0" stroke-linejoin="round"/><path d="M748.3 749.0L748.3 762.1" fill="none" stroke="#d3dbea" stroke-width="0.6" stroke-linejoin="round"/><path d="M759.1 764.0L759.1 775.5" fill="none" stroke="#a3b0cc" stroke-width="2.0" stroke-linejoin="round"/><path d="M759.1 764.0L759.1 775.5" fill="none" stroke="#d3dbea" stroke-width="0.6" stroke-linejoin="round"/><path d="M770.7 775.0L770.7 789.9" fill="none" stroke="#a3b0cc" stroke-width="2.0" stroke-linejoin="round"/><path d="M770.7 775.0L770.7 789.9" fill="none" stroke="#d3dbea" stroke-width="0.6" stroke-linejoin="round"/><g transform="translate(790.1 720.5)"><path d="M-5 3L5 3L7 10L-7 10z" fill="#3c5248"/><rect x="-2.5" y="1" width="5" height="5" fill="#54685c"/><ellipse cx="0" cy="-3.5" rx="8" ry="5.8" fill="url(#tealR)"/><ellipse cx="-1.5" cy="-5" rx="4.4" ry="2.6" fill="#4a94c4"/></g><g transform="translate(820.0 741.5) scale(1.00)"><rect x="8" y="-2" width="5" height="3.4" rx="1" fill="#c87a30"/><ellipse cx="0" cy="0" rx="10.8" ry="7.6" fill="url(#bluR)"/><path d="M-9 3L-6 7.5L7 7.5L10 3z" fill="#1c6a9c"/><ellipse cx="-1" cy="-.3" rx="6.6" ry="5.2" fill="#16303c"/><rect x="-5" y="-3.2" width="7.4" height="5.6" rx="1" fill="#5a7a74"/></g><g transform="translate(852.3 765.3)"><rect x="-11" y="-15" width="22" height="14" rx="5" fill="url(#tealR)"/><rect x="-6" y="-13" width="12" height="3" rx="1" fill="#5aa0cc"/><rect x="-3" y="-2" width="6" height="4" fill="#245a80"/><rect x="-9" y="1" width="20" height="13" fill="#2c4c8c"/><ellipse cx="-10.5" cy="7.5" rx="3.4" ry="8" fill="#223c74"/><rect x="-8.6" y="1.5" width="4.4" height="12" fill="#e8a030"/><ellipse cx="10" cy="8" rx="5" ry="8.4" fill="#2a4a90"/><ellipse cx="10.6" cy="8" rx="2.6" ry="5" fill="#1a2c5c"/></g><g transform="translate(741.3 738.8)"><rect x="-2.5" y="-5.8" width="5.0" height="11.5" rx="1" fill="#25a060"/><rect x="-2.5" y="-5.8" width="5.0" height="2.5" rx=".8" fill="#2a2a2a"/><rect x="-1.7" y="-2.9" width="1.2" height="8.0" fill="#fff" opacity=".35"/></g><g transform="translate(748.5 743.8)"><rect x="-2.5" y="-5.8" width="5.0" height="11.5" rx="1" fill="#25a060"/><rect x="-2.5" y="-5.8" width="5.0" height="2.5" rx=".8" fill="#2a2a2a"/><rect x="-1.7" y="-2.9" width="1.2" height="8.0" fill="#fff" opacity=".35"/></g><g transform="translate(759.4 756.3)"><rect x="-4" y="-8" width="8" height="16" rx="3" fill="#49c596"/><rect x="-4" y="-1" width="8" height="1.4" fill="#2e9a70"/><rect x="-2.6" y="-7" width="1.6" height="13" fill="#a8ecd0" opacity=".7"/></g><g transform="translate(772.5 769.8)"><ellipse cx="0" cy="0" rx="10" ry="5.8" fill="#1d4c60"/><ellipse cx="-1" cy="-1.5" rx="6.5" ry="3" fill="#2f6a82"/><rect x="-2" y="-7.5" width="5" height="3" fill="#28566c"/><rect x="8" y="0" width="4" height="2" fill="#889"/></g><g transform="translate(793.7 785.6)"><path d="M-13 -7L4 -10L13 -6L14 5L-6 9L-14 4z" fill="#e6d6a2"/><path d="M-13 -7L4 -10L13 -6L-5 -2z" fill="#f2e8c4"/><rect x="-8" y="-4.5" width="16" height="2.4" fill="#5a5648" transform="rotate(-6)"/><path d="M-14 4L-6 9L14 5L14 7L-6 11L-14 6z" fill="#a89a68"/><circle cx="10.5" cy="6" r="4.2" fill="#b01c2c"/><circle cx="10.5" cy="6" r="2.6" fill="#f4e8e8"/><path d="M8 6h5M10.5 3.5v5" stroke="#b01c2c" stroke-width="1"/></g>
<g transform="translate(719.3 732.3)"><rect x="-11.2" y="-69" width="2" height="6" fill="#b8b8b8"/><rect x="8.2" y="-69" width="2" height="6" fill="#b8b8b8"/><rect x="-30.5" y="-64.5" width="61" height="26" rx="1.5" fill="url(#hubg)"/><rect x="-30.5" y="-42" width="61" height="3.5" fill="#8a8a8a" opacity=".7"/><rect x="-27" y="-57" width="2" height="2.6" fill="#333"/><rect x="-27.5" y="-50" width="1.3" height="8" fill="#777"/><rect x="25" y="-60" width="4" height="16" fill="#9a9a9a" opacity=".8"/><path d="M-3 -64L3 -64L5 -40L-5 -40z" fill="#6e6e6e" opacity=".8"/><rect x="-22.5" y="-38.5" width="45.5" height="38.5" fill="url(#hubg)"/><rect x="-22.5" y="-20" width="45.5" height="1.6" fill="#9a9a9a"/><rect x="-16" y="-35" width="3" height="12" fill="#c87878" opacity=".7"/><rect x="-16.5" y="-15" width="2.2" height="10" fill="#8a6a3a"/><rect x="5.5" y="-13" width="2.6" height="6" fill="#222"/><rect x="13" y="-36" width="3" height="14" fill="#777" opacity=".8"/><rect x="18" y="-36" width="2.4" height="30" fill="#999" opacity=".8"/><rect x="-22.5" y="-1.5" width="45.5" height="1.5" fill="#777" opacity=".6"/></g>
<path d="M1162.7 728.0L1205.1 728.0" fill="none" stroke="#a3b0cc" stroke-width="2.3" stroke-linejoin="round"/><path d="M1162.7 728.0L1205.1 728.0" fill="none" stroke="#d3dbea" stroke-width="0.7" stroke-linejoin="round"/><path d="M1131.4 744.8L1205.1 730.7" fill="none" stroke="#a3b0cc" stroke-width="2.3" stroke-linejoin="round"/><path d="M1131.4 744.8L1205.1 730.7" fill="none" stroke="#d3dbea" stroke-width="0.7" stroke-linejoin="round"/><path d="M1136.1 781.0L1136.1 760.9L1205.1 733.7" fill="none" stroke="#a3b0cc" stroke-width="2.3" stroke-linejoin="round"/><path d="M1136.1 781.0L1136.1 760.9L1205.1 733.7" fill="none" stroke="#d3dbea" stroke-width="0.7" stroke-linejoin="round"/><path d="M1179.9 786.1L1222.2 737.0" fill="none" stroke="#a3b0cc" stroke-width="2.3" stroke-linejoin="round"/><path d="M1179.9 786.1L1222.2 737.0" fill="none" stroke="#d3dbea" stroke-width="0.7" stroke-linejoin="round"/><path d="M1138.5 806.3L1158.0 806.3" fill="none" stroke="#a3b0cc" stroke-width="2.3" stroke-linejoin="round"/><path d="M1138.5 806.3L1158.0 806.3" fill="none" stroke="#d3dbea" stroke-width="0.7" stroke-linejoin="round"/><g transform="translate(1150.6 728.0) scale(1.00)"><rect x="8" y="-2" width="5" height="3.4" rx="1" fill="#c87a30"/><ellipse cx="0" cy="0" rx="10.8" ry="7.6" fill="url(#bluR)"/><path d="M-9 3L-6 7.5L7 7.5L10 3z" fill="#1c6a9c"/><ellipse cx="-1" cy="-.3" rx="6.6" ry="5.2" fill="#16303c"/><rect x="-5" y="-3.2" width="7.4" height="5.6" rx="1" fill="#5a7a74"/></g><g transform="translate(1118.3 744.5)"><rect x="-5" y="-13" width="9" height="7" rx="2.5" fill="#3a7cc0"/><rect x="-2.5" y="-15" width="4" height="3" fill="#4a8cd0"/><rect x="-1.5" y="-6.5" width="3" height="5" fill="#8a8468"/><path d="M-7 -2L7 -3L9 8L-8 9z" fill="url(#brs)"/><ellipse cx="-10.5" cy="4" rx="3.2" ry="7" fill="#9c9888"/><ellipse cx="-10.5" cy="4" rx="1.6" ry="4.6" fill="#55524a"/><ellipse cx="10.5" cy="2.5" rx="3.2" ry="6.6" fill="#a8a494"/><ellipse cx="11" cy="2.5" rx="1.6" ry="4.2" fill="#5a564c"/></g><path d="M1096 770.5L1120 771.5L1126 773.5L1133.5 774.5L1133.5 780.5L1126 781.5L1120 783.5L1096 784.2z" fill="#f6b81a"/><rect x="1088" y="771" width="9" height="13" rx="3" fill="#8a8678"/><rect x="1088" y="774" width="4" height="7" rx="2" fill="#3a3a36"/><path d="M1098 772.5L1120 773.5" stroke="#fbd870" stroke-width="1.5"/><path d="M1158.3 779L1169 778L1172 781L1172 786L1176 786.5L1179.9 790L1179.9 814L1170 816.4L1158.3 815z" fill="#58c26e"/><path d="M1170 786L1176 786.5L1179.9 790L1179.9 814L1170 816.4z" fill="#44aa5a"/><rect x="1172.5" y="793" width="4.6" height="15" fill="#e8f0e8"/><rect x="1166" y="780" width="5" height="3" fill="#2a6a38"/><rect x="1172" y="788" width="5" height="3" fill="#2a6a38"/><rect x="1166" y="810" width="5" height="3" fill="#2a6a38"/><rect x="1098.2" y="804.6" width="12" height="4.6" rx="1" fill="#7c786c"/><rect x="1108" y="803.3" width="4" height="7" fill="#a8a498"/><rect x="1112" y="805.4" width="24.5" height="2.4" fill="#b4b0a4"/>
<path d="M1252.1 728.1L1294.3 728.1" fill="none" stroke="#a3b0cc" stroke-width="2.3" stroke-linejoin="round"/><path d="M1252.1 728.1L1294.3 728.1" fill="none" stroke="#d3dbea" stroke-width="0.7" stroke-linejoin="round"/><path d="M1252.1 730.6L1318.5 743.7" fill="none" stroke="#a3b0cc" stroke-width="2.3" stroke-linejoin="round"/><path d="M1252.1 730.6L1318.5 743.7" fill="none" stroke="#d3dbea" stroke-width="0.7" stroke-linejoin="round"/><path d="M1252.1 733.5L1349.0 772.4" fill="none" stroke="#a3b0cc" stroke-width="2.3" stroke-linejoin="round"/><path d="M1252.1 733.5L1349.0 772.4" fill="none" stroke="#d3dbea" stroke-width="0.7" stroke-linejoin="round"/><path d="M1234.2 737.4L1297.0 815.5L1297.0 799.3" fill="none" stroke="#a3b0cc" stroke-width="2.3" stroke-linejoin="round"/><path d="M1234.2 737.4L1297.0 815.5L1297.0 799.3" fill="none" stroke="#d3dbea" stroke-width="0.7" stroke-linejoin="round"/><path d="M1237.6 737.4L1298.2 812.3" fill="none" stroke="#a3b0cc" stroke-width="1.8" stroke-linejoin="round"/><path d="M1237.6 737.4L1298.2 812.3" fill="none" stroke="#d3dbea" stroke-width="0.5" stroke-linejoin="round"/><path d="M1250.3 749.3L1250.3 758.4" fill="none" stroke="#a3b0cc" stroke-width="2.0" stroke-linejoin="round"/><path d="M1250.3 749.3L1250.3 758.4" fill="none" stroke="#d3dbea" stroke-width="0.6" stroke-linejoin="round"/><path d="M1257.5 754.3L1257.5 767.4" fill="none" stroke="#a3b0cc" stroke-width="2.0" stroke-linejoin="round"/><path d="M1257.5 754.3L1257.5 767.4" fill="none" stroke="#d3dbea" stroke-width="0.6" stroke-linejoin="round"/><path d="M1268.3 769.3L1268.3 780.8" fill="none" stroke="#a3b0cc" stroke-width="2.0" stroke-linejoin="round"/><path d="M1268.3 769.3L1268.3 780.8" fill="none" stroke="#d3dbea" stroke-width="0.6" stroke-linejoin="round"/><path d="M1279.9 780.3L1279.9 795.2" fill="none" stroke="#a3b0cc" stroke-width="2.0" stroke-linejoin="round"/><path d="M1279.9 780.3L1279.9 795.2" fill="none" stroke="#d3dbea" stroke-width="0.6" stroke-linejoin="round"/><g transform="translate(1299.3 725.8)"><path d="M-5 3L5 3L7 10L-7 10z" fill="#3c5248"/><rect x="-2.5" y="1" width="5" height="5" fill="#54685c"/><ellipse cx="0" cy="-3.5" rx="8" ry="5.8" fill="url(#tealR)"/><ellipse cx="-1.5" cy="-5" rx="4.4" ry="2.6" fill="#4a94c4"/></g><g transform="translate(1329.2 746.8) scale(1.00)"><rect x="8" y="-2" width="5" height="3.4" rx="1" fill="#c87a30"/><ellipse cx="0" cy="0" rx="10.8" ry="7.6" fill="url(#bluR)"/><path d="M-9 3L-6 7.5L7 7.5L10 3z" fill="#1c6a9c"/><ellipse cx="-1" cy="-.3" rx="6.6" ry="5.2" fill="#16303c"/><rect x="-5" y="-3.2" width="7.4" height="5.6" rx="1" fill="#5a7a74"/></g><g transform="translate(1361.5 770.6)"><rect x="-11" y="-15" width="22" height="14" rx="5" fill="url(#tealR)"/><rect x="-6" y="-13" width="12" height="3" rx="1" fill="#5aa0cc"/><rect x="-3" y="-2" width="6" height="4" fill="#245a80"/><rect x="-9" y="1" width="20" height="13" fill="#2c4c8c"/><ellipse cx="-10.5" cy="7.5" rx="3.4" ry="8" fill="#223c74"/><rect x="-8.6" y="1.5" width="4.4" height="12" fill="#e8a030"/><ellipse cx="10" cy="8" rx="5" ry="8.4" fill="#2a4a90"/><ellipse cx="10.6" cy="8" rx="2.6" ry="5" fill="#1a2c5c"/></g><g transform="translate(1250.5 744.1)"><rect x="-2.5" y="-5.8" width="5.0" height="11.5" rx="1" fill="#25a060"/><rect x="-2.5" y="-5.8" width="5.0" height="2.5" rx=".8" fill="#2a2a2a"/><rect x="-1.7" y="-2.9" width="1.2" height="8.0" fill="#fff" opacity=".35"/></g><g transform="translate(1257.7 749.1)"><rect x="-2.5" y="-5.8" width="5.0" height="11.5" rx="1" fill="#25a060"/><rect x="-2.5" y="-5.8" width="5.0" height="2.5" rx=".8" fill="#2a2a2a"/><rect x="-1.7" y="-2.9" width="1.2" height="8.0" fill="#fff" opacity=".35"/></g><g transform="translate(1268.6 761.6)"><rect x="-4" y="-8" width="8" height="16" rx="3" fill="#49c596"/><rect x="-4" y="-1" width="8" height="1.4" fill="#2e9a70"/><rect x="-2.6" y="-7" width="1.6" height="13" fill="#a8ecd0" opacity=".7"/></g><g transform="translate(1281.7 775.1)"><ellipse cx="0" cy="0" rx="10" ry="5.8" fill="#1d4c60"/><ellipse cx="-1" cy="-1.5" rx="6.5" ry="3" fill="#2f6a82"/><rect x="-2" y="-7.5" width="5" height="3" fill="#28566c"/><rect x="8" y="0" width="4" height="2" fill="#889"/></g><g transform="translate(1302.9 790.9)"><path d="M-13 -7L4 -10L13 -6L14 5L-6 9L-14 4z" fill="#e6d6a2"/><path d="M-13 -7L4 -10L13 -6L-5 -2z" fill="#f2e8c4"/><rect x="-8" y="-4.5" width="16" height="2.4" fill="#5a5648" transform="rotate(-6)"/><path d="M-14 4L-6 9L14 5L14 7L-6 11L-14 6z" fill="#a89a68"/><circle cx="10.5" cy="6" r="4.2" fill="#b01c2c"/><circle cx="10.5" cy="6" r="2.6" fill="#f4e8e8"/><path d="M8 6h5M10.5 3.5v5" stroke="#b01c2c" stroke-width="1"/></g>
<g transform="translate(1228.6 737.0)"><rect x="-11.2" y="-69" width="2" height="6" fill="#b8b8b8"/><rect x="8.2" y="-69" width="2" height="6" fill="#b8b8b8"/><rect x="-30.5" y="-64.5" width="61" height="26" rx="1.5" fill="url(#hubg)"/><rect x="-30.5" y="-42" width="61" height="3.5" fill="#8a8a8a" opacity=".7"/><rect x="-27" y="-57" width="2" height="2.6" fill="#333"/><rect x="-27.5" y="-50" width="1.3" height="8" fill="#777"/><rect x="25" y="-60" width="4" height="16" fill="#9a9a9a" opacity=".8"/><path d="M-3 -64L3 -64L5 -40L-5 -40z" fill="#6e6e6e" opacity=".8"/><rect x="-22.5" y="-38.5" width="45.5" height="38.5" fill="url(#hubg)"/><rect x="-22.5" y="-20" width="45.5" height="1.6" fill="#9a9a9a"/><rect x="-16" y="-35" width="3" height="12" fill="#c87878" opacity=".7"/><rect x="-16.5" y="-15" width="2.2" height="10" fill="#8a6a3a"/><rect x="5.5" y="-13" width="2.6" height="6" fill="#222"/><rect x="13" y="-36" width="3" height="14" fill="#777" opacity=".8"/><rect x="18" y="-36" width="2.4" height="30" fill="#999" opacity=".8"/><rect x="-22.5" y="-1.5" width="45.5" height="1.5" fill="#777" opacity=".6"/></g>
<path d="M950.6 662.5V675" stroke="#1f9c22" stroke-width="2"/><path d="M947 712.8L928.6 741.3M966.3 711L1031.7 735.7M930.9 760.4L963.4 786.1M984.7 787.3L1030.6 787.3L1018.3 736.8" fill="none" stroke="#1f9c22" stroke-width="1.7"/><rect x="958.2" y="667.3" width="3.4" height="10" rx="1.4" fill="#33373c"/><rect x="929.7" y="674" width="38.2" height="37.4" rx="2.5" fill="#6b90b6"/><rect x="929.7" y="674" width="38.2" height="4" rx="2" fill="#86a8c8"/><rect x="963.5" y="676" width="4.4" height="35" fill="#557a9e"/><rect x="928.5" y="680" width="2" height="5" fill="#557a9e"/><rect x="928.5" y="692" width="2" height="5" fill="#557a9e"/><rect x="931.5" y="701" width="32" height="5" fill="#bcc8d4"/><rect x="933" y="702.6" width="20" height="1.6" fill="#6a7a8a"/><rect x="929.7" y="707.5" width="38.2" height="3.9" rx="1.5" fill="#4f7292"/><g><rect x="931.9" y="727.9" width="2.8" height="18.1" rx="1.2" fill="#3a3e44"/><g transform="translate(924.1 751.4) scale(1.00)"><path d="M-3 8L3 8L1.5 14L-1.5 14z" fill="#a8a8a0"/><rect x="-13" y="-9" width="27" height="18" rx="7" fill="#7fa9dc"/><rect x="4" y="-10" width="10" height="17" rx="4" fill="#9cc0ea"/><ellipse cx="-4" cy="0" rx="7" ry="7.4" fill="#9cc0ea"/><ellipse cx="-4" cy="0" rx="4.8" ry="5.2" fill="#a4b4a0"/></g></g><path d="M963 778C956 784 953 790 951 796" fill="none" stroke="#9a9a9a" stroke-width="1"/><ellipse cx="954" cy="797" rx="12" ry="2.6" fill="none" stroke="#2a2a2a" stroke-width="1.8"/><path d="M958 797.5L966 799" stroke="#2a9a3a" stroke-width="1.6"/><g><rect x="980.6" y="762.0" width="2.8" height="15.0" rx="1.2" fill="#3a3e44"/><g transform="translate(974.6 781.7) scale(0.82)"><path d="M-3 8L3 8L1.5 14L-1.5 14z" fill="#a8a8a0"/><rect x="-13" y="-9" width="27" height="18" rx="7" fill="#3e88c6"/><rect x="4" y="-10" width="10" height="17" rx="4" fill="#5aa0d8"/><ellipse cx="-4" cy="0" rx="7" ry="7.4" fill="#5aa0d8"/><ellipse cx="-4" cy="0" rx="4.8" ry="5.2" fill="#2c4a40"/></g></g><rect x="1013" y="729" width="20" height="17" rx="2" fill="url(#slv)"/><rect x="1012.5" y="735" width="4" height="12" fill="#b8b0a8"/><rect x="1026" y="733" width="10" height="7" fill="#c8c4bc"/><ellipse cx="1044.8" cy="740.7" rx="9.2" ry="15" fill="#cfcfcf"/><ellipse cx="1046.2" cy="740.7" rx="6.4" ry="12.4" fill="#e8e8e8"/><ellipse cx="1046.8" cy="740.7" rx="3.4" ry="8.4" fill="#b4b4b4"/><g><rect x="1027.3" y="697.6" width="2.8" height="16.4" rx="1.2" fill="#3a3e44"/><g transform="translate(1020.5 717.8) scale(0.92)"><path d="M-3 8L3 8L1.5 14L-1.5 14z" fill="#a8a8a0"/><rect x="-13" y="-9" width="27" height="18" rx="7" fill="#5486d0"/><rect x="4" y="-10" width="10" height="17" rx="4" fill="#78a4e0"/><ellipse cx="-4" cy="0" rx="7" ry="7.4" fill="#78a4e0"/><ellipse cx="-4" cy="0" rx="4.8" ry="5.2" fill="#b4c4b0"/></g></g><path d="M1018.3 736.8L1030.6 787.3" stroke="#1f9c22" stroke-width="1.7"/><g><rect x="1039.6" y="768.0" width="2.8" height="11.0" rx="1.2" fill="#3a3e44"/><g transform="translate(1047.4 783.5) scale(0.88)"><path d="M-3 8L3 8L1.5 14L-1.5 14z" fill="#a8a8a0"/><rect x="-13" y="-9" width="27" height="18" rx="7" fill="#3a68c6"/><rect x="4" y="-10" width="10" height="17" rx="4" fill="#4a7ad6"/><ellipse cx="-4" cy="0" rx="7" ry="7.4" fill="#4a7ad6"/><ellipse cx="-4" cy="0" rx="4.8" ry="5.2" fill="#7a9ab0"/></g></g>
<g transform="translate(285 800) scale(0.18904)"><circle cx="97" cy="132" r="27" fill="#b8b0ac" stroke="#8a8480" stroke-width="3"/><path d="M100 55L258 55L232 97L152 97L152 112L214 112L196 150L152 150L152 195L100 195z" fill="#e22222"/><path d="M75 120H205M72 131H200M75 142H195" stroke="#fff" stroke-width="4"/><rect x="206" y="146" width="49" height="49" fill="#fff" stroke="#e22222" stroke-width="5"/><path d="M213 168L228 186L252 142" fill="none" stroke="#111" stroke-width="6"/><text x="177" y="238" font-family="Liberation Sans, sans-serif" font-weight="bold" font-size="21" fill="#d83030" text-anchor="middle" textLength="158">FOUNDATION</text><text x="348" y="162" font-family="Liberation Sans, sans-serif" font-weight="bold" font-size="68" fill="#e0222e" stroke="#e0222e" stroke-width="7" textLength="294" lengthAdjust="spacingAndGlyphs">HART</text><path d="M645 137H812" stroke="#e8909a" stroke-width="2"/><path d="M648 137C660 108 675 108 690 137S720 166 735 137S765 108 780 137S800 158 808 146" fill="none" stroke="#e0404c" stroke-width="3"/><text x="1083" y="167" font-family="Liberation Sans, sans-serif" font-style="italic" font-size="70" fill="#111" textLength="284" lengthAdjust="spacingAndGlyphs">Device</text><text x="1366" y="167" font-family="Liberation Sans, sans-serif" font-style="italic" font-weight="bold" font-size="70" fill="#111" textLength="166" lengthAdjust="spacingAndGlyphs">Net.</text></g><g transform="translate(655 800) scale(0.10082)"><defs><linearGradient id="pfb" x1="0" y1="0" x2="0" y2="1"><stop offset="0" stop-color="#cfe0f6"/><stop offset="1" stop-color="#6394da"/></linearGradient></defs><path d="M297 145H472L450 215H275z" fill="#2a69d2"/><text x="375" y="206" font-family="Liberation Sans, sans-serif" font-weight="bold" font-style="italic" font-size="74" fill="#fff" text-anchor="middle" transform="translate(375 0) scale(1.45 1) translate(-375 0)">P</text><path d="M504 145H679L657 215H482z" fill="#2a69d2"/><text x="582" y="206" font-family="Liberation Sans, sans-serif" font-weight="bold" font-style="italic" font-size="74" fill="#fff" text-anchor="middle" transform="translate(582 0) scale(1.45 1) translate(-582 0)">R</text><path d="M711 145H886L864 215H689z" fill="#2a69d2"/><text x="789" y="206" font-family="Liberation Sans, sans-serif" font-weight="bold" font-style="italic" font-size="74" fill="#fff" text-anchor="middle" transform="translate(789 0) scale(1.45 1) translate(-789 0)">O</text><path d="M918 145H1093L1071 215H896z" fill="#2a69d2"/><text x="996" y="206" font-family="Liberation Sans, sans-serif" font-weight="bold" font-style="italic" font-size="74" fill="#fff" text-anchor="middle" transform="translate(996 0) scale(1.45 1) translate(-996 0)">F</text><path d="M1125 145H1300L1278 215H1103z" fill="#2a69d2"/><text x="1203" y="206" font-family="Liberation Sans, sans-serif" font-weight="bold" font-style="italic" font-size="74" fill="#fff" text-anchor="middle" transform="translate(1203 0) scale(1.45 1) translate(-1203 0)">I</text><path d="M160 232H1280L1270 265H150z" fill="#3b7adb"/><path d="M300 226H1230" stroke="#dde8fa" stroke-width="6" stroke-dasharray="60 30"/><path d="M180 270H1110" stroke="#dde8fa" stroke-width="6" stroke-dasharray="70 40"/><path d="M147 280H322L300 352H125z" fill="url(#pfb)"/><path d="M354 280H529L507 352H332z" fill="url(#pfb)"/><text x="432" y="342" font-family="Liberation Sans, sans-serif" font-weight="bold" font-size="70" fill="#fbe6e2" text-anchor="middle" transform="translate(432 0) scale(1.3 1) translate(-432 0)">B</text><path d="M561 280H736L714 352H539z" fill="url(#pfb)"/><text x="639" y="342" font-family="Liberation Sans, sans-serif" font-weight="bold" font-size="70" fill="#fbe6e2" text-anchor="middle" transform="translate(639 0) scale(1.3 1) translate(-639 0)">U</text><path d="M768 280H943L921 352H746z" fill="url(#pfb)"/><text x="846" y="342" font-family="Liberation Sans, sans-serif" font-weight="bold" font-size="70" fill="#fbe6e2" text-anchor="middle" transform="translate(846 0) scale(1.3 1) translate(-846 0)">S</text><path d="M975 280H1150L1128 352H953z" fill="url(#pfb)"/></g><g transform="translate(895 655) scale(0.22416)"><text x="180" y="822" font-family="Liberation Sans, sans-serif" font-weight="bold" font-style="italic" font-size="50" fill="#111" stroke="#111" stroke-width="2" textLength="258" lengthAdjust="spacingAndGlyphs">Wireless</text><text x="440" y="822" font-family="Liberation Sans, sans-serif" font-weight="bold" font-style="italic" font-size="50" fill="#e0222e" stroke="#e0222e" stroke-width="2.5" textLength="200" lengthAdjust="spacingAndGlyphs">HART</text></g>
</svg>
<div class="t" style="left:1136.0px;top:344.7px;font-size:13.4px;color:#fff;">Microsoft Azure</div>
<div class="t" style="left:249.0px;top:436.2px;font-size:14px;color:#1e1e1e;">GPA</div>
<div class="t" style="left:376.3px;top:419.3px;font-size:14px;color:#1e1e1e;">Fleet/Economic</div>
<div class="t" style="left:375.4px;top:436.3px;font-size:14px;color:#1e1e1e;">Optimization</div>
<div class="t" style="left:648.6px;top:434.3px;font-size:14px;color:#1e1e1e;">OSC</div>
<div class="t" style="left:802.3px;top:436.5px;font-size:14px;color:#1e1e1e;">EDS Enterprise</div>
<div class="t" style="left:915.7px;top:435.3px;font-size:14px;color:#1e1e1e;">EDS Client</div>
<div class="t" style="left:1304.2px;top:436.0px;font-size:14px;color:#1e1e1e;">DMO</div>
<div class="t" style="left:239.0px;top:568.2px;font-size:13.7px;color:#1e1e1e;">Engineer</div>
<div class="t" style="left:239.0px;top:585.2px;font-size:13.7px;color:#1e1e1e;">Station</div>
<div class="t" style="left:339.1px;top:568.2px;font-size:13.7px;color:#1e1e1e;">Historian</div>
<div class="t" style="left:339.1px;top:585.2px;font-size:13.7px;color:#1e1e1e;">Station</div>
<div class="t" style="left:430.8px;top:569.4px;font-size:13.7px;color:#1e1e1e;">Operator</div>
<div class="t" style="left:430.8px;top:586.4px;font-size:13.7px;color:#1e1e1e;">Station</div>
<div class="t" style="left:527.0px;top:568.2px;font-size:13.7px;color:#1e1e1e;">Generation</div>
<div class="t" style="left:527.0px;top:585.2px;font-size:13.7px;color:#1e1e1e;">Excitation</div>
<div class="t" style="left:607.3px;top:568.2px;font-size:13.7px;color:#1e1e1e;">ECMS</div>
<div class="t" style="left:607.3px;top:585.2px;font-size:13.7px;color:#1e1e1e;">Station</div>
<div class="t" style="left:710.4px;top:570.2px;font-size:13.7px;color:#1e1e1e;">Embedded</div>
<div class="t" style="left:710.6px;top:587.2px;font-size:13.7px;color:#1e1e1e;">Video&nbsp; System</div>
<div class="t" style="left:789.0px;top:588.9px;font-size:13.7px;color:#1e1e1e;">APS</div>
<div class="t" style="left:895.3px;top:589.7px;font-size:13.7px;color:#1e1e1e;">STO</div>
<div class="t" style="left:998.9px;top:588.9px;font-size:13.7px;color:#1e1e1e;">CBO</div>
<div class="t" style="left:1097.3px;top:588.2px;font-size:13.7px;color:#1e1e1e;">ISB</div>
<div class="t" style="left:877.6px;top:555.3px;font-size:13.7px;color:#1e1e1e;">AMO</div>
<div class="t" style="left:1117.0px;top:553.3px;font-size:13.7px;color:#1e1e1e;">URO</div>
<div class="t" style="left:1199.4px;top:571.1px;font-size:12.4px;color:#1e1e1e;">AMS Device</div>
<div class="t" style="left:1199.4px;top:585.5px;font-size:12.4px;color:#1e1e1e;">Manager</div>
<div class="t" style="left:1305.5px;top:571.1px;font-size:12.4px;color:#1e1e1e;">Machinery Healthy</div>
<div class="t" style="left:1305.2px;top:585.5px;font-size:12.4px;color:#1e1e1e;">Monitoring</div>
</div>
</body></html>
